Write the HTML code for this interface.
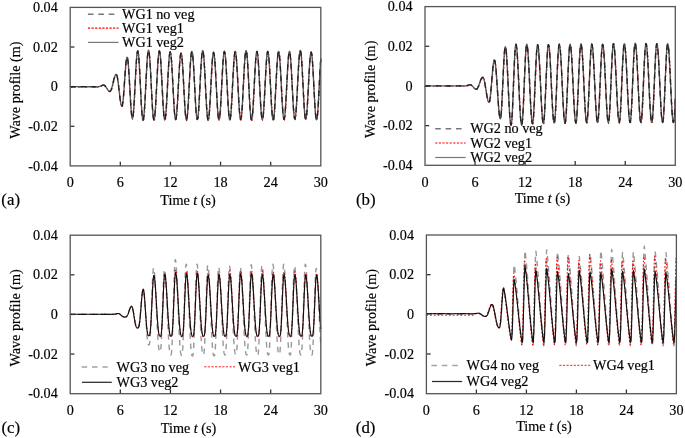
<!DOCTYPE html>
<html><head><meta charset="utf-8"><title>Wave profiles</title>
<style>
html,body{margin:0;padding:0;background:#fff;width:685px;height:438px;overflow:hidden}
svg{display:block;will-change:transform}
.ax{stroke:#333;stroke-width:1.3}
.fr{stroke:#555;stroke-width:1.3;fill:none}
text{font-family:"Liberation Serif", serif;stroke:#000;stroke-width:0.18px;paint-order:stroke}
</style></head><body>
<svg width="685" height="438" viewBox="0 0 685 438">
<rect width="685" height="438" fill="#fff"/>
<g font-family='"Liberation Serif", serif' fill="#000">
<text x="57.80" y="12.00" text-anchor="end" font-size="14.20">0.04</text>
<text x="57.80" y="51.62" text-anchor="end" font-size="14.20">0.02</text>
<line x1="70.20" y1="47.02" x2="74.40" y2="47.02" class="ax"/>
<text x="57.80" y="91.25" text-anchor="end" font-size="14.20">0</text>
<line x1="70.20" y1="86.65" x2="74.40" y2="86.65" class="ax"/>
<text x="57.80" y="130.88" text-anchor="end" font-size="14.20">-0.02</text>
<line x1="70.20" y1="126.28" x2="74.40" y2="126.28" class="ax"/>
<text x="57.80" y="170.50" text-anchor="end" font-size="14.20">-0.04</text>
<text x="70.20" y="186.90" text-anchor="middle" font-size="14.20">0</text>
<text x="120.32" y="186.90" text-anchor="middle" font-size="14.20">6</text>
<line x1="120.32" y1="165.90" x2="120.32" y2="161.70" class="ax"/>
<text x="170.44" y="186.90" text-anchor="middle" font-size="14.20">12</text>
<line x1="170.44" y1="165.90" x2="170.44" y2="161.70" class="ax"/>
<text x="220.56" y="186.90" text-anchor="middle" font-size="14.20">18</text>
<line x1="220.56" y1="165.90" x2="220.56" y2="161.70" class="ax"/>
<text x="270.68" y="186.90" text-anchor="middle" font-size="14.20">24</text>
<line x1="270.68" y1="165.90" x2="270.68" y2="161.70" class="ax"/>
<text x="320.80" y="186.90" text-anchor="middle" font-size="14.20">30</text>
<text x="160.30" y="204.70" font-size="14.20">Time <tspan font-style="italic">t</tspan> (s)</text>
<text transform="translate(1.30 205.00) scale(0.98 1)" font-size="17.2">(a)</text>
<text transform="translate(20.20 90.10) rotate(-90)" text-anchor="middle" font-size="14.20">Wave profile (m)</text>
<text x="412.60" y="11.20" text-anchor="end" font-size="14.20">0.04</text>
<text x="412.60" y="50.88" text-anchor="end" font-size="14.20">0.02</text>
<line x1="425.00" y1="46.28" x2="429.20" y2="46.28" class="ax"/>
<text x="412.60" y="90.55" text-anchor="end" font-size="14.20">0</text>
<line x1="425.00" y1="85.95" x2="429.20" y2="85.95" class="ax"/>
<text x="412.60" y="130.22" text-anchor="end" font-size="14.20">-0.02</text>
<line x1="425.00" y1="125.62" x2="429.20" y2="125.62" class="ax"/>
<text x="412.60" y="169.90" text-anchor="end" font-size="14.20">-0.04</text>
<text x="425.00" y="186.90" text-anchor="middle" font-size="14.20">0</text>
<text x="475.06" y="186.90" text-anchor="middle" font-size="14.20">6</text>
<line x1="475.06" y1="165.30" x2="475.06" y2="161.10" class="ax"/>
<text x="525.12" y="186.90" text-anchor="middle" font-size="14.20">12</text>
<line x1="525.12" y1="165.30" x2="525.12" y2="161.10" class="ax"/>
<text x="575.18" y="186.90" text-anchor="middle" font-size="14.20">18</text>
<line x1="575.18" y1="165.30" x2="575.18" y2="161.10" class="ax"/>
<text x="625.24" y="186.90" text-anchor="middle" font-size="14.20">24</text>
<line x1="625.24" y1="165.30" x2="625.24" y2="161.10" class="ax"/>
<text x="675.30" y="186.90" text-anchor="middle" font-size="14.20">30</text>
<text x="514.70" y="203.40" font-size="14.20">Time <tspan font-style="italic">t</tspan> (s)</text>
<text transform="translate(356.00 205.00) scale(0.98 1)" font-size="17.2">(b)</text>
<text transform="translate(375.00 89.30) rotate(-90)" text-anchor="middle" font-size="14.20">Wave profile (m)</text>
<text x="57.80" y="239.80" text-anchor="end" font-size="14.20">0.04</text>
<text x="57.80" y="279.43" text-anchor="end" font-size="14.20">0.02</text>
<line x1="70.20" y1="274.82" x2="74.40" y2="274.82" class="ax"/>
<text x="57.80" y="319.05" text-anchor="end" font-size="14.20">0</text>
<line x1="70.20" y1="314.45" x2="74.40" y2="314.45" class="ax"/>
<text x="57.80" y="358.68" text-anchor="end" font-size="14.20">-0.02</text>
<line x1="70.20" y1="354.07" x2="74.40" y2="354.07" class="ax"/>
<text x="57.80" y="398.30" text-anchor="end" font-size="14.20">-0.04</text>
<text x="70.20" y="414.70" text-anchor="middle" font-size="14.20">0</text>
<text x="120.32" y="414.70" text-anchor="middle" font-size="14.20">6</text>
<line x1="120.32" y1="393.70" x2="120.32" y2="389.50" class="ax"/>
<text x="170.44" y="414.70" text-anchor="middle" font-size="14.20">12</text>
<line x1="170.44" y1="393.70" x2="170.44" y2="389.50" class="ax"/>
<text x="220.56" y="414.70" text-anchor="middle" font-size="14.20">18</text>
<line x1="220.56" y1="393.70" x2="220.56" y2="389.50" class="ax"/>
<text x="270.68" y="414.70" text-anchor="middle" font-size="14.20">24</text>
<line x1="270.68" y1="393.70" x2="270.68" y2="389.50" class="ax"/>
<text x="320.80" y="414.70" text-anchor="middle" font-size="14.20">30</text>
<text x="160.80" y="432.70" font-size="14.20">Time <tspan font-style="italic">t</tspan> (s)</text>
<text transform="translate(1.40 432.60) scale(0.98 1)" font-size="17.2">(c)</text>
<text transform="translate(20.20 317.90) rotate(-90)" text-anchor="middle" font-size="14.20">Wave profile (m)</text>
<text x="414.00" y="239.60" text-anchor="end" font-size="14.20">0.04</text>
<text x="414.00" y="279.28" text-anchor="end" font-size="14.20">0.02</text>
<line x1="426.40" y1="274.68" x2="430.60" y2="274.68" class="ax"/>
<text x="414.00" y="318.95" text-anchor="end" font-size="14.20">0</text>
<line x1="426.40" y1="314.35" x2="430.60" y2="314.35" class="ax"/>
<text x="414.00" y="358.62" text-anchor="end" font-size="14.20">-0.02</text>
<line x1="426.40" y1="354.02" x2="430.60" y2="354.02" class="ax"/>
<text x="414.00" y="398.30" text-anchor="end" font-size="14.20">-0.04</text>
<text x="426.40" y="414.70" text-anchor="middle" font-size="14.20">0</text>
<text x="476.40" y="414.70" text-anchor="middle" font-size="14.20">6</text>
<line x1="476.40" y1="393.70" x2="476.40" y2="389.50" class="ax"/>
<text x="526.40" y="414.70" text-anchor="middle" font-size="14.20">12</text>
<line x1="526.40" y1="393.70" x2="526.40" y2="389.50" class="ax"/>
<text x="576.40" y="414.70" text-anchor="middle" font-size="14.20">18</text>
<line x1="576.40" y1="393.70" x2="576.40" y2="389.50" class="ax"/>
<text x="626.40" y="414.70" text-anchor="middle" font-size="14.20">24</text>
<line x1="626.40" y1="393.70" x2="626.40" y2="389.50" class="ax"/>
<text x="676.40" y="414.70" text-anchor="middle" font-size="14.20">30</text>
<text x="516.20" y="431.10" font-size="14.20">Time <tspan font-style="italic">t</tspan> (s)</text>
<text transform="translate(355.80 432.60) scale(0.98 1)" font-size="17.2">(d)</text>
<text transform="translate(376.40 317.70) rotate(-90)" text-anchor="middle" font-size="14.20">Wave profile (m)</text>
<line x1="87.90" y1="14.20" x2="118.50" y2="14.20" stroke="#777" stroke-width="1.5" stroke-dasharray="5.6 4.8"/>
<text x="122.00" y="18.90" text-anchor="start" font-size="14.20">WG1 no veg</text>
<line x1="87.90" y1="28.20" x2="118.50" y2="28.20" stroke="#f00" stroke-width="1.2" stroke-dasharray="2.2 1.4"/>
<text x="122.00" y="32.90" text-anchor="start" font-size="14.20">WG1 veg1</text>
<line x1="87.90" y1="42.40" x2="118.50" y2="42.40" stroke="#777" stroke-width="1.2"/>
<text x="122.00" y="47.10" text-anchor="start" font-size="14.20">WG1 veg2</text>
<line x1="435.20" y1="128.70" x2="465.60" y2="128.70" stroke="#777" stroke-width="1.5" stroke-dasharray="5.6 4.8"/>
<text x="470.20" y="133.40" text-anchor="start" font-size="14.20">WG2 no veg</text>
<line x1="435.20" y1="143.00" x2="465.60" y2="143.00" stroke="#f00" stroke-width="1.2" stroke-dasharray="2.2 1.4"/>
<text x="470.20" y="147.70" text-anchor="start" font-size="14.20">WG2 veg1</text>
<line x1="435.20" y1="157.50" x2="465.60" y2="157.50" stroke="#777" stroke-width="1.2"/>
<text x="470.20" y="162.20" text-anchor="start" font-size="14.20">WG2 veg2</text>
<line x1="81.60" y1="367.00" x2="107.80" y2="367.00" stroke="#a3a3a3" stroke-width="1.5" stroke-dasharray="5.6 4.8"/>
<text x="116.60" y="371.70" text-anchor="start" font-size="14.20">WG3 no veg</text>
<line x1="204.20" y1="366.80" x2="235.00" y2="366.80" stroke="#f22" stroke-width="1.0" stroke-dasharray="2.2 1.4"/>
<text x="238.00" y="371.50" text-anchor="start" font-size="14.20">WG3 veg1</text>
<line x1="82.00" y1="382.30" x2="111.80" y2="382.30" stroke="#2a2a2a" stroke-width="1.25"/>
<text x="116.60" y="387.00" text-anchor="start" font-size="14.20">WG3 veg2</text>
<line x1="431.40" y1="365.40" x2="458.10" y2="365.40" stroke="#a3a3a3" stroke-width="1.5" stroke-dasharray="5.6 4.8"/>
<text x="466.50" y="370.10" text-anchor="start" font-size="14.20">WG4 no veg</text>
<line x1="559.30" y1="365.30" x2="590.40" y2="365.30" stroke="#f22" stroke-width="1.0" stroke-dasharray="2.2 1.4"/>
<text x="593.10" y="370.00" text-anchor="start" font-size="14.20">WG4 veg1</text>
<line x1="432.00" y1="381.50" x2="462.20" y2="381.50" stroke="#2a2a2a" stroke-width="1.25"/>
<text x="466.50" y="386.20" text-anchor="start" font-size="14.20">WG4 veg2</text>
</g>
<path d="M70.50 87.10L70.50 87.03L72.00 87.17L73.50 87.15L75.00 87.05L76.50 87.10L78.00 87.09L79.50 87.13L81.00 87.16L82.50 87.02L84.00 87.01L85.50 87.17L87.00 87.09L88.50 87.15L90.00 87.00L91.50 87.09L93.00 87.14L94.50 87.05L96.00 87.19L97.50 87.18L98.48 87.10L98.74 87.09L99.00 87.06L99.25 87.02L99.51 86.96L99.77 86.89L100.03 86.80L100.29 86.70L100.54 86.59L100.80 86.48L101.06 86.36L101.32 86.24L101.58 86.12L101.84 86.01L102.09 85.90L102.35 85.80L102.61 85.71L102.87 85.64L103.13 85.58L103.38 85.54L103.64 85.51L103.90 85.50L104.15 85.52L104.40 85.60L104.66 85.72L104.91 85.89L105.16 86.10L105.41 86.35L105.66 86.64L105.92 86.96L106.17 87.31L106.42 87.68L106.67 88.06L106.92 88.45L107.18 88.85L107.43 89.24L107.68 89.62L107.93 89.99L108.18 90.34L108.44 90.66L108.69 90.95L108.94 91.20L109.19 91.41L109.44 91.58L109.70 91.70L109.95 91.78L110.20 91.80L110.45 91.73L110.70 91.53L110.96 91.20L111.21 90.74L111.46 90.17L111.71 89.48L111.96 88.70L112.22 87.83L112.47 86.89L112.72 85.89L112.97 84.85L113.22 83.79L113.48 82.71L113.73 81.65L113.98 80.61L114.23 79.61L114.48 78.67L114.74 77.80L114.99 77.02L115.24 76.33L115.49 75.76L115.74 75.30L116.00 74.97L116.25 74.77L116.50 74.70L116.76 74.86L117.02 75.35L117.28 76.14L117.54 77.23L117.80 78.60L118.05 80.20L118.31 82.03L118.57 84.02L118.83 86.16L119.09 88.38L119.35 90.65L119.61 92.92L119.87 95.14L120.13 97.28L120.39 99.27L120.65 101.40L120.90 103.00L121.16 104.37L121.42 105.46L121.68 106.25L121.94 106.74L122.20 106.90L122.46 106.60L122.72 105.70L122.98 104.23L123.24 102.22L123.50 99.42L123.76 96.50L124.02 93.22L124.28 89.67L124.54 85.93L124.80 82.10L125.06 78.27L125.32 74.53L125.58 70.98L125.84 67.70L126.10 64.78L126.36 62.28L126.62 60.27L126.88 58.80L127.14 57.90L127.40 57.60L127.65 57.94L127.90 58.96L128.16 60.64L128.41 62.93L128.66 65.78L128.91 69.14L129.17 72.93L129.42 77.05L129.67 81.43L129.92 85.96L130.18 90.54L130.43 95.07L130.68 99.45L130.93 103.88L131.19 107.66L131.44 111.02L131.69 113.87L131.94 116.16L132.20 117.84L132.45 118.86L132.70 119.20L132.95 118.82L133.20 117.70L133.46 115.85L133.71 113.33L133.96 110.18L134.21 106.47L134.47 102.30L134.72 97.45L134.97 92.62L135.22 87.63L135.48 82.57L135.73 77.58L135.98 72.75L136.23 68.20L136.49 64.03L136.74 60.32L136.99 57.17L137.24 54.65L137.50 52.80L137.75 51.68L138.00 51.30L138.25 51.69L138.50 52.84L138.76 54.74L139.01 57.33L139.26 60.56L139.51 64.36L139.77 68.65L140.02 73.32L140.27 78.28L140.52 83.41L140.78 88.59L141.03 93.72L141.28 98.68L141.53 103.65L141.79 107.94L142.04 111.74L142.29 114.97L142.54 117.56L142.80 119.46L143.05 120.61L143.30 121.00L143.55 120.64L143.80 119.58L144.05 117.83L144.30 115.44L144.55 112.44L144.80 108.90L145.05 104.90L145.30 100.21L145.55 95.52L145.80 90.64L146.05 85.65L146.30 80.66L146.55 75.78L146.80 71.09L147.05 66.70L147.30 62.70L147.55 59.16L147.80 56.16L148.05 53.77L148.30 52.02L148.55 50.96L148.80 50.60L149.06 50.99L149.32 52.15L149.57 54.06L149.83 56.66L150.09 59.92L150.35 63.74L150.61 68.05L150.86 72.75L151.12 77.73L151.38 82.89L151.64 88.11L151.90 93.27L152.16 98.25L152.41 103.25L152.67 107.56L152.93 111.38L153.19 114.64L153.45 117.24L153.70 119.15L153.96 120.31L154.22 120.70L154.48 120.31L154.74 119.17L154.99 117.28L155.25 114.70L155.51 111.48L155.77 107.69L156.03 103.43L156.28 98.47L156.54 93.54L156.80 88.43L157.06 83.27L157.32 78.16L157.58 73.23L157.83 68.58L158.09 64.31L158.35 60.52L158.61 57.30L158.87 54.72L159.12 52.83L159.38 51.69L159.64 51.30L159.90 51.69L160.16 52.83L160.41 54.72L160.67 57.30L160.93 60.52L161.19 64.31L161.45 68.58L161.70 73.23L161.96 78.16L162.22 83.27L162.48 88.43L162.74 93.54L163.00 98.47L163.25 103.42L163.51 107.69L163.77 111.48L164.03 114.70L164.29 117.28L164.54 119.17L164.80 120.31L165.06 120.70L165.32 120.32L165.58 119.19L165.83 117.32L166.09 114.77L166.35 111.60L166.61 107.86L166.87 103.65L167.12 98.76L167.38 93.89L167.64 88.85L167.90 83.75L168.16 78.71L168.42 73.84L168.67 69.25L168.93 65.04L169.19 61.30L169.45 58.13L169.71 55.58L169.96 53.71L170.22 52.58L170.48 52.20L170.74 52.58L171.00 53.71L171.25 55.56L171.51 58.09L171.77 61.25L172.03 64.96L172.29 69.15L172.54 73.71L172.80 78.56L173.06 83.57L173.32 88.63L173.58 93.64L173.84 98.49L174.09 103.35L174.35 107.54L174.61 111.25L174.87 114.41L175.13 116.94L175.38 118.79L175.64 119.92L175.90 120.30L176.16 119.93L176.42 118.82L176.67 117.01L176.93 114.52L177.19 111.42L177.45 107.78L177.71 103.67L177.96 98.90L178.22 94.15L178.48 89.23L178.74 84.27L179.00 79.35L179.26 74.60L179.51 70.12L179.77 66.02L180.03 62.38L180.29 59.28L180.55 56.79L180.80 54.98L181.06 53.87L181.32 53.50L181.58 53.87L181.84 54.99L182.09 56.81L182.35 59.31L182.61 62.43L182.87 66.09L183.13 70.22L183.38 74.73L183.64 79.51L183.90 84.45L184.16 89.45L184.42 94.39L184.68 99.17L184.93 103.97L185.19 108.11L185.45 111.77L185.71 114.89L185.97 117.39L186.22 119.21L186.48 120.33L186.74 120.70L187.00 120.32L187.26 119.18L187.51 117.30L187.77 114.74L188.03 111.54L188.29 107.79L188.55 103.55L188.80 98.63L189.06 93.73L189.32 88.66L189.58 83.54L189.84 78.47L190.10 73.57L190.35 68.95L190.61 64.71L190.87 60.96L191.13 57.76L191.39 55.20L191.64 53.32L191.90 52.18L192.16 51.80L192.42 52.18L192.68 53.31L192.93 55.17L193.19 57.72L193.45 60.89L193.71 64.62L193.97 68.83L194.22 73.41L194.48 78.27L194.74 83.31L195.00 88.39L195.26 93.43L195.52 98.29L195.77 103.17L196.03 107.38L196.29 111.11L196.55 114.28L196.81 116.83L197.06 118.69L197.32 119.82L197.58 120.20L197.84 119.81L198.10 118.67L198.35 116.78L198.61 114.21L198.87 110.99L199.13 107.21L199.39 102.95L199.64 98.00L199.90 93.08L200.16 87.98L200.42 82.82L200.68 77.72L200.94 72.80L201.19 68.15L201.45 63.89L201.71 60.11L201.97 56.89L202.23 54.32L202.48 52.43L202.74 51.29L203.00 50.90L203.26 51.29L203.52 52.45L203.77 54.35L204.03 56.96L204.29 60.20L204.55 64.02L204.81 68.33L205.06 73.02L205.32 78.00L205.58 83.15L205.84 88.35L206.10 93.50L206.36 98.48L206.61 103.47L206.87 107.78L207.13 111.60L207.39 114.84L207.65 117.45L207.90 119.35L208.16 120.51L208.42 120.90L208.68 120.52L208.94 119.39L209.19 117.54L209.45 115.00L209.71 111.84L209.97 108.12L210.23 103.93L210.48 99.05L210.74 94.20L211.00 89.19L211.26 84.11L211.52 79.10L211.78 74.25L212.03 69.68L212.29 65.48L212.55 61.76L212.81 58.60L213.07 56.06L213.32 54.21L213.58 53.08L213.84 52.70L214.10 53.08L214.36 54.20L214.61 56.04L214.87 58.56L215.13 61.71L215.39 65.41L215.65 69.58L215.90 74.12L216.16 78.94L216.42 83.93L216.68 88.97L216.94 93.96L217.20 98.78L217.45 103.62L217.71 107.79L217.97 111.49L218.23 114.64L218.49 117.16L218.74 119.00L219.00 120.12L219.26 120.50L219.52 120.12L219.78 118.98L220.03 117.11L220.29 114.56L220.55 111.37L220.81 107.62L221.07 103.40L221.32 98.49L221.58 93.61L221.84 88.56L222.10 83.44L222.36 78.39L222.62 73.51L222.87 68.90L223.13 64.68L223.39 60.93L223.65 57.74L223.91 55.19L224.16 53.32L224.42 52.18L224.68 51.80L224.94 52.18L225.20 53.32L225.45 55.20L225.71 57.76L225.97 60.96L226.23 64.71L226.49 68.95L226.74 73.57L227.00 78.47L227.26 83.54L227.52 88.66L227.78 93.73L228.04 98.63L228.29 103.55L228.55 107.79L228.81 111.54L229.07 114.74L229.33 117.30L229.58 119.18L229.84 120.32L230.10 120.70L230.36 120.32L230.62 119.18L230.87 117.30L231.13 114.74L231.39 111.54L231.65 107.79L231.91 103.55L232.16 98.63L232.42 93.73L232.68 88.66L232.94 83.54L233.20 78.47L233.46 73.57L233.71 68.95L233.97 64.71L234.23 60.96L234.49 57.76L234.75 55.20L235.00 53.32L235.26 52.18L235.52 51.80L235.78 52.18L236.04 53.31L236.29 55.17L236.55 57.72L236.81 60.89L237.07 64.62L237.33 68.83L237.58 73.41L237.84 78.27L238.10 83.31L238.36 88.39L238.62 93.43L238.88 98.29L239.13 103.17L239.39 107.38L239.65 111.11L239.91 114.28L240.17 116.83L240.42 118.69L240.68 119.82L240.94 120.20L241.20 119.81L241.46 118.67L241.71 116.78L241.97 114.21L242.23 110.99L242.49 107.21L242.75 102.95L243.00 98.00L243.26 93.08L243.52 87.98L243.78 82.82L244.04 77.72L244.30 72.80L244.55 68.15L244.81 63.89L245.07 60.11L245.33 56.89L245.59 54.32L245.84 52.43L246.10 51.29L246.36 50.90L246.62 51.29L246.88 52.44L247.13 54.34L247.39 56.94L247.65 60.18L247.91 63.98L248.17 68.28L248.42 72.95L248.68 77.92L248.94 83.05L249.20 88.25L249.46 93.38L249.72 98.35L249.97 103.33L250.23 107.62L250.49 111.42L250.75 114.66L251.01 117.26L251.26 119.16L251.52 120.31L251.78 120.70L252.04 120.32L252.30 119.18L252.55 117.30L252.81 114.74L253.07 111.54L253.33 107.79L253.59 103.55L253.84 98.63L254.10 93.73L254.36 88.66L254.62 83.54L254.88 78.47L255.14 73.57L255.39 68.95L255.65 64.71L255.91 60.96L256.17 57.76L256.43 55.20L256.68 53.32L256.94 52.18L257.20 51.80L257.46 52.18L257.72 53.31L257.97 55.18L258.23 57.73L258.49 60.90L258.75 64.64L259.01 68.85L259.26 73.44L259.52 78.31L259.78 83.35L260.04 88.45L260.30 93.49L260.56 98.36L260.81 103.25L261.07 107.46L261.33 111.20L261.59 114.37L261.85 116.92L262.10 118.79L262.36 119.92L262.62 120.30L262.88 119.92L263.14 118.79L263.39 116.92L263.65 114.37L263.91 111.20L264.17 107.46L264.43 103.25L264.68 98.36L264.94 93.49L265.20 88.45L265.46 83.35L265.72 78.31L265.98 73.44L266.23 68.85L266.49 64.64L266.75 60.90L267.01 57.73L267.27 55.18L267.52 53.31L267.78 52.18L268.04 51.80L268.30 52.18L268.56 53.33L268.81 55.20L269.07 57.77L269.33 60.97L269.59 64.73L269.85 68.98L270.10 73.60L270.36 78.51L270.62 83.58L270.88 88.72L271.14 93.79L271.40 98.70L271.65 103.62L271.91 107.87L272.17 111.63L272.43 114.83L272.69 117.40L272.94 119.27L273.20 120.42L273.46 120.80L273.72 120.42L273.98 119.27L274.23 117.40L274.49 114.83L274.75 111.63L275.01 107.87L275.27 103.63L275.52 98.70L275.78 93.79L276.04 88.72L276.30 83.58L276.56 78.51L276.82 73.60L277.07 68.98L277.33 64.73L277.59 60.97L277.85 57.77L278.11 55.20L278.36 53.33L278.62 52.18L278.88 51.80L279.14 52.18L279.40 53.31L279.65 55.17L279.91 57.71L280.17 60.88L280.43 64.60L280.69 68.80L280.94 73.38L281.20 78.23L281.46 83.26L281.72 88.34L281.98 93.37L282.24 98.22L282.49 103.10L282.75 107.30L283.01 111.02L283.27 114.19L283.53 116.73L283.78 118.59L284.04 119.72L284.30 120.10L284.56 119.72L284.82 118.59L285.07 116.73L285.33 114.19L285.59 111.02L285.85 107.30L286.11 103.10L286.36 98.22L286.62 93.37L286.88 88.34L287.14 83.26L287.40 78.23L287.66 73.38L287.91 68.80L288.17 64.60L288.43 60.88L288.69 57.71L288.95 55.17L289.20 53.31L289.46 52.18L289.72 51.80L289.98 52.18L290.24 53.30L290.49 55.15L290.75 57.67L291.01 60.82L291.27 64.53L291.53 68.70L291.78 73.25L292.04 78.08L292.30 83.07L292.56 88.13L292.82 93.12L293.08 97.95L293.33 102.80L293.59 106.97L293.85 110.68L294.11 113.83L294.37 116.35L294.62 118.20L294.88 119.32L295.14 119.70L295.40 119.32L295.66 118.18L295.91 116.30L296.17 113.74L296.43 110.54L296.69 106.79L296.95 102.55L297.20 97.63L297.46 92.73L297.72 87.66L297.98 82.54L298.24 77.47L298.50 72.57L298.75 67.95L299.01 63.71L299.27 59.96L299.53 56.76L299.79 54.20L300.04 52.32L300.30 51.18L300.56 50.80L300.82 51.19L301.08 52.33L301.33 54.22L301.59 56.79L301.85 60.01L302.11 63.79L302.37 68.05L302.62 72.70L302.88 77.62L303.14 82.72L303.40 87.88L303.66 92.98L303.92 97.90L304.17 102.85L304.43 107.11L304.69 110.89L304.95 114.11L305.21 116.68L305.46 118.57L305.72 119.71L305.98 120.10L306.24 119.72L306.50 118.60L306.75 116.76L307.01 114.24L307.27 111.10L307.53 107.41L307.79 103.25L308.04 98.41L308.30 93.60L308.56 88.62L308.82 83.58L309.08 78.60L309.34 73.79L309.59 69.25L309.85 65.09L310.11 61.40L310.37 58.26L310.63 55.74L310.88 53.90L311.14 52.78L311.40 52.40L311.66 52.78L311.92 53.91L312.17 55.76L312.43 58.29L312.69 61.45L312.95 65.16L313.21 69.35L313.46 73.91L313.72 78.76L313.98 83.77L314.24 88.83L314.50 93.84L314.76 98.69L315.01 103.55L315.27 107.74L315.53 111.45L315.79 114.61L316.05 117.14L316.30 118.99L316.56 120.12L316.82 120.50L317.08 120.12L317.34 118.97L317.59 117.09L317.85 114.52L318.11 111.32L318.37 107.55L318.63 103.30L318.88 98.37L319.14 93.45L319.40 88.37L319.66 83.23L319.92 78.15L320.18 73.23L320.43 68.60L320.69 64.35L320.95 60.58L321.10 58.71" fill="none" stroke="#e00" stroke-width="1.10" stroke-dasharray="1.6 2.2" stroke-linejoin="round"/>
<path d="M70.20 86.70L70.20 86.63L71.70 86.77L73.20 86.75L74.70 86.65L76.20 86.70L77.70 86.69L79.20 86.73L80.70 86.76L82.20 86.62L83.70 86.61L85.20 86.77L86.70 86.69L88.20 86.75L89.70 86.60L91.20 86.69L92.70 86.74L94.20 86.65L95.70 86.79L97.20 86.78L98.18 86.70L98.44 86.69L98.70 86.66L98.95 86.62L99.21 86.56L99.47 86.49L99.73 86.40L99.99 86.30L100.24 86.19L100.50 86.08L100.76 85.96L101.02 85.84L101.28 85.72L101.54 85.61L101.79 85.50L102.05 85.40L102.31 85.31L102.57 85.24L102.83 85.18L103.08 85.14L103.34 85.11L103.60 85.10L103.85 85.12L104.10 85.20L104.36 85.32L104.61 85.49L104.86 85.70L105.11 85.95L105.36 86.24L105.62 86.56L105.87 86.91L106.12 87.28L106.37 87.66L106.62 88.05L106.88 88.45L107.13 88.84L107.38 89.22L107.63 89.59L107.88 89.94L108.14 90.26L108.39 90.55L108.64 90.80L108.89 91.01L109.14 91.18L109.40 91.30L109.65 91.38L109.90 91.40L110.15 91.33L110.40 91.13L110.66 90.80L110.91 90.34L111.16 89.77L111.41 89.08L111.66 88.30L111.92 87.43L112.17 86.49L112.42 85.49L112.67 84.45L112.92 83.39L113.18 82.31L113.43 81.25L113.68 80.21L113.93 79.21L114.18 78.27L114.44 77.40L114.69 76.62L114.94 75.93L115.19 75.36L115.44 74.90L115.70 74.57L115.95 74.37L116.20 74.30L116.46 74.46L116.72 74.95L116.98 75.74L117.24 76.83L117.50 78.20L117.75 79.80L118.01 81.63L118.27 83.62L118.53 85.76L118.79 87.98L119.05 90.25L119.31 92.52L119.57 94.74L119.83 96.88L120.09 98.87L120.35 100.70L120.60 102.30L120.86 103.67L121.12 104.76L121.38 105.55L121.64 106.04L121.90 106.20L122.16 105.90L122.42 105.00L122.68 103.53L122.94 101.52L123.20 99.02L123.46 96.10L123.72 92.82L123.98 89.27L124.24 85.53L124.50 81.70L124.76 77.87L125.02 74.13L125.28 70.58L125.54 67.30L125.80 64.38L126.06 61.88L126.32 59.87L126.58 58.40L126.84 57.50L127.10 57.20L127.35 57.54L127.60 58.56L127.86 60.24L128.11 62.53L128.36 65.38L128.61 68.74L128.87 72.53L129.12 76.65L129.37 81.03L129.62 85.56L129.88 90.14L130.13 94.67L130.38 99.05L130.63 103.17L130.89 106.96L131.14 110.32L131.39 113.17L131.64 115.46L131.90 117.14L132.15 118.16L132.40 118.50L132.65 118.12L132.90 117.00L133.16 115.15L133.41 112.63L133.66 109.48L133.91 105.77L134.17 101.60L134.42 97.05L134.67 92.22L134.92 87.23L135.18 82.17L135.43 77.18L135.68 72.35L135.93 67.80L136.19 63.63L136.44 59.92L136.69 56.77L136.94 54.25L137.20 52.40L137.45 51.28L137.70 50.90L137.95 51.29L138.20 52.44L138.46 54.34L138.71 56.93L138.96 60.16L139.21 63.96L139.47 68.25L139.72 72.92L139.97 77.88L140.22 83.01L140.48 88.19L140.73 93.32L140.98 98.28L141.23 102.95L141.49 107.24L141.74 111.04L141.99 114.27L142.24 116.86L142.50 118.76L142.75 119.91L143.00 120.30L143.25 119.94L143.50 118.88L143.75 117.13L144.00 114.74L144.25 111.74L144.50 108.20L144.75 104.20L145.00 99.81L145.25 95.12L145.50 90.24L145.75 85.25L146.00 80.26L146.25 75.38L146.50 70.69L146.75 66.30L147.00 62.30L147.25 58.76L147.50 55.76L147.75 53.37L148.00 51.62L148.25 50.56L148.50 50.20L148.76 50.59L149.02 51.75L149.27 53.66L149.53 56.26L149.79 59.52L150.05 63.34L150.31 67.65L150.56 72.35L150.82 77.33L151.08 82.49L151.34 87.71L151.60 92.87L151.86 97.85L152.11 102.55L152.37 106.86L152.63 110.68L152.89 113.94L153.15 116.54L153.40 118.45L153.66 119.61L153.92 120.00L154.18 119.61L154.44 118.47L154.69 116.58L154.95 114.00L155.21 110.78L155.47 106.99L155.73 102.73L155.98 98.07L156.24 93.14L156.50 88.03L156.76 82.87L157.02 77.76L157.28 72.83L157.53 68.18L157.79 63.91L158.05 60.12L158.31 56.90L158.57 54.32L158.82 52.43L159.08 51.29L159.34 50.90L159.60 51.29L159.86 52.43L160.11 54.32L160.37 56.90L160.63 60.12L160.89 63.91L161.15 68.18L161.40 72.83L161.66 77.76L161.92 82.87L162.18 88.03L162.44 93.14L162.70 98.07L162.95 102.72L163.21 106.99L163.47 110.78L163.73 114.00L163.99 116.58L164.24 118.47L164.50 119.61L164.76 120.00L165.02 119.62L165.28 118.49L165.53 116.62L165.79 114.07L166.05 110.90L166.31 107.16L166.57 102.95L166.82 98.36L167.08 93.49L167.34 88.45L167.60 83.35L167.86 78.31L168.12 73.44L168.37 68.85L168.63 64.64L168.89 60.90L169.15 57.73L169.41 55.18L169.66 53.31L169.92 52.18L170.18 51.80L170.44 52.18L170.70 53.31L170.95 55.16L171.21 57.69L171.47 60.85L171.73 64.56L171.99 68.75L172.24 73.31L172.50 78.16L172.76 83.17L173.02 88.23L173.28 93.24L173.54 98.09L173.79 102.65L174.05 106.84L174.31 110.55L174.57 113.71L174.83 116.24L175.08 118.09L175.34 119.22L175.60 119.60L175.86 119.23L176.12 118.12L176.37 116.31L176.63 113.82L176.89 110.72L177.15 107.08L177.41 102.97L177.66 98.50L177.92 93.75L178.18 88.83L178.44 83.87L178.70 78.95L178.96 74.20L179.21 69.72L179.47 65.62L179.73 61.98L179.99 58.88L180.25 56.39L180.50 54.58L180.76 53.47L181.02 53.10L181.28 53.47L181.54 54.59L181.79 56.41L182.05 58.91L182.31 62.03L182.57 65.69L182.83 69.82L183.08 74.33L183.34 79.11L183.60 84.05L183.86 89.05L184.12 93.99L184.38 98.77L184.63 103.27L184.89 107.41L185.15 111.07L185.41 114.19L185.67 116.69L185.92 118.51L186.18 119.63L186.44 120.00L186.70 119.62L186.96 118.48L187.21 116.60L187.47 114.04L187.73 110.84L187.99 107.09L188.25 102.85L188.50 98.23L188.76 93.33L189.02 88.26L189.28 83.14L189.54 78.07L189.80 73.17L190.05 68.55L190.31 64.31L190.57 60.56L190.83 57.36L191.09 54.80L191.34 52.92L191.60 51.78L191.86 51.40L192.12 51.78L192.38 52.91L192.63 54.77L192.89 57.32L193.15 60.49L193.41 64.22L193.67 68.43L193.92 73.01L194.18 77.87L194.44 82.91L194.70 87.99L194.96 93.03L195.22 97.89L195.47 102.47L195.73 106.68L195.99 110.41L196.25 113.58L196.51 116.13L196.76 117.99L197.02 119.12L197.28 119.50L197.54 119.11L197.80 117.97L198.05 116.08L198.31 113.51L198.57 110.29L198.83 106.51L199.09 102.25L199.34 97.60L199.60 92.68L199.86 87.58L200.12 82.42L200.38 77.32L200.64 72.40L200.89 67.75L201.15 63.49L201.41 59.71L201.67 56.49L201.93 53.92L202.18 52.03L202.44 50.89L202.70 50.50L202.96 50.89L203.22 52.05L203.47 53.95L203.73 56.56L203.99 59.80L204.25 63.62L204.51 67.92L204.76 72.62L205.02 77.60L205.28 82.75L205.54 87.95L205.80 93.10L206.06 98.08L206.31 102.77L206.57 107.08L206.83 110.90L207.09 114.14L207.35 116.75L207.60 118.65L207.86 119.81L208.12 120.20L208.38 119.82L208.64 118.69L208.89 116.84L209.15 114.30L209.41 111.14L209.67 107.42L209.93 103.23L210.18 98.65L210.44 93.80L210.70 88.79L210.96 83.71L211.22 78.70L211.48 73.85L211.73 69.28L211.99 65.08L212.25 61.36L212.51 58.20L212.77 55.66L213.02 53.81L213.28 52.68L213.54 52.30L213.80 52.68L214.06 53.80L214.31 55.64L214.57 58.16L214.83 61.31L215.09 65.01L215.35 69.17L215.60 73.72L215.86 78.54L216.12 83.53L216.38 88.57L216.64 93.56L216.90 98.38L217.15 102.92L217.41 107.09L217.67 110.79L217.93 113.94L218.19 116.46L218.44 118.30L218.70 119.42L218.96 119.80L219.22 119.42L219.48 118.28L219.73 116.41L219.99 113.86L220.25 110.67L220.51 106.92L220.77 102.70L221.02 98.09L221.28 93.21L221.54 88.16L221.80 83.04L222.06 77.99L222.32 73.11L222.57 68.50L222.83 64.28L223.09 60.53L223.35 57.34L223.61 54.79L223.86 52.92L224.12 51.78L224.38 51.40L224.64 51.78L224.90 52.92L225.15 54.80L225.41 57.36L225.67 60.56L225.93 64.31L226.19 68.55L226.44 73.17L226.70 78.07L226.96 83.14L227.22 88.26L227.48 93.33L227.74 98.23L227.99 102.85L228.25 107.09L228.51 110.84L228.77 114.04L229.03 116.60L229.28 118.48L229.54 119.62L229.80 120.00L230.06 119.62L230.32 118.48L230.57 116.60L230.83 114.04L231.09 110.84L231.35 107.09L231.61 102.85L231.86 98.23L232.12 93.33L232.38 88.26L232.64 83.14L232.90 78.07L233.16 73.17L233.41 68.55L233.67 64.31L233.93 60.56L234.19 57.36L234.45 54.80L234.70 52.92L234.96 51.78L235.22 51.40L235.48 51.78L235.74 52.91L235.99 54.77L236.25 57.32L236.51 60.49L236.77 64.22L237.03 68.43L237.28 73.01L237.54 77.87L237.80 82.91L238.06 87.99L238.32 93.03L238.58 97.89L238.83 102.47L239.09 106.68L239.35 110.41L239.61 113.58L239.87 116.13L240.12 117.99L240.38 119.12L240.64 119.50L240.90 119.11L241.16 117.97L241.41 116.08L241.67 113.51L241.93 110.29L242.19 106.51L242.45 102.25L242.70 97.60L242.96 92.68L243.22 87.58L243.48 82.42L243.74 77.32L244.00 72.40L244.25 67.75L244.51 63.49L244.77 59.71L245.03 56.49L245.29 53.92L245.54 52.03L245.80 50.89L246.06 50.50L246.32 50.89L246.58 52.04L246.83 53.94L247.09 56.54L247.35 59.78L247.61 63.58L247.87 67.88L248.12 72.55L248.38 77.52L248.64 82.65L248.90 87.85L249.16 92.98L249.42 97.95L249.67 102.62L249.93 106.92L250.19 110.72L250.45 113.96L250.71 116.56L250.96 118.46L251.22 119.61L251.48 120.00L251.74 119.62L252.00 118.48L252.25 116.60L252.51 114.04L252.77 110.84L253.03 107.09L253.29 102.85L253.54 98.23L253.80 93.33L254.06 88.26L254.32 83.14L254.58 78.07L254.84 73.17L255.09 68.55L255.35 64.31L255.61 60.56L255.87 57.36L256.13 54.80L256.38 52.92L256.64 51.78L256.90 51.40L257.16 51.78L257.42 52.91L257.67 54.78L257.93 57.33L258.19 60.50L258.45 64.24L258.71 68.45L258.96 73.04L259.22 77.91L259.48 82.95L259.74 88.05L260.00 93.09L260.26 97.96L260.51 102.55L260.77 106.76L261.03 110.50L261.29 113.67L261.55 116.22L261.80 118.09L262.06 119.22L262.32 119.60L262.58 119.22L262.84 118.09L263.09 116.22L263.35 113.67L263.61 110.50L263.87 106.76L264.13 102.55L264.38 97.96L264.64 93.09L264.90 88.05L265.16 82.95L265.42 77.91L265.68 73.04L265.93 68.45L266.19 64.24L266.45 60.50L266.71 57.33L266.97 54.78L267.22 52.91L267.48 51.78L267.74 51.40L268.00 51.78L268.26 52.93L268.51 54.80L268.77 57.37L269.03 60.57L269.29 64.33L269.55 68.58L269.80 73.20L270.06 78.11L270.32 83.18L270.58 88.32L270.84 93.39L271.10 98.30L271.35 102.92L271.61 107.17L271.87 110.93L272.13 114.13L272.39 116.70L272.64 118.57L272.90 119.72L273.16 120.10L273.42 119.72L273.68 118.57L273.93 116.70L274.19 114.13L274.45 110.93L274.71 107.17L274.97 102.93L275.22 98.30L275.48 93.39L275.74 88.32L276.00 83.18L276.26 78.11L276.52 73.20L276.77 68.58L277.03 64.33L277.29 60.57L277.55 57.37L277.81 54.80L278.06 52.93L278.32 51.78L278.58 51.40L278.84 51.78L279.10 52.91L279.35 54.77L279.61 57.31L279.87 60.48L280.13 64.20L280.39 68.40L280.64 72.98L280.90 77.83L281.16 82.86L281.42 87.94L281.68 92.97L281.94 97.82L282.19 102.40L282.45 106.60L282.71 110.32L282.97 113.49L283.23 116.03L283.48 117.89L283.74 119.02L284.00 119.40L284.26 119.02L284.52 117.89L284.77 116.03L285.03 113.49L285.29 110.32L285.55 106.60L285.81 102.40L286.06 97.82L286.32 92.97L286.58 87.94L286.84 82.86L287.10 77.83L287.36 72.98L287.61 68.40L287.87 64.20L288.13 60.48L288.39 57.31L288.65 54.77L288.90 52.91L289.16 51.78L289.42 51.40L289.68 51.78L289.94 52.90L290.19 54.75L290.45 57.27L290.71 60.42L290.97 64.13L291.23 68.30L291.48 72.85L291.74 77.68L292.00 82.67L292.26 87.73L292.52 92.72L292.78 97.55L293.03 102.10L293.29 106.27L293.55 109.98L293.81 113.13L294.07 115.65L294.32 117.50L294.58 118.62L294.84 119.00L295.10 118.62L295.36 117.48L295.61 115.60L295.87 113.04L296.13 109.84L296.39 106.09L296.65 101.85L296.90 97.23L297.16 92.33L297.42 87.26L297.68 82.14L297.94 77.07L298.20 72.17L298.45 67.55L298.71 63.31L298.97 59.56L299.23 56.36L299.49 53.80L299.74 51.92L300.00 50.78L300.26 50.40L300.52 50.79L300.78 51.93L301.03 53.82L301.29 56.39L301.55 59.61L301.81 63.39L302.07 67.65L302.32 72.30L302.58 77.22L302.84 82.32L303.10 87.48L303.36 92.58L303.62 97.50L303.87 102.15L304.13 106.41L304.39 110.19L304.65 113.41L304.91 115.98L305.16 117.87L305.42 119.01L305.68 119.40L305.94 119.02L306.20 117.90L306.45 116.06L306.71 113.54L306.97 110.40L307.23 106.71L307.49 102.55L307.74 98.01L308.00 93.20L308.26 88.22L308.52 83.18L308.78 78.20L309.04 73.39L309.29 68.85L309.55 64.69L309.81 61.00L310.07 57.86L310.33 55.34L310.58 53.50L310.84 52.38L311.10 52.00L311.36 52.38L311.62 53.51L311.87 55.36L312.13 57.89L312.39 61.05L312.65 64.76L312.91 68.95L313.16 73.51L313.42 78.36L313.68 83.37L313.94 88.43L314.20 93.44L314.46 98.29L314.71 102.85L314.97 107.04L315.23 110.75L315.49 113.91L315.75 116.44L316.00 118.29L316.26 119.42L316.52 119.80L316.78 119.42L317.04 118.27L317.29 116.39L317.55 113.82L317.81 110.62L318.07 106.85L318.33 102.60L318.58 97.97L318.84 93.05L319.10 87.97L319.36 82.83L319.62 77.75L319.88 72.83L320.13 68.20L320.39 63.95L320.65 60.18L320.80 58.31" fill="none" stroke="#555" stroke-width="1.30" stroke-linejoin="round"/>
<path d="M70.20 86.70L70.20 86.63L71.70 86.77L73.20 86.75L74.70 86.65L76.20 86.70L77.70 86.69L79.20 86.73L80.70 86.76L82.20 86.62L83.70 86.61L85.20 86.77L86.70 86.69L88.20 86.75L89.70 86.60L91.20 86.69L92.70 86.74L94.20 86.65L95.70 86.79L97.20 86.78L98.18 86.70L98.44 86.69L98.70 86.66L98.95 86.62L99.21 86.56L99.47 86.49L99.73 86.40L99.99 86.30L100.24 86.19L100.50 86.08L100.76 85.96L101.02 85.84L101.28 85.72L101.54 85.61L101.79 85.50L102.05 85.40L102.31 85.31L102.57 85.24L102.83 85.18L103.08 85.14L103.34 85.11L103.60 85.10L103.85 85.12L104.10 85.20L104.36 85.32L104.61 85.49L104.86 85.70L105.11 85.95L105.36 86.24L105.62 86.56L105.87 86.91L106.12 87.28L106.37 87.66L106.62 88.05L106.88 88.45L107.13 88.84L107.38 89.22L107.63 89.59L107.88 89.94L108.14 90.26L108.39 90.55L108.64 90.80L108.89 91.01L109.14 91.18L109.40 91.30L109.65 91.38L109.90 91.40L110.15 91.33L110.40 91.13L110.66 90.80L110.91 90.34L111.16 89.77L111.41 89.08L111.66 88.30L111.92 87.43L112.17 86.49L112.42 85.49L112.67 84.45L112.92 83.39L113.18 82.31L113.43 81.25L113.68 80.21L113.93 79.21L114.18 78.27L114.44 77.40L114.69 76.62L114.94 75.93L115.19 75.36L115.44 74.90L115.70 74.57L115.95 74.37L116.20 74.30L116.46 74.46L116.72 74.95L116.98 75.74L117.24 76.83L117.50 78.20L117.75 79.80L118.01 81.63L118.27 83.62L118.53 85.76L118.79 87.98L119.05 90.25L119.31 92.52L119.57 94.74L119.83 96.88L120.09 98.87L120.35 100.70L120.60 102.30L120.86 103.67L121.12 104.76L121.38 105.55L121.64 106.04L121.90 106.20L122.16 105.90L122.42 105.00L122.68 103.53L122.94 101.52L123.20 99.02L123.46 96.10L123.72 92.82L123.98 89.27L124.24 85.53L124.50 81.70L124.76 77.87L125.02 74.13L125.28 70.58L125.54 67.30L125.80 64.38L126.06 61.88L126.32 59.87L126.58 58.40L126.84 57.50L127.10 57.20L127.35 57.54L127.60 58.56L127.86 60.24L128.11 62.53L128.36 65.38L128.61 68.74L128.87 72.53L129.12 76.65L129.37 81.03L129.62 85.56L129.88 90.14L130.13 94.67L130.38 99.05L130.63 103.17L130.89 106.96L131.14 110.32L131.39 113.17L131.64 115.46L131.90 117.14L132.15 118.16L132.40 118.50L132.65 118.12L132.90 117.00L133.16 115.15L133.41 112.63L133.66 109.48L133.91 105.77L134.17 101.60L134.42 97.05L134.67 92.22L134.92 87.23L135.18 82.17L135.43 77.18L135.68 72.35L135.93 67.80L136.19 63.63L136.44 59.92L136.69 56.77L136.94 54.25L137.20 52.40L137.45 51.28L137.70 50.90L137.95 51.29L138.20 52.44L138.46 54.34L138.71 56.93L138.96 60.16L139.21 63.96L139.47 68.25L139.72 72.92L139.97 77.88L140.22 83.01L140.48 88.19L140.73 93.32L140.98 98.28L141.23 102.95L141.49 107.24L141.74 111.04L141.99 114.27L142.24 116.86L142.50 118.76L142.75 119.91L143.00 120.30L143.25 119.94L143.50 118.88L143.75 117.13L144.00 114.74L144.25 111.74L144.50 108.20L144.75 104.20L145.00 99.81L145.25 95.12L145.50 90.24L145.75 85.25L146.00 80.26L146.25 75.38L146.50 70.69L146.75 66.30L147.00 62.30L147.25 58.76L147.50 55.76L147.75 53.37L148.00 51.62L148.25 50.56L148.50 50.20L148.76 50.59L149.02 51.75L149.27 53.66L149.53 56.26L149.79 59.52L150.05 63.34L150.31 67.65L150.56 72.35L150.82 77.33L151.08 82.49L151.34 87.71L151.60 92.87L151.86 97.85L152.11 102.55L152.37 106.86L152.63 110.68L152.89 113.94L153.15 116.54L153.40 118.45L153.66 119.61L153.92 120.00L154.18 119.61L154.44 118.47L154.69 116.58L154.95 114.00L155.21 110.78L155.47 106.99L155.73 102.73L155.98 98.07L156.24 93.14L156.50 88.03L156.76 82.87L157.02 77.76L157.28 72.83L157.53 68.18L157.79 63.91L158.05 60.12L158.31 56.90L158.57 54.32L158.82 52.43L159.08 51.29L159.34 50.90L159.60 51.29L159.86 52.43L160.11 54.32L160.37 56.90L160.63 60.12L160.89 63.91L161.15 68.18L161.40 72.83L161.66 77.76L161.92 82.87L162.18 88.03L162.44 93.14L162.70 98.07L162.95 102.72L163.21 106.99L163.47 110.78L163.73 114.00L163.99 116.58L164.24 118.47L164.50 119.61L164.76 120.00L165.02 119.62L165.28 118.49L165.53 116.62L165.79 114.07L166.05 110.90L166.31 107.16L166.57 102.95L166.82 98.36L167.08 93.49L167.34 88.45L167.60 83.35L167.86 78.31L168.12 73.44L168.37 68.85L168.63 64.64L168.89 60.90L169.15 57.73L169.41 55.18L169.66 53.31L169.92 52.18L170.18 51.80L170.44 52.18L170.70 53.31L170.95 55.16L171.21 57.69L171.47 60.85L171.73 64.56L171.99 68.75L172.24 73.31L172.50 78.16L172.76 83.17L173.02 88.23L173.28 93.24L173.54 98.09L173.79 102.65L174.05 106.84L174.31 110.55L174.57 113.71L174.83 116.24L175.08 118.09L175.34 119.22L175.60 119.60L175.86 119.23L176.12 118.12L176.37 116.31L176.63 113.82L176.89 110.72L177.15 107.08L177.41 102.97L177.66 98.50L177.92 93.75L178.18 88.83L178.44 83.87L178.70 78.95L178.96 74.20L179.21 69.72L179.47 65.62L179.73 61.98L179.99 58.88L180.25 56.39L180.50 54.58L180.76 53.47L181.02 53.10L181.28 53.47L181.54 54.59L181.79 56.41L182.05 58.91L182.31 62.03L182.57 65.69L182.83 69.82L183.08 74.33L183.34 79.11L183.60 84.05L183.86 89.05L184.12 93.99L184.38 98.77L184.63 103.27L184.89 107.41L185.15 111.07L185.41 114.19L185.67 116.69L185.92 118.51L186.18 119.63L186.44 120.00L186.70 119.62L186.96 118.48L187.21 116.60L187.47 114.04L187.73 110.84L187.99 107.09L188.25 102.85L188.50 98.23L188.76 93.33L189.02 88.26L189.28 83.14L189.54 78.07L189.80 73.17L190.05 68.55L190.31 64.31L190.57 60.56L190.83 57.36L191.09 54.80L191.34 52.92L191.60 51.78L191.86 51.40L192.12 51.78L192.38 52.91L192.63 54.77L192.89 57.32L193.15 60.49L193.41 64.22L193.67 68.43L193.92 73.01L194.18 77.87L194.44 82.91L194.70 87.99L194.96 93.03L195.22 97.89L195.47 102.47L195.73 106.68L195.99 110.41L196.25 113.58L196.51 116.13L196.76 117.99L197.02 119.12L197.28 119.50L197.54 119.11L197.80 117.97L198.05 116.08L198.31 113.51L198.57 110.29L198.83 106.51L199.09 102.25L199.34 97.60L199.60 92.68L199.86 87.58L200.12 82.42L200.38 77.32L200.64 72.40L200.89 67.75L201.15 63.49L201.41 59.71L201.67 56.49L201.93 53.92L202.18 52.03L202.44 50.89L202.70 50.50L202.96 50.89L203.22 52.05L203.47 53.95L203.73 56.56L203.99 59.80L204.25 63.62L204.51 67.92L204.76 72.62L205.02 77.60L205.28 82.75L205.54 87.95L205.80 93.10L206.06 98.08L206.31 102.77L206.57 107.08L206.83 110.90L207.09 114.14L207.35 116.75L207.60 118.65L207.86 119.81L208.12 120.20L208.38 119.82L208.64 118.69L208.89 116.84L209.15 114.30L209.41 111.14L209.67 107.42L209.93 103.23L210.18 98.65L210.44 93.80L210.70 88.79L210.96 83.71L211.22 78.70L211.48 73.85L211.73 69.28L211.99 65.08L212.25 61.36L212.51 58.20L212.77 55.66L213.02 53.81L213.28 52.68L213.54 52.30L213.80 52.68L214.06 53.80L214.31 55.64L214.57 58.16L214.83 61.31L215.09 65.01L215.35 69.17L215.60 73.72L215.86 78.54L216.12 83.53L216.38 88.57L216.64 93.56L216.90 98.38L217.15 102.92L217.41 107.09L217.67 110.79L217.93 113.94L218.19 116.46L218.44 118.30L218.70 119.42L218.96 119.80L219.22 119.42L219.48 118.28L219.73 116.41L219.99 113.86L220.25 110.67L220.51 106.92L220.77 102.70L221.02 98.09L221.28 93.21L221.54 88.16L221.80 83.04L222.06 77.99L222.32 73.11L222.57 68.50L222.83 64.28L223.09 60.53L223.35 57.34L223.61 54.79L223.86 52.92L224.12 51.78L224.38 51.40L224.64 51.78L224.90 52.92L225.15 54.80L225.41 57.36L225.67 60.56L225.93 64.31L226.19 68.55L226.44 73.17L226.70 78.07L226.96 83.14L227.22 88.26L227.48 93.33L227.74 98.23L227.99 102.85L228.25 107.09L228.51 110.84L228.77 114.04L229.03 116.60L229.28 118.48L229.54 119.62L229.80 120.00L230.06 119.62L230.32 118.48L230.57 116.60L230.83 114.04L231.09 110.84L231.35 107.09L231.61 102.85L231.86 98.23L232.12 93.33L232.38 88.26L232.64 83.14L232.90 78.07L233.16 73.17L233.41 68.55L233.67 64.31L233.93 60.56L234.19 57.36L234.45 54.80L234.70 52.92L234.96 51.78L235.22 51.40L235.48 51.78L235.74 52.91L235.99 54.77L236.25 57.32L236.51 60.49L236.77 64.22L237.03 68.43L237.28 73.01L237.54 77.87L237.80 82.91L238.06 87.99L238.32 93.03L238.58 97.89L238.83 102.47L239.09 106.68L239.35 110.41L239.61 113.58L239.87 116.13L240.12 117.99L240.38 119.12L240.64 119.50L240.90 119.11L241.16 117.97L241.41 116.08L241.67 113.51L241.93 110.29L242.19 106.51L242.45 102.25L242.70 97.60L242.96 92.68L243.22 87.58L243.48 82.42L243.74 77.32L244.00 72.40L244.25 67.75L244.51 63.49L244.77 59.71L245.03 56.49L245.29 53.92L245.54 52.03L245.80 50.89L246.06 50.50L246.32 50.89L246.58 52.04L246.83 53.94L247.09 56.54L247.35 59.78L247.61 63.58L247.87 67.88L248.12 72.55L248.38 77.52L248.64 82.65L248.90 87.85L249.16 92.98L249.42 97.95L249.67 102.62L249.93 106.92L250.19 110.72L250.45 113.96L250.71 116.56L250.96 118.46L251.22 119.61L251.48 120.00L251.74 119.62L252.00 118.48L252.25 116.60L252.51 114.04L252.77 110.84L253.03 107.09L253.29 102.85L253.54 98.23L253.80 93.33L254.06 88.26L254.32 83.14L254.58 78.07L254.84 73.17L255.09 68.55L255.35 64.31L255.61 60.56L255.87 57.36L256.13 54.80L256.38 52.92L256.64 51.78L256.90 51.40L257.16 51.78L257.42 52.91L257.67 54.78L257.93 57.33L258.19 60.50L258.45 64.24L258.71 68.45L258.96 73.04L259.22 77.91L259.48 82.95L259.74 88.05L260.00 93.09L260.26 97.96L260.51 102.55L260.77 106.76L261.03 110.50L261.29 113.67L261.55 116.22L261.80 118.09L262.06 119.22L262.32 119.60L262.58 119.22L262.84 118.09L263.09 116.22L263.35 113.67L263.61 110.50L263.87 106.76L264.13 102.55L264.38 97.96L264.64 93.09L264.90 88.05L265.16 82.95L265.42 77.91L265.68 73.04L265.93 68.45L266.19 64.24L266.45 60.50L266.71 57.33L266.97 54.78L267.22 52.91L267.48 51.78L267.74 51.40L268.00 51.78L268.26 52.93L268.51 54.80L268.77 57.37L269.03 60.57L269.29 64.33L269.55 68.58L269.80 73.20L270.06 78.11L270.32 83.18L270.58 88.32L270.84 93.39L271.10 98.30L271.35 102.92L271.61 107.17L271.87 110.93L272.13 114.13L272.39 116.70L272.64 118.57L272.90 119.72L273.16 120.10L273.42 119.72L273.68 118.57L273.93 116.70L274.19 114.13L274.45 110.93L274.71 107.17L274.97 102.93L275.22 98.30L275.48 93.39L275.74 88.32L276.00 83.18L276.26 78.11L276.52 73.20L276.77 68.58L277.03 64.33L277.29 60.57L277.55 57.37L277.81 54.80L278.06 52.93L278.32 51.78L278.58 51.40L278.84 51.78L279.10 52.91L279.35 54.77L279.61 57.31L279.87 60.48L280.13 64.20L280.39 68.40L280.64 72.98L280.90 77.83L281.16 82.86L281.42 87.94L281.68 92.97L281.94 97.82L282.19 102.40L282.45 106.60L282.71 110.32L282.97 113.49L283.23 116.03L283.48 117.89L283.74 119.02L284.00 119.40L284.26 119.02L284.52 117.89L284.77 116.03L285.03 113.49L285.29 110.32L285.55 106.60L285.81 102.40L286.06 97.82L286.32 92.97L286.58 87.94L286.84 82.86L287.10 77.83L287.36 72.98L287.61 68.40L287.87 64.20L288.13 60.48L288.39 57.31L288.65 54.77L288.90 52.91L289.16 51.78L289.42 51.40L289.68 51.78L289.94 52.90L290.19 54.75L290.45 57.27L290.71 60.42L290.97 64.13L291.23 68.30L291.48 72.85L291.74 77.68L292.00 82.67L292.26 87.73L292.52 92.72L292.78 97.55L293.03 102.10L293.29 106.27L293.55 109.98L293.81 113.13L294.07 115.65L294.32 117.50L294.58 118.62L294.84 119.00L295.10 118.62L295.36 117.48L295.61 115.60L295.87 113.04L296.13 109.84L296.39 106.09L296.65 101.85L296.90 97.23L297.16 92.33L297.42 87.26L297.68 82.14L297.94 77.07L298.20 72.17L298.45 67.55L298.71 63.31L298.97 59.56L299.23 56.36L299.49 53.80L299.74 51.92L300.00 50.78L300.26 50.40L300.52 50.79L300.78 51.93L301.03 53.82L301.29 56.39L301.55 59.61L301.81 63.39L302.07 67.65L302.32 72.30L302.58 77.22L302.84 82.32L303.10 87.48L303.36 92.58L303.62 97.50L303.87 102.15L304.13 106.41L304.39 110.19L304.65 113.41L304.91 115.98L305.16 117.87L305.42 119.01L305.68 119.40L305.94 119.02L306.20 117.90L306.45 116.06L306.71 113.54L306.97 110.40L307.23 106.71L307.49 102.55L307.74 98.01L308.00 93.20L308.26 88.22L308.52 83.18L308.78 78.20L309.04 73.39L309.29 68.85L309.55 64.69L309.81 61.00L310.07 57.86L310.33 55.34L310.58 53.50L310.84 52.38L311.10 52.00L311.36 52.38L311.62 53.51L311.87 55.36L312.13 57.89L312.39 61.05L312.65 64.76L312.91 68.95L313.16 73.51L313.42 78.36L313.68 83.37L313.94 88.43L314.20 93.44L314.46 98.29L314.71 102.85L314.97 107.04L315.23 110.75L315.49 113.91L315.75 116.44L316.00 118.29L316.26 119.42L316.52 119.80L316.78 119.42L317.04 118.27L317.29 116.39L317.55 113.82L317.81 110.62L318.07 106.85L318.33 102.60L318.58 97.97L318.84 93.05L319.10 87.97L319.36 82.83L319.62 77.75L319.88 72.83L320.13 68.20L320.39 63.95L320.65 60.18L320.80 58.31" fill="none" stroke="#222" stroke-width="1.30" stroke-dasharray="5.6 4.8" stroke-linejoin="round"/>
<path d="M425.30 86.30L425.30 86.39L426.80 86.39L428.30 86.21L429.80 86.22L431.30 86.37L432.80 86.35L434.30 86.33L435.80 86.26L437.30 86.32L438.80 86.32L440.30 86.32L441.80 86.23L443.30 86.29L444.80 86.28L446.30 86.34L447.80 86.40L449.30 86.39L450.80 86.31L452.30 86.29L453.80 86.25L455.30 86.21L456.80 86.21L458.30 86.29L459.80 86.26L461.30 86.28L462.80 86.38L464.30 86.31L465.18 86.30L465.44 86.29L465.70 86.28L465.95 86.25L466.21 86.20L466.47 86.15L466.73 86.09L466.99 86.03L467.24 85.95L467.50 85.87L467.76 85.79L468.02 85.71L468.28 85.63L468.54 85.55L468.79 85.48L469.05 85.41L469.31 85.35L469.57 85.30L469.83 85.25L470.08 85.22L470.34 85.21L470.60 85.20L470.86 85.22L471.11 85.28L471.37 85.38L471.63 85.52L471.88 85.69L472.14 85.90L472.40 86.13L472.65 86.39L472.91 86.66L473.17 86.95L473.42 87.25L473.68 87.55L473.93 87.85L474.19 88.14L474.45 88.41L474.70 88.67L474.96 88.90L475.22 89.11L475.47 89.28L475.73 89.42L475.99 89.52L476.24 89.58L476.50 89.60L476.75 89.56L477.01 89.43L477.26 89.21L477.52 88.92L477.77 88.55L478.02 88.10L478.28 87.60L478.53 87.03L478.78 86.42L479.04 85.76L479.29 85.07L479.55 84.37L479.80 83.65L480.05 82.93L480.31 82.23L480.56 81.54L480.82 80.88L481.07 80.27L481.32 79.70L481.58 79.20L481.83 78.75L482.08 78.38L482.34 78.09L482.59 77.87L482.85 77.74L483.10 77.70L483.36 77.81L483.62 78.13L483.88 78.65L484.13 79.37L484.39 80.28L484.65 81.36L484.91 82.59L485.17 83.95L485.43 85.42L485.68 86.96L485.94 88.57L486.20 90.20L486.46 91.83L486.72 93.44L486.98 94.98L487.23 96.45L487.49 97.81L487.75 99.04L488.01 100.12L488.27 101.33L488.53 102.05L488.78 102.57L489.04 102.89L489.30 103.00L489.56 102.76L489.81 102.06L490.07 100.91L490.33 99.03L490.59 97.07L490.84 94.76L491.10 92.15L491.36 89.31L491.61 86.30L491.87 83.18L492.13 80.02L492.39 76.90L492.64 73.89L492.90 71.05L493.16 68.44L493.41 66.13L493.67 64.17L493.93 62.59L494.19 61.44L494.44 60.74L494.70 60.50L494.96 60.77L495.21 61.59L495.47 62.93L495.73 64.77L495.98 67.07L496.24 69.80L496.50 72.90L496.75 76.32L497.01 79.99L497.27 83.84L497.52 87.80L497.78 91.80L498.03 95.76L498.29 99.61L498.55 103.58L498.80 107.00L499.06 110.10L499.32 112.83L499.57 115.13L499.83 116.97L500.09 118.31L500.34 119.13L500.60 119.40L500.85 118.96L501.10 117.64L501.35 115.48L501.60 112.52L501.85 108.86L502.10 104.56L502.35 99.44L502.60 94.22L502.85 88.73L503.10 83.10L503.35 77.47L503.60 71.98L503.85 66.76L504.10 61.94L504.35 57.64L504.60 53.98L504.85 51.02L505.10 48.86L505.35 47.54L505.60 47.10L505.86 47.50L506.12 48.69L506.38 50.64L506.64 53.32L506.90 56.67L507.15 60.63L507.41 65.11L507.67 70.02L507.93 75.26L508.19 80.72L508.45 86.30L508.71 91.88L508.97 97.34L509.23 102.88L509.49 107.79L509.75 112.27L510.00 116.23L510.26 119.58L510.52 122.26L510.78 124.21L511.04 125.40L511.30 125.80L511.56 125.25L511.82 123.61L512.07 120.92L512.33 117.27L512.59 112.75L512.85 107.47L513.11 101.60L513.36 94.98L513.62 88.39L513.88 81.71L514.14 75.12L514.39 68.80L514.65 62.93L514.91 57.65L515.17 53.13L515.43 49.48L515.68 46.79L515.94 45.15L516.20 44.60L516.46 45.01L516.72 46.24L516.98 48.26L517.24 51.02L517.51 54.48L517.77 58.56L518.03 63.18L518.29 68.25L518.55 73.65L518.81 79.29L519.07 85.05L519.33 90.81L519.59 96.45L519.86 102.15L520.12 107.22L520.38 111.84L520.64 115.92L520.90 119.38L521.16 122.14L521.42 124.16L521.68 125.39L521.95 125.80L522.20 125.30L522.45 123.82L522.71 121.39L522.96 118.07L523.22 113.95L523.47 109.13L523.73 103.71L523.98 97.55L524.24 91.38L524.49 85.05L524.75 78.72L525.00 72.55L525.26 66.69L525.51 61.27L525.77 56.45L526.02 52.33L526.28 49.01L526.53 46.58L526.79 45.10L527.04 44.60L527.30 45.00L527.56 46.21L527.82 48.19L528.08 50.91L528.35 54.31L528.61 58.32L528.87 62.86L529.13 67.84L529.39 73.15L529.65 78.69L529.91 84.35L530.17 90.01L530.43 95.55L530.70 101.16L530.96 106.14L531.22 110.68L531.48 114.69L531.74 118.09L532.00 120.81L532.26 122.79L532.52 124.00L532.79 124.40L533.04 123.91L533.29 122.46L533.55 120.09L533.80 116.85L534.06 112.82L534.31 108.10L534.57 102.81L534.82 96.77L535.08 90.74L535.33 84.55L535.59 78.36L535.84 72.33L536.10 66.59L536.35 61.30L536.61 56.58L536.86 52.55L537.12 49.31L537.37 46.94L537.63 45.49L537.88 45.00L538.14 45.40L538.40 46.60L538.66 48.57L538.92 51.26L539.19 54.64L539.45 58.62L539.71 63.12L539.97 68.06L540.23 73.34L540.49 78.84L540.75 84.45L541.01 90.06L541.27 95.56L541.54 101.14L541.80 106.08L542.06 110.58L542.32 114.56L542.58 117.94L542.84 120.63L543.10 122.60L543.36 123.80L543.63 124.20L543.88 123.71L544.13 122.27L544.39 119.90L544.64 116.67L544.90 112.65L545.15 107.94L545.41 102.66L545.66 96.64L545.92 90.62L546.17 84.45L546.43 78.28L546.68 72.26L546.94 66.54L547.19 61.26L547.45 56.55L547.70 52.53L547.96 49.30L548.21 46.93L548.47 45.49L548.72 45.00L548.98 45.40L549.24 46.59L549.50 48.54L549.76 51.22L550.03 54.57L550.29 58.53L550.55 63.01L550.81 67.92L551.07 73.16L551.33 78.62L551.59 84.20L551.85 89.78L552.11 95.24L552.38 100.78L552.64 105.69L552.90 110.17L553.16 114.13L553.42 117.48L553.68 120.16L553.94 122.11L554.20 123.30L554.47 123.70L554.72 123.21L554.97 121.77L555.23 119.41L555.48 116.18L555.74 112.16L555.99 107.46L556.25 102.19L556.50 96.18L556.76 90.16L557.01 84.00L557.27 77.84L557.52 71.82L557.78 66.11L558.03 60.84L558.29 56.14L558.54 52.12L558.80 48.89L559.05 46.53L559.31 45.09L559.56 44.60L559.82 45.00L560.08 46.20L560.34 48.17L560.60 50.87L560.87 54.25L561.13 58.23L561.39 62.74L561.65 67.69L561.91 72.97L562.17 78.48L562.43 84.10L562.69 89.72L562.95 95.23L563.22 100.81L563.48 105.76L563.74 110.27L564.00 114.25L564.26 117.63L564.52 120.33L564.78 122.30L565.04 123.50L565.31 123.90L565.56 123.41L565.81 121.97L566.07 119.59L566.32 116.36L566.58 112.33L566.83 107.62L567.09 102.33L567.34 96.31L567.60 90.28L567.85 84.10L568.11 77.92L568.36 71.89L568.62 66.17L568.87 60.88L569.13 56.17L569.38 52.14L569.64 48.91L569.89 46.53L570.15 45.09L570.40 44.60L570.66 45.00L570.92 46.19L571.18 48.15L571.44 50.84L571.71 54.20L571.97 58.16L572.23 62.65L572.49 67.57L572.75 72.83L573.01 78.31L573.27 83.90L573.53 89.49L573.79 94.97L574.06 100.23L574.32 105.45L574.58 109.94L574.84 113.90L575.10 117.26L575.36 119.95L575.62 121.91L575.88 123.10L576.15 123.50L576.40 123.01L576.65 121.57L576.91 119.20L577.16 115.97L577.42 111.95L577.67 107.24L577.93 101.96L578.18 95.94L578.44 89.92L578.69 83.75L578.95 77.58L579.20 71.56L579.46 65.84L579.71 60.56L579.97 55.85L580.22 51.83L580.48 48.60L580.73 46.23L580.99 44.79L581.24 44.30L581.50 44.70L581.76 45.89L582.02 47.85L582.28 50.54L582.55 53.90L582.81 57.86L583.07 62.35L583.33 67.27L583.59 72.53L583.85 78.01L584.11 83.60L584.37 89.19L584.63 94.67L584.90 99.93L585.16 105.15L585.42 109.64L585.68 113.60L585.94 116.96L586.20 119.65L586.46 121.61L586.72 122.80L586.99 123.20L587.24 122.72L587.49 121.28L587.75 118.92L588.00 115.70L588.26 111.70L588.51 107.02L588.77 101.77L589.02 95.78L589.28 89.79L589.53 83.65L589.79 77.51L590.04 71.52L590.30 65.83L590.55 60.58L590.81 55.90L591.06 51.90L591.32 48.68L591.57 46.32L591.83 44.88L592.08 44.40L592.34 44.80L592.60 45.99L592.86 47.95L593.12 50.63L593.39 53.99L593.65 57.95L593.91 62.43L594.17 67.34L594.43 72.59L594.69 78.06L594.95 83.65L595.21 89.24L595.47 94.71L595.74 99.96L596.00 105.17L596.26 109.65L596.52 113.61L596.78 116.97L597.04 119.65L597.30 121.61L597.56 122.80L597.83 123.20L598.08 122.72L598.33 121.29L598.59 118.94L598.84 115.73L599.10 111.75L599.35 107.08L599.61 101.85L599.86 95.88L600.12 89.92L600.37 83.80L600.63 77.68L600.88 71.72L601.14 66.05L601.39 60.82L601.65 56.15L601.90 52.17L602.16 48.96L602.41 46.61L602.67 45.18L602.92 44.70L603.18 45.10L603.44 46.29L603.70 48.24L603.96 50.92L604.23 54.27L604.49 58.23L604.75 62.71L605.01 67.62L605.27 72.86L605.53 78.32L605.79 83.90L606.05 89.48L606.31 94.94L606.58 100.18L606.84 105.39L607.10 109.87L607.36 113.83L607.62 117.18L607.88 119.86L608.14 121.81L608.40 123.00L608.67 123.40L608.92 122.91L609.17 121.46L609.43 119.09L609.68 115.85L609.94 111.82L610.19 107.10L610.45 101.81L610.70 95.77L610.96 89.74L611.21 83.55L611.47 77.36L611.72 71.33L611.98 65.59L612.23 60.30L612.49 55.58L612.74 51.55L613.00 48.31L613.25 45.94L613.51 44.49L613.76 44.00L614.02 44.40L614.28 45.60L614.54 47.57L614.80 50.26L615.07 53.64L615.33 57.62L615.59 62.12L615.85 67.06L616.11 72.34L616.37 77.84L616.63 83.45L616.89 89.06L617.15 94.56L617.42 99.84L617.68 105.08L617.94 109.58L618.20 113.56L618.46 116.94L618.72 119.63L618.98 121.60L619.24 122.80L619.51 123.20L619.76 122.72L620.01 121.27L620.27 118.91L620.52 115.68L620.78 111.67L621.03 106.98L621.29 101.71L621.54 95.71L621.80 89.71L622.05 83.55L622.31 77.39L622.56 71.39L622.82 65.69L623.07 60.42L623.33 55.73L623.58 51.72L623.84 48.49L624.09 46.13L624.35 44.68L624.60 44.20L624.86 44.60L625.12 45.79L625.38 47.76L625.64 50.45L625.91 53.81L626.17 57.78L626.43 62.28L626.69 67.20L626.95 72.46L627.21 77.95L627.47 83.55L627.73 89.15L627.99 94.64L628.26 99.90L628.52 105.12L628.78 109.62L629.04 113.59L629.30 116.95L629.56 119.64L629.82 121.61L630.08 122.80L630.35 123.20L630.60 122.71L630.85 121.26L631.11 118.88L631.36 115.63L631.62 111.59L631.87 106.86L632.13 101.55L632.38 95.50L632.64 89.45L632.89 83.25L633.15 77.05L633.40 71.00L633.66 65.25L633.91 59.94L634.17 55.21L634.42 51.17L634.68 47.92L634.93 45.54L635.19 44.09L635.44 43.60L635.70 44.00L635.96 45.21L636.22 47.18L636.48 49.89L636.75 53.28L637.01 57.28L637.27 61.81L637.53 66.78L637.79 72.08L638.05 77.61L638.31 83.25L638.57 88.89L638.83 94.42L639.10 99.72L639.36 104.99L639.62 109.52L639.88 113.52L640.14 116.91L640.40 119.62L640.66 121.59L640.92 122.80L641.19 123.20L641.44 122.71L641.69 121.27L641.95 118.89L642.20 115.66L642.46 111.63L642.71 106.92L642.97 101.63L643.22 95.61L643.48 89.58L643.73 83.40L643.99 77.22L644.24 71.19L644.50 65.47L644.75 60.18L645.01 55.47L645.26 51.44L645.52 48.21L645.77 45.83L646.03 44.39L646.28 43.90L646.54 44.30L646.80 45.50L647.06 47.47L647.32 50.17L647.59 53.55L647.85 57.53L648.11 62.04L648.37 66.99L648.63 72.27L648.89 77.78L649.15 83.40L649.41 89.02L649.67 94.53L649.94 99.81L650.20 105.06L650.46 109.57L650.72 113.55L650.98 116.93L651.24 119.63L651.50 121.60L651.76 122.80L652.03 123.20L652.28 122.71L652.53 121.27L652.79 118.91L653.04 115.68L653.30 111.66L653.55 106.96L653.81 101.69L654.06 95.68L654.32 89.66L654.57 83.50L654.83 77.34L655.08 71.32L655.34 65.61L655.59 60.34L655.85 55.64L656.10 51.62L656.36 48.39L656.61 46.03L656.87 44.59L657.12 44.10L657.38 44.50L657.64 45.70L657.90 47.66L658.16 50.35L658.43 53.72L658.69 57.70L658.95 62.20L659.21 67.13L659.47 72.40L659.73 77.89L659.99 83.50L660.25 89.11L660.51 94.60L660.78 99.87L661.04 105.10L661.30 109.60L661.56 113.58L661.82 116.95L662.08 119.64L662.34 121.60L662.60 122.80L662.87 123.20L663.12 122.71L663.37 121.27L663.63 118.91L663.88 115.68L664.14 111.66L664.39 106.96L664.65 101.69L664.90 95.68L665.16 89.66L665.41 83.50L665.67 77.34L665.92 71.32L666.18 65.61L666.43 60.34L666.69 55.64L666.94 51.62L667.20 48.39L667.45 46.03L667.71 44.59L667.96 44.10L668.22 44.50L668.48 45.70L668.74 47.66L669.00 50.35L669.27 53.72L669.53 57.70L669.79 62.20L670.05 67.13L670.31 72.40L670.57 77.89L670.83 83.50L671.09 89.11L671.35 94.60L671.62 99.87L671.88 105.10L672.14 109.60L672.40 113.58L672.66 116.95L672.92 119.64L673.18 121.60L673.44 122.80L673.71 123.20L673.96 122.71L674.21 121.25L674.47 118.87L674.72 115.61L674.98 111.56L675.23 106.81L675.49 101.50L675.60 98.67" fill="none" stroke="#e00" stroke-width="1.10" stroke-dasharray="1.6 2.2" stroke-linejoin="round"/>
<path d="M425.00 85.90L425.00 85.99L426.50 85.99L428.00 85.81L429.50 85.82L431.00 85.97L432.50 85.95L434.00 85.93L435.50 85.86L437.00 85.92L438.50 85.92L440.00 85.92L441.50 85.83L443.00 85.89L444.50 85.88L446.00 85.94L447.50 86.00L449.00 85.99L450.50 85.91L452.00 85.89L453.50 85.85L455.00 85.81L456.50 85.81L458.00 85.89L459.50 85.86L461.00 85.88L462.50 85.98L464.00 85.91L464.88 85.90L465.14 85.89L465.40 85.88L465.65 85.85L465.91 85.80L466.17 85.75L466.43 85.69L466.69 85.62L466.94 85.55L467.20 85.47L467.46 85.39L467.72 85.31L467.98 85.23L468.24 85.15L468.49 85.08L468.75 85.01L469.01 84.95L469.27 84.90L469.53 84.85L469.78 84.82L470.04 84.81L470.30 84.80L470.56 84.82L470.81 84.88L471.07 84.98L471.33 85.12L471.58 85.29L471.84 85.50L472.10 85.73L472.35 85.99L472.61 86.26L472.87 86.55L473.12 86.85L473.38 87.15L473.63 87.45L473.89 87.74L474.15 88.01L474.40 88.27L474.66 88.50L474.92 88.71L475.17 88.88L475.43 89.02L475.69 89.12L475.94 89.18L476.20 89.20L476.45 89.16L476.71 89.03L476.96 88.81L477.22 88.52L477.47 88.15L477.72 87.70L477.98 87.20L478.23 86.63L478.48 86.02L478.74 85.36L478.99 84.67L479.25 83.97L479.50 83.25L479.75 82.53L480.01 81.83L480.26 81.14L480.52 80.48L480.77 79.87L481.02 79.30L481.28 78.80L481.53 78.35L481.78 77.98L482.04 77.69L482.29 77.47L482.55 77.34L482.80 77.30L483.06 77.41L483.32 77.73L483.57 78.25L483.83 78.97L484.09 79.88L484.35 80.96L484.61 82.19L484.87 83.55L485.12 85.02L485.38 86.56L485.64 88.17L485.90 89.80L486.16 91.43L486.42 93.04L486.68 94.58L486.93 96.05L487.19 97.41L487.45 98.64L487.71 99.72L487.97 100.63L488.23 101.35L488.48 101.87L488.74 102.19L489.00 102.30L489.26 102.06L489.51 101.36L489.77 100.21L490.03 98.63L490.29 96.67L490.54 94.36L490.80 91.75L491.06 88.91L491.31 85.90L491.57 82.78L491.83 79.62L492.09 76.50L492.34 73.49L492.60 70.65L492.86 68.04L493.11 65.73L493.37 63.77L493.63 62.19L493.89 61.04L494.14 60.34L494.40 60.10L494.66 60.37L494.91 61.19L495.17 62.53L495.43 64.37L495.68 66.67L495.94 69.40L496.20 72.50L496.45 75.92L496.71 79.59L496.97 83.44L497.22 87.40L497.48 91.40L497.73 95.36L497.99 99.21L498.25 102.88L498.50 106.30L498.76 109.40L499.02 112.13L499.27 114.43L499.53 116.27L499.79 117.61L500.04 118.43L500.30 118.70L500.55 118.26L500.80 116.94L501.05 114.78L501.30 111.82L501.55 108.16L501.80 103.86L502.05 99.04L502.30 93.82L502.55 88.33L502.80 82.70L503.05 77.07L503.30 71.58L503.55 66.36L503.80 61.54L504.05 57.24L504.30 53.58L504.55 50.62L504.80 48.46L505.05 47.14L505.30 46.70L505.56 47.10L505.82 48.29L506.08 50.24L506.34 52.92L506.60 56.27L506.85 60.23L507.11 64.71L507.37 69.62L507.63 74.86L507.89 80.32L508.15 85.90L508.41 91.48L508.67 96.94L508.93 102.18L509.19 107.09L509.45 111.57L509.70 115.53L509.96 118.88L510.22 121.56L510.48 123.51L510.74 124.70L511.00 125.10L511.26 124.55L511.52 122.91L511.77 120.22L512.03 116.57L512.29 112.05L512.55 106.77L512.81 100.90L513.06 94.58L513.32 87.99L513.58 81.31L513.84 74.72L514.09 68.40L514.35 62.53L514.61 57.25L514.87 52.73L515.13 49.08L515.38 46.39L515.64 44.75L515.90 44.20L516.16 44.61L516.42 45.84L516.68 47.86L516.94 50.62L517.21 54.08L517.47 58.16L517.73 62.78L517.99 67.85L518.25 73.25L518.51 78.89L518.77 84.65L519.03 90.41L519.29 96.05L519.56 101.45L519.82 106.52L520.08 111.14L520.34 115.22L520.60 118.68L520.86 121.44L521.12 123.46L521.38 124.69L521.65 125.10L521.90 124.60L522.15 123.12L522.41 120.69L522.66 117.37L522.92 113.25L523.17 108.43L523.43 103.01L523.68 97.15L523.94 90.98L524.19 84.65L524.45 78.32L524.70 72.15L524.96 66.29L525.21 60.87L525.47 56.05L525.72 51.93L525.98 48.61L526.23 46.18L526.49 44.70L526.74 44.20L527.00 44.60L527.26 45.81L527.52 47.79L527.78 50.51L528.05 53.91L528.31 57.92L528.57 62.46L528.83 67.44L529.09 72.75L529.35 78.29L529.61 83.95L529.87 89.61L530.13 95.15L530.40 100.46L530.66 105.44L530.92 109.98L531.18 113.99L531.44 117.39L531.70 120.11L531.96 122.09L532.22 123.30L532.49 123.70L532.74 123.21L532.99 121.76L533.25 119.39L533.50 116.15L533.76 112.12L534.01 107.40L534.27 102.11L534.52 96.37L534.78 90.34L535.03 84.15L535.29 77.96L535.54 71.93L535.80 66.19L536.05 60.90L536.31 56.18L536.56 52.15L536.82 48.91L537.07 46.54L537.33 45.09L537.58 44.60L537.84 45.00L538.10 46.20L538.36 48.17L538.62 50.86L538.89 54.24L539.15 58.22L539.41 62.72L539.67 67.66L539.93 72.94L540.19 78.44L540.45 84.05L540.71 89.66L540.97 95.16L541.24 100.44L541.50 105.38L541.76 109.88L542.02 113.86L542.28 117.24L542.54 119.93L542.80 121.90L543.06 123.10L543.33 123.50L543.58 123.01L543.83 121.57L544.09 119.20L544.34 115.97L544.60 111.95L544.85 107.24L545.11 101.96L545.36 96.24L545.62 90.22L545.87 84.05L546.13 77.88L546.38 71.86L546.64 66.14L546.89 60.86L547.15 56.15L547.40 52.13L547.66 48.90L547.91 46.53L548.17 45.09L548.42 44.60L548.68 45.00L548.94 46.19L549.20 48.14L549.46 50.82L549.73 54.17L549.99 58.13L550.25 62.61L550.51 67.52L550.77 72.76L551.03 78.22L551.29 83.80L551.55 89.38L551.81 94.84L552.08 100.08L552.34 104.99L552.60 109.47L552.86 113.43L553.12 116.78L553.38 119.46L553.64 121.41L553.90 122.60L554.17 123.00L554.42 122.51L554.67 121.07L554.93 118.71L555.18 115.48L555.44 111.46L555.69 106.76L555.95 101.49L556.20 95.78L556.46 89.76L556.71 83.60L556.97 77.44L557.22 71.42L557.48 65.71L557.73 60.44L557.99 55.74L558.24 51.72L558.50 48.49L558.75 46.13L559.01 44.69L559.26 44.20L559.52 44.60L559.78 45.80L560.04 47.77L560.30 50.47L560.57 53.85L560.83 57.83L561.09 62.34L561.35 67.29L561.61 72.57L561.87 78.08L562.13 83.70L562.39 89.32L562.65 94.83L562.92 100.11L563.18 105.06L563.44 109.57L563.70 113.55L563.96 116.93L564.22 119.63L564.48 121.60L564.74 122.80L565.01 123.20L565.26 122.71L565.51 121.27L565.77 118.89L566.02 115.66L566.28 111.63L566.53 106.92L566.79 101.63L567.04 95.91L567.30 89.88L567.55 83.70L567.81 77.52L568.06 71.49L568.32 65.77L568.57 60.48L568.83 55.77L569.08 51.74L569.34 48.51L569.59 46.13L569.85 44.69L570.10 44.20L570.36 44.60L570.62 45.79L570.88 47.75L571.14 50.44L571.41 53.80L571.67 57.76L571.93 62.25L572.19 67.17L572.45 72.43L572.71 77.91L572.97 83.50L573.23 89.09L573.49 94.57L573.76 99.83L574.02 104.75L574.28 109.24L574.54 113.20L574.80 116.56L575.06 119.25L575.32 121.21L575.58 122.40L575.85 122.80L576.10 122.31L576.35 120.87L576.61 118.50L576.86 115.27L577.12 111.25L577.37 106.54L577.63 101.26L577.88 95.54L578.14 89.52L578.39 83.35L578.65 77.18L578.90 71.16L579.16 65.44L579.41 60.16L579.67 55.45L579.92 51.43L580.18 48.20L580.43 45.83L580.69 44.39L580.94 43.90L581.20 44.30L581.46 45.49L581.72 47.45L581.98 50.14L582.25 53.50L582.51 57.46L582.77 61.95L583.03 66.87L583.29 72.13L583.55 77.61L583.81 83.20L584.07 88.79L584.33 94.27L584.60 99.53L584.86 104.45L585.12 108.94L585.38 112.90L585.64 116.26L585.90 118.95L586.16 120.91L586.42 122.10L586.69 122.50L586.94 122.02L587.19 120.58L587.45 118.22L587.70 115.00L587.96 111.00L588.21 106.32L588.47 101.07L588.72 95.38L588.98 89.39L589.23 83.25L589.49 77.11L589.74 71.12L590.00 65.43L590.25 60.18L590.51 55.50L590.76 51.50L591.02 48.28L591.27 45.92L591.53 44.48L591.78 44.00L592.04 44.40L592.30 45.59L592.56 47.55L592.82 50.23L593.09 53.59L593.35 57.55L593.61 62.03L593.87 66.94L594.13 72.19L594.39 77.66L594.65 83.25L594.91 88.84L595.17 94.31L595.44 99.56L595.70 104.47L595.96 108.95L596.22 112.91L596.48 116.27L596.74 118.95L597.00 120.91L597.26 122.10L597.53 122.50L597.78 122.02L598.03 120.59L598.29 118.24L598.54 115.03L598.80 111.05L599.05 106.38L599.31 101.15L599.56 95.48L599.82 89.52L600.07 83.40L600.33 77.28L600.58 71.32L600.84 65.65L601.09 60.42L601.35 55.75L601.60 51.77L601.86 48.56L602.11 46.21L602.37 44.78L602.62 44.30L602.88 44.70L603.14 45.89L603.40 47.84L603.66 50.52L603.93 53.87L604.19 57.83L604.45 62.31L604.71 67.22L604.97 72.46L605.23 77.92L605.49 83.50L605.75 89.08L606.01 94.54L606.28 99.78L606.54 104.69L606.80 109.17L607.06 113.13L607.32 116.48L607.58 119.16L607.84 121.11L608.10 122.30L608.37 122.70L608.62 122.21L608.87 120.76L609.13 118.39L609.38 115.15L609.64 111.12L609.89 106.40L610.15 101.11L610.40 95.37L610.66 89.34L610.91 83.15L611.17 76.96L611.42 70.93L611.68 65.19L611.93 59.90L612.19 55.18L612.44 51.15L612.70 47.91L612.95 45.54L613.21 44.09L613.46 43.60L613.72 44.00L613.98 45.20L614.24 47.17L614.50 49.86L614.77 53.24L615.03 57.22L615.29 61.72L615.55 66.66L615.81 71.94L616.07 77.44L616.33 83.05L616.59 88.66L616.85 94.16L617.12 99.44L617.38 104.38L617.64 108.88L617.90 112.86L618.16 116.24L618.42 118.93L618.68 120.90L618.94 122.10L619.21 122.50L619.46 122.02L619.71 120.57L619.97 118.21L620.22 114.98L620.48 110.97L620.73 106.28L620.99 101.01L621.24 95.31L621.50 89.31L621.75 83.15L622.01 76.99L622.26 70.99L622.52 65.29L622.77 60.02L623.03 55.33L623.28 51.32L623.54 48.09L623.79 45.73L624.05 44.28L624.30 43.80L624.56 44.20L624.82 45.39L625.08 47.36L625.34 50.05L625.61 53.41L625.87 57.38L626.13 61.88L626.39 66.80L626.65 72.06L626.91 77.55L627.17 83.15L627.43 88.75L627.69 94.24L627.96 99.50L628.22 104.42L628.48 108.92L628.74 112.89L629.00 116.25L629.26 118.94L629.52 120.91L629.78 122.10L630.05 122.50L630.30 122.01L630.55 120.56L630.81 118.18L631.06 114.93L631.32 110.89L631.57 106.16L631.83 100.85L632.08 95.10L632.34 89.05L632.59 82.85L632.85 76.65L633.10 70.60L633.36 64.85L633.61 59.54L633.87 54.81L634.12 50.77L634.38 47.52L634.63 45.14L634.89 43.69L635.14 43.20L635.40 43.60L635.66 44.81L635.92 46.78L636.18 49.49L636.45 52.88L636.71 56.88L636.97 61.41L637.23 66.38L637.49 71.68L637.75 77.21L638.01 82.85L638.27 88.49L638.53 94.02L638.80 99.32L639.06 104.29L639.32 108.82L639.58 112.82L639.84 116.21L640.10 118.92L640.36 120.89L640.62 122.10L640.89 122.50L641.14 122.01L641.39 120.57L641.65 118.19L641.90 114.96L642.16 110.93L642.41 106.22L642.67 100.93L642.92 95.21L643.18 89.18L643.43 83.00L643.69 76.82L643.94 70.79L644.20 65.07L644.45 59.78L644.71 55.07L644.96 51.04L645.22 47.81L645.47 45.43L645.73 43.99L645.98 43.50L646.24 43.90L646.50 45.10L646.76 47.07L647.02 49.77L647.29 53.15L647.55 57.13L647.81 61.64L648.07 66.59L648.33 71.87L648.59 77.38L648.85 83.00L649.11 88.62L649.37 94.13L649.64 99.41L649.90 104.36L650.16 108.87L650.42 112.85L650.68 116.23L650.94 118.93L651.20 120.90L651.46 122.10L651.73 122.50L651.98 122.01L652.23 120.57L652.49 118.21L652.74 114.98L653.00 110.96L653.25 106.26L653.51 100.99L653.76 95.28L654.02 89.26L654.27 83.10L654.53 76.94L654.78 70.92L655.04 65.21L655.29 59.94L655.55 55.24L655.80 51.22L656.06 47.99L656.31 45.63L656.57 44.19L656.82 43.70L657.08 44.10L657.34 45.30L657.60 47.26L657.86 49.95L658.13 53.32L658.39 57.30L658.65 61.80L658.91 66.73L659.17 72.00L659.43 77.49L659.69 83.10L659.95 88.71L660.21 94.20L660.48 99.47L660.74 104.40L661.00 108.90L661.26 112.88L661.52 116.25L661.78 118.94L662.04 120.90L662.30 122.10L662.57 122.50L662.82 122.01L663.07 120.57L663.33 118.21L663.58 114.98L663.84 110.96L664.09 106.26L664.35 100.99L664.60 95.28L664.86 89.26L665.11 83.10L665.37 76.94L665.62 70.92L665.88 65.21L666.13 59.94L666.39 55.24L666.64 51.22L666.90 47.99L667.15 45.63L667.41 44.19L667.66 43.70L667.92 44.10L668.18 45.30L668.44 47.26L668.70 49.95L668.97 53.32L669.23 57.30L669.49 61.80L669.75 66.73L670.01 72.00L670.27 77.49L670.53 83.10L670.79 88.71L671.05 94.20L671.32 99.47L671.58 104.40L671.84 108.90L672.10 112.88L672.36 116.25L672.62 118.94L672.88 120.90L673.14 122.10L673.41 122.50L673.66 122.01L673.91 120.55L674.17 118.17L674.42 114.91L674.68 110.86L674.93 106.11L675.19 100.80L675.30 98.27" fill="none" stroke="#555" stroke-width="1.30" stroke-linejoin="round"/>
<path d="M425.00 85.90L425.00 85.99L426.50 85.99L428.00 85.81L429.50 85.82L431.00 85.97L432.50 85.95L434.00 85.93L435.50 85.86L437.00 85.92L438.50 85.92L440.00 85.92L441.50 85.83L443.00 85.89L444.50 85.88L446.00 85.94L447.50 86.00L449.00 85.99L450.50 85.91L452.00 85.89L453.50 85.85L455.00 85.81L456.50 85.81L458.00 85.89L459.50 85.86L461.00 85.88L462.50 85.98L464.00 85.91L464.88 85.90L465.14 85.89L465.40 85.88L465.65 85.85L465.91 85.80L466.17 85.75L466.43 85.69L466.69 85.62L466.94 85.55L467.20 85.47L467.46 85.39L467.72 85.31L467.98 85.23L468.24 85.15L468.49 85.08L468.75 85.01L469.01 84.95L469.27 84.90L469.53 84.85L469.78 84.82L470.04 84.81L470.30 84.80L470.56 84.82L470.81 84.88L471.07 84.98L471.33 85.12L471.58 85.29L471.84 85.50L472.10 85.73L472.35 85.99L472.61 86.26L472.87 86.55L473.12 86.85L473.38 87.15L473.63 87.45L473.89 87.74L474.15 88.01L474.40 88.27L474.66 88.50L474.92 88.71L475.17 88.88L475.43 89.02L475.69 89.12L475.94 89.18L476.20 89.20L476.45 89.16L476.71 89.03L476.96 88.81L477.22 88.52L477.47 88.15L477.72 87.70L477.98 87.20L478.23 86.63L478.48 86.02L478.74 85.36L478.99 84.67L479.25 83.97L479.50 83.25L479.75 82.53L480.01 81.83L480.26 81.14L480.52 80.48L480.77 79.87L481.02 79.30L481.28 78.80L481.53 78.35L481.78 77.98L482.04 77.69L482.29 77.47L482.55 77.34L482.80 77.30L483.06 77.41L483.32 77.73L483.57 78.25L483.83 78.97L484.09 79.88L484.35 80.96L484.61 82.19L484.87 83.55L485.12 85.02L485.38 86.56L485.64 88.17L485.90 89.80L486.16 91.43L486.42 93.04L486.68 94.58L486.93 96.05L487.19 97.41L487.45 98.64L487.71 99.72L487.97 100.63L488.23 101.35L488.48 101.87L488.74 102.19L489.00 102.30L489.26 102.06L489.51 101.36L489.77 100.21L490.03 98.63L490.29 96.67L490.54 94.36L490.80 91.75L491.06 88.91L491.31 85.90L491.57 82.78L491.83 79.62L492.09 76.50L492.34 73.49L492.60 70.65L492.86 68.04L493.11 65.73L493.37 63.77L493.63 62.19L493.89 61.04L494.14 60.34L494.40 60.10L494.66 60.37L494.91 61.19L495.17 62.53L495.43 64.37L495.68 66.67L495.94 69.40L496.20 72.50L496.45 75.92L496.71 79.59L496.97 83.44L497.22 87.40L497.48 91.40L497.73 95.36L497.99 99.21L498.25 102.88L498.50 106.30L498.76 109.40L499.02 112.13L499.27 114.43L499.53 116.27L499.79 117.61L500.04 118.43L500.30 118.70L500.55 118.26L500.80 116.94L501.05 114.78L501.30 111.82L501.55 108.16L501.80 103.86L502.05 99.04L502.30 93.82L502.55 88.33L502.80 82.70L503.05 77.07L503.30 71.58L503.55 66.36L503.80 61.54L504.05 57.24L504.30 53.58L504.55 50.62L504.80 48.46L505.05 47.14L505.30 46.70L505.56 47.10L505.82 48.29L506.08 50.24L506.34 52.92L506.60 56.27L506.85 60.23L507.11 64.71L507.37 69.62L507.63 74.86L507.89 80.32L508.15 85.90L508.41 91.48L508.67 96.94L508.93 102.18L509.19 107.09L509.45 111.57L509.70 115.53L509.96 118.88L510.22 121.56L510.48 123.51L510.74 124.70L511.00 125.10L511.26 124.55L511.52 122.91L511.77 120.22L512.03 116.57L512.29 112.05L512.55 106.77L512.81 100.90L513.06 94.58L513.32 87.99L513.58 81.31L513.84 74.72L514.09 68.40L514.35 62.53L514.61 57.25L514.87 52.73L515.13 49.08L515.38 46.39L515.64 44.75L515.90 44.20L516.16 44.61L516.42 45.84L516.68 47.86L516.94 50.62L517.21 54.08L517.47 58.16L517.73 62.78L517.99 67.85L518.25 73.25L518.51 78.89L518.77 84.65L519.03 90.41L519.29 96.05L519.56 101.45L519.82 106.52L520.08 111.14L520.34 115.22L520.60 118.68L520.86 121.44L521.12 123.46L521.38 124.69L521.65 125.10L521.90 124.60L522.15 123.12L522.41 120.69L522.66 117.37L522.92 113.25L523.17 108.43L523.43 103.01L523.68 97.15L523.94 90.98L524.19 84.65L524.45 78.32L524.70 72.15L524.96 66.29L525.21 60.87L525.47 56.05L525.72 51.93L525.98 48.61L526.23 46.18L526.49 44.70L526.74 44.20L527.00 44.60L527.26 45.81L527.52 47.79L527.78 50.51L528.05 53.91L528.31 57.92L528.57 62.46L528.83 67.44L529.09 72.75L529.35 78.29L529.61 83.95L529.87 89.61L530.13 95.15L530.40 100.46L530.66 105.44L530.92 109.98L531.18 113.99L531.44 117.39L531.70 120.11L531.96 122.09L532.22 123.30L532.49 123.70L532.74 123.21L532.99 121.76L533.25 119.39L533.50 116.15L533.76 112.12L534.01 107.40L534.27 102.11L534.52 96.37L534.78 90.34L535.03 84.15L535.29 77.96L535.54 71.93L535.80 66.19L536.05 60.90L536.31 56.18L536.56 52.15L536.82 48.91L537.07 46.54L537.33 45.09L537.58 44.60L537.84 45.00L538.10 46.20L538.36 48.17L538.62 50.86L538.89 54.24L539.15 58.22L539.41 62.72L539.67 67.66L539.93 72.94L540.19 78.44L540.45 84.05L540.71 89.66L540.97 95.16L541.24 100.44L541.50 105.38L541.76 109.88L542.02 113.86L542.28 117.24L542.54 119.93L542.80 121.90L543.06 123.10L543.33 123.50L543.58 123.01L543.83 121.57L544.09 119.20L544.34 115.97L544.60 111.95L544.85 107.24L545.11 101.96L545.36 96.24L545.62 90.22L545.87 84.05L546.13 77.88L546.38 71.86L546.64 66.14L546.89 60.86L547.15 56.15L547.40 52.13L547.66 48.90L547.91 46.53L548.17 45.09L548.42 44.60L548.68 45.00L548.94 46.19L549.20 48.14L549.46 50.82L549.73 54.17L549.99 58.13L550.25 62.61L550.51 67.52L550.77 72.76L551.03 78.22L551.29 83.80L551.55 89.38L551.81 94.84L552.08 100.08L552.34 104.99L552.60 109.47L552.86 113.43L553.12 116.78L553.38 119.46L553.64 121.41L553.90 122.60L554.17 123.00L554.42 122.51L554.67 121.07L554.93 118.71L555.18 115.48L555.44 111.46L555.69 106.76L555.95 101.49L556.20 95.78L556.46 89.76L556.71 83.60L556.97 77.44L557.22 71.42L557.48 65.71L557.73 60.44L557.99 55.74L558.24 51.72L558.50 48.49L558.75 46.13L559.01 44.69L559.26 44.20L559.52 44.60L559.78 45.80L560.04 47.77L560.30 50.47L560.57 53.85L560.83 57.83L561.09 62.34L561.35 67.29L561.61 72.57L561.87 78.08L562.13 83.70L562.39 89.32L562.65 94.83L562.92 100.11L563.18 105.06L563.44 109.57L563.70 113.55L563.96 116.93L564.22 119.63L564.48 121.60L564.74 122.80L565.01 123.20L565.26 122.71L565.51 121.27L565.77 118.89L566.02 115.66L566.28 111.63L566.53 106.92L566.79 101.63L567.04 95.91L567.30 89.88L567.55 83.70L567.81 77.52L568.06 71.49L568.32 65.77L568.57 60.48L568.83 55.77L569.08 51.74L569.34 48.51L569.59 46.13L569.85 44.69L570.10 44.20L570.36 44.60L570.62 45.79L570.88 47.75L571.14 50.44L571.41 53.80L571.67 57.76L571.93 62.25L572.19 67.17L572.45 72.43L572.71 77.91L572.97 83.50L573.23 89.09L573.49 94.57L573.76 99.83L574.02 104.75L574.28 109.24L574.54 113.20L574.80 116.56L575.06 119.25L575.32 121.21L575.58 122.40L575.85 122.80L576.10 122.31L576.35 120.87L576.61 118.50L576.86 115.27L577.12 111.25L577.37 106.54L577.63 101.26L577.88 95.54L578.14 89.52L578.39 83.35L578.65 77.18L578.90 71.16L579.16 65.44L579.41 60.16L579.67 55.45L579.92 51.43L580.18 48.20L580.43 45.83L580.69 44.39L580.94 43.90L581.20 44.30L581.46 45.49L581.72 47.45L581.98 50.14L582.25 53.50L582.51 57.46L582.77 61.95L583.03 66.87L583.29 72.13L583.55 77.61L583.81 83.20L584.07 88.79L584.33 94.27L584.60 99.53L584.86 104.45L585.12 108.94L585.38 112.90L585.64 116.26L585.90 118.95L586.16 120.91L586.42 122.10L586.69 122.50L586.94 122.02L587.19 120.58L587.45 118.22L587.70 115.00L587.96 111.00L588.21 106.32L588.47 101.07L588.72 95.38L588.98 89.39L589.23 83.25L589.49 77.11L589.74 71.12L590.00 65.43L590.25 60.18L590.51 55.50L590.76 51.50L591.02 48.28L591.27 45.92L591.53 44.48L591.78 44.00L592.04 44.40L592.30 45.59L592.56 47.55L592.82 50.23L593.09 53.59L593.35 57.55L593.61 62.03L593.87 66.94L594.13 72.19L594.39 77.66L594.65 83.25L594.91 88.84L595.17 94.31L595.44 99.56L595.70 104.47L595.96 108.95L596.22 112.91L596.48 116.27L596.74 118.95L597.00 120.91L597.26 122.10L597.53 122.50L597.78 122.02L598.03 120.59L598.29 118.24L598.54 115.03L598.80 111.05L599.05 106.38L599.31 101.15L599.56 95.48L599.82 89.52L600.07 83.40L600.33 77.28L600.58 71.32L600.84 65.65L601.09 60.42L601.35 55.75L601.60 51.77L601.86 48.56L602.11 46.21L602.37 44.78L602.62 44.30L602.88 44.70L603.14 45.89L603.40 47.84L603.66 50.52L603.93 53.87L604.19 57.83L604.45 62.31L604.71 67.22L604.97 72.46L605.23 77.92L605.49 83.50L605.75 89.08L606.01 94.54L606.28 99.78L606.54 104.69L606.80 109.17L607.06 113.13L607.32 116.48L607.58 119.16L607.84 121.11L608.10 122.30L608.37 122.70L608.62 122.21L608.87 120.76L609.13 118.39L609.38 115.15L609.64 111.12L609.89 106.40L610.15 101.11L610.40 95.37L610.66 89.34L610.91 83.15L611.17 76.96L611.42 70.93L611.68 65.19L611.93 59.90L612.19 55.18L612.44 51.15L612.70 47.91L612.95 45.54L613.21 44.09L613.46 43.60L613.72 44.00L613.98 45.20L614.24 47.17L614.50 49.86L614.77 53.24L615.03 57.22L615.29 61.72L615.55 66.66L615.81 71.94L616.07 77.44L616.33 83.05L616.59 88.66L616.85 94.16L617.12 99.44L617.38 104.38L617.64 108.88L617.90 112.86L618.16 116.24L618.42 118.93L618.68 120.90L618.94 122.10L619.21 122.50L619.46 122.02L619.71 120.57L619.97 118.21L620.22 114.98L620.48 110.97L620.73 106.28L620.99 101.01L621.24 95.31L621.50 89.31L621.75 83.15L622.01 76.99L622.26 70.99L622.52 65.29L622.77 60.02L623.03 55.33L623.28 51.32L623.54 48.09L623.79 45.73L624.05 44.28L624.30 43.80L624.56 44.20L624.82 45.39L625.08 47.36L625.34 50.05L625.61 53.41L625.87 57.38L626.13 61.88L626.39 66.80L626.65 72.06L626.91 77.55L627.17 83.15L627.43 88.75L627.69 94.24L627.96 99.50L628.22 104.42L628.48 108.92L628.74 112.89L629.00 116.25L629.26 118.94L629.52 120.91L629.78 122.10L630.05 122.50L630.30 122.01L630.55 120.56L630.81 118.18L631.06 114.93L631.32 110.89L631.57 106.16L631.83 100.85L632.08 95.10L632.34 89.05L632.59 82.85L632.85 76.65L633.10 70.60L633.36 64.85L633.61 59.54L633.87 54.81L634.12 50.77L634.38 47.52L634.63 45.14L634.89 43.69L635.14 43.20L635.40 43.60L635.66 44.81L635.92 46.78L636.18 49.49L636.45 52.88L636.71 56.88L636.97 61.41L637.23 66.38L637.49 71.68L637.75 77.21L638.01 82.85L638.27 88.49L638.53 94.02L638.80 99.32L639.06 104.29L639.32 108.82L639.58 112.82L639.84 116.21L640.10 118.92L640.36 120.89L640.62 122.10L640.89 122.50L641.14 122.01L641.39 120.57L641.65 118.19L641.90 114.96L642.16 110.93L642.41 106.22L642.67 100.93L642.92 95.21L643.18 89.18L643.43 83.00L643.69 76.82L643.94 70.79L644.20 65.07L644.45 59.78L644.71 55.07L644.96 51.04L645.22 47.81L645.47 45.43L645.73 43.99L645.98 43.50L646.24 43.90L646.50 45.10L646.76 47.07L647.02 49.77L647.29 53.15L647.55 57.13L647.81 61.64L648.07 66.59L648.33 71.87L648.59 77.38L648.85 83.00L649.11 88.62L649.37 94.13L649.64 99.41L649.90 104.36L650.16 108.87L650.42 112.85L650.68 116.23L650.94 118.93L651.20 120.90L651.46 122.10L651.73 122.50L651.98 122.01L652.23 120.57L652.49 118.21L652.74 114.98L653.00 110.96L653.25 106.26L653.51 100.99L653.76 95.28L654.02 89.26L654.27 83.10L654.53 76.94L654.78 70.92L655.04 65.21L655.29 59.94L655.55 55.24L655.80 51.22L656.06 47.99L656.31 45.63L656.57 44.19L656.82 43.70L657.08 44.10L657.34 45.30L657.60 47.26L657.86 49.95L658.13 53.32L658.39 57.30L658.65 61.80L658.91 66.73L659.17 72.00L659.43 77.49L659.69 83.10L659.95 88.71L660.21 94.20L660.48 99.47L660.74 104.40L661.00 108.90L661.26 112.88L661.52 116.25L661.78 118.94L662.04 120.90L662.30 122.10L662.57 122.50L662.82 122.01L663.07 120.57L663.33 118.21L663.58 114.98L663.84 110.96L664.09 106.26L664.35 100.99L664.60 95.28L664.86 89.26L665.11 83.10L665.37 76.94L665.62 70.92L665.88 65.21L666.13 59.94L666.39 55.24L666.64 51.22L666.90 47.99L667.15 45.63L667.41 44.19L667.66 43.70L667.92 44.10L668.18 45.30L668.44 47.26L668.70 49.95L668.97 53.32L669.23 57.30L669.49 61.80L669.75 66.73L670.01 72.00L670.27 77.49L670.53 83.10L670.79 88.71L671.05 94.20L671.32 99.47L671.58 104.40L671.84 108.90L672.10 112.88L672.36 116.25L672.62 118.94L672.88 120.90L673.14 122.10L673.41 122.50L673.66 122.01L673.91 120.55L674.17 118.17L674.42 114.91L674.68 110.86L674.93 106.11L675.19 100.80L675.30 98.27" fill="none" stroke="#222" stroke-width="1.30" stroke-dasharray="5.6 4.8" stroke-linejoin="round"/>
<path d="M70.20 314.30L70.20 314.25L71.70 314.31L73.20 314.27L74.70 314.32L76.20 314.33L77.70 314.21L79.20 314.20L80.70 314.37L82.20 314.25L83.70 314.25L85.20 314.40L86.70 314.29L88.20 314.37L89.70 314.30L91.20 314.33L92.70 314.23L94.20 314.33L95.70 314.37L97.20 314.30L98.70 314.35L100.20 314.33L101.70 314.21L103.20 314.35L104.70 314.32L106.20 314.26L107.70 314.21L109.20 314.37L110.70 314.29L112.20 314.34L112.88 314.30L113.14 314.30L113.40 314.29L113.65 314.28L113.91 314.27L114.17 314.24L114.43 314.21L114.69 314.17L114.94 314.12L115.20 314.07L115.46 314.01L115.72 313.94L115.98 313.88L116.24 313.81L116.49 313.75L116.75 313.69L117.01 313.64L117.27 313.59L117.53 313.55L117.78 313.52L118.04 313.51L118.30 313.50L118.55 313.52L118.80 313.56L119.06 313.64L119.31 313.74L119.56 313.87L119.81 314.02L120.06 314.20L120.31 314.39L120.57 314.59L120.82 314.81L121.07 315.03L121.32 315.25L121.57 315.47L121.83 315.69L122.08 315.89L122.33 316.08L122.58 316.26L122.83 316.42L123.09 316.56L123.34 316.69L123.59 316.78L123.84 316.86L124.09 316.92L124.34 316.96L124.60 316.99L124.85 317.00L125.10 317.00L125.35 316.99L125.60 316.96L125.85 316.88L126.10 316.74L126.35 316.54L126.60 316.28L126.85 315.94L127.10 315.54L127.35 315.07L127.60 314.54L127.85 313.95L128.10 313.32L128.35 312.65L128.60 311.96L128.85 311.26L129.10 310.55L129.35 309.86L129.60 309.20L129.85 308.58L130.10 308.02L130.35 307.51L130.60 307.09L130.85 306.75L131.10 306.50L131.35 306.35L131.60 306.30L131.85 306.42L132.11 306.78L132.36 307.37L132.62 308.17L132.87 309.17L133.12 310.34L133.38 311.65L133.63 313.07L133.89 314.57L134.14 316.11L134.40 317.66L134.65 319.19L134.90 320.65L135.16 322.03L135.41 323.29L135.67 324.42L135.92 325.40L136.17 326.21L136.43 326.87L136.68 327.35L136.94 327.69L137.19 327.89L137.45 327.98L137.70 328.00L137.95 327.96L138.20 327.76L138.45 327.31L138.70 326.56L138.95 325.48L139.20 324.05L139.45 322.27L139.70 320.16L139.95 317.75L140.20 315.09L140.45 312.24L140.70 309.27L140.95 306.24L141.20 303.25L141.45 300.36L141.70 297.67L141.95 295.24L142.20 293.16L142.45 291.46L142.70 290.22L142.95 289.46L143.20 289.20L143.46 289.57L143.72 290.66L143.98 292.46L144.24 294.89L144.50 297.89L144.75 301.38L145.01 305.25L145.27 309.40L145.53 313.71L145.79 318.06L146.05 322.34L146.31 326.44L146.57 330.26L146.83 333.72L147.09 336.76L147.35 339.32L147.60 341.37L147.86 342.93L148.12 344.00L148.38 344.65L148.64 344.94L148.90 345.00L149.16 344.86L149.42 344.19L149.68 342.70L149.94 340.26L150.21 336.78L150.47 332.27L150.73 326.80L150.99 320.53L151.25 313.65L151.51 306.39L151.77 299.04L152.03 291.89L152.29 285.22L152.56 279.33L152.82 274.45L153.08 270.81L153.34 268.56L153.60 267.80L153.86 268.23L154.11 269.52L154.37 271.62L154.62 274.51L154.88 278.10L155.13 282.32L155.39 287.08L155.65 292.27L155.90 297.77L156.16 303.47L156.41 309.25L156.67 314.99L156.93 320.57L157.18 325.89L157.44 330.85L157.69 335.37L157.95 339.39L158.20 342.85L158.46 345.74L158.72 348.03L158.97 349.74L159.23 350.92L159.48 351.62L159.74 351.94L160.00 352.00L160.26 351.83L160.52 350.99L160.78 349.15L161.04 346.13L161.30 341.87L161.56 336.39L161.83 329.81L162.09 322.35L162.35 314.28L162.61 305.95L162.87 297.70L163.13 289.92L163.39 282.96L163.66 277.17L163.92 272.82L164.18 270.12L164.44 269.20L164.70 269.64L164.95 270.95L165.21 273.10L165.46 276.03L165.72 279.70L165.97 284.00L166.23 288.85L166.49 294.13L166.74 299.74L167.00 305.55L167.25 311.44L167.51 317.28L167.77 322.97L168.02 328.39L168.28 333.45L168.53 338.06L168.79 342.15L169.04 345.68L169.30 348.62L169.56 350.95L169.81 352.70L170.07 353.90L170.32 354.61L170.58 354.94L170.84 355.00L171.10 354.81L171.36 353.83L171.62 351.72L171.88 348.24L172.14 343.33L172.40 337.01L172.67 329.43L172.93 320.84L173.19 311.55L173.45 301.94L173.71 292.44L173.97 283.47L174.23 275.46L174.50 268.78L174.76 263.77L175.02 260.65L175.28 259.60L175.54 260.09L175.79 261.55L176.05 263.95L176.30 267.24L176.56 271.33L176.81 276.14L177.07 281.56L177.33 287.47L177.58 293.73L177.84 300.23L178.09 306.81L178.35 313.34L178.61 319.70L178.86 325.76L179.12 331.41L179.37 336.56L179.63 341.14L179.88 345.08L180.14 348.36L180.40 350.97L180.65 352.93L180.91 354.27L181.16 355.07L181.42 355.43L181.68 355.50L181.94 355.31L182.20 354.38L182.46 352.35L182.72 349.03L182.98 344.32L183.24 338.26L183.51 331.00L183.77 322.77L184.03 313.87L184.29 304.66L184.55 295.56L184.81 286.97L185.07 279.29L185.34 272.90L185.60 268.09L185.86 265.11L186.12 264.10L186.38 264.57L186.63 265.97L186.89 268.27L187.14 271.42L187.40 275.34L187.65 279.95L187.91 285.14L188.17 290.80L188.42 296.81L188.68 303.03L188.93 309.34L189.19 315.60L189.45 321.69L189.70 327.50L189.96 332.92L190.21 337.85L190.47 342.24L190.72 346.02L190.98 349.16L191.24 351.66L191.49 353.53L191.75 354.82L192.00 355.58L192.26 355.93L192.52 356.00L192.78 355.81L193.04 354.88L193.30 352.84L193.56 349.49L193.82 344.76L194.08 338.67L194.35 331.37L194.61 323.09L194.87 314.14L195.13 304.89L195.39 295.73L195.65 287.09L195.91 279.38L196.18 272.94L196.44 268.11L196.70 265.12L196.96 264.10L197.22 264.57L197.47 265.95L197.73 268.23L197.98 271.34L198.24 275.22L198.49 279.78L198.75 284.91L199.01 290.51L199.26 296.45L199.52 302.61L199.77 308.85L200.03 315.04L200.29 321.07L200.54 326.81L200.80 332.17L201.05 337.05L201.31 341.39L201.56 345.13L201.82 348.24L202.08 350.71L202.33 352.56L202.59 353.83L202.84 354.59L203.10 354.93L203.36 355.00L203.62 354.82L203.88 353.90L204.14 351.91L204.40 348.64L204.66 344.01L204.92 338.07L205.19 330.93L205.45 322.84L205.71 314.10L205.97 305.05L206.23 296.11L206.49 287.67L206.75 280.13L207.02 273.84L207.28 269.12L207.54 266.19L207.80 265.20L208.06 265.67L208.31 267.05L208.57 269.32L208.82 272.43L209.08 276.31L209.33 280.86L209.59 285.99L209.85 291.58L210.10 297.52L210.36 303.67L210.61 309.90L210.87 316.09L211.13 322.11L211.38 327.84L211.64 333.19L211.89 338.07L212.15 342.40L212.40 346.14L212.66 349.24L212.92 351.71L213.17 353.56L213.43 354.83L213.68 355.59L213.94 355.93L214.20 356.00L214.46 355.82L214.72 354.91L214.98 352.94L215.24 349.70L215.50 345.12L215.76 339.24L216.03 332.17L216.29 324.16L216.55 315.51L216.81 306.55L217.07 297.70L217.33 289.34L217.59 281.88L217.86 275.66L218.12 270.98L218.38 268.08L218.64 267.10L218.90 267.55L219.15 268.89L219.41 271.09L219.66 274.10L219.92 277.85L220.17 282.26L220.43 287.23L220.69 292.64L220.94 298.39L221.20 304.34L221.45 310.37L221.71 316.36L221.97 322.19L222.22 327.74L222.48 332.92L222.73 337.64L222.99 341.84L223.24 345.45L223.50 348.46L223.76 350.85L224.01 352.64L224.27 353.87L224.52 354.60L224.78 354.93L225.04 355.00L225.30 354.82L225.56 353.91L225.82 351.94L226.08 348.70L226.34 344.12L226.60 338.24L226.87 331.17L227.13 323.16L227.39 314.51L227.65 305.55L227.91 296.70L228.17 288.34L228.43 280.88L228.70 274.66L228.96 269.98L229.22 267.08L229.48 266.10L229.74 266.55L229.99 267.90L230.25 270.11L230.50 273.14L230.76 276.91L231.01 281.35L231.27 286.34L231.53 291.79L231.78 297.56L232.04 303.55L232.29 309.62L232.55 315.64L232.81 321.50L233.06 327.09L233.32 332.30L233.57 337.05L233.83 341.26L234.08 344.90L234.34 347.92L234.60 350.33L234.85 352.13L235.11 353.36L235.36 354.10L235.62 354.43L235.88 354.50L236.14 354.32L236.40 353.44L236.66 351.51L236.92 348.34L237.18 343.87L237.44 338.11L237.71 331.21L237.97 323.38L238.23 314.92L238.49 306.17L238.75 297.51L239.01 289.34L239.27 282.04L239.54 275.96L239.80 271.39L240.06 268.56L240.32 267.60L240.58 268.05L240.83 269.38L241.09 271.57L241.34 274.56L241.60 278.29L241.85 282.67L242.11 287.61L242.37 293.00L242.62 298.71L242.88 304.63L243.13 310.62L243.39 316.58L243.65 322.37L243.90 327.90L244.16 333.05L244.41 337.74L244.67 341.91L244.92 345.51L245.18 348.50L245.44 350.87L245.69 352.65L245.95 353.88L246.20 354.61L246.46 354.93L246.72 355.00L246.98 354.82L247.24 353.90L247.50 351.89L247.76 348.60L248.02 343.95L248.28 337.97L248.55 330.80L248.81 322.66L249.07 313.87L249.33 304.78L249.59 295.78L249.85 287.29L250.11 279.71L250.38 273.39L250.64 268.64L250.90 265.70L251.16 264.70L251.42 265.17L251.67 266.55L251.93 268.82L252.18 271.93L252.44 275.81L252.69 280.36L252.95 285.49L253.21 291.08L253.46 297.02L253.72 303.17L253.97 309.40L254.23 315.59L254.49 321.61L254.74 327.34L255.00 332.69L255.25 337.57L255.51 341.90L255.76 345.64L256.02 348.74L256.28 351.21L256.53 353.06L256.79 354.33L257.04 355.09L257.30 355.43L257.56 355.50L257.82 355.32L258.08 354.40L258.34 352.40L258.60 349.11L258.86 344.46L259.12 338.49L259.39 331.33L259.65 323.20L259.91 314.41L260.17 305.33L260.43 296.35L260.69 287.87L260.95 280.29L261.22 273.98L261.48 269.24L261.74 266.30L262.00 265.30L262.26 265.76L262.51 267.13L262.77 269.37L263.02 272.44L263.28 276.27L263.53 280.77L263.79 285.84L264.05 291.36L264.30 297.23L264.56 303.30L264.81 309.46L265.07 315.57L265.33 321.52L265.58 327.18L265.84 332.47L266.09 337.29L266.35 341.57L266.60 345.26L266.86 348.33L267.12 350.77L267.37 352.59L267.63 353.85L267.88 354.59L268.14 354.93L268.40 355.00L268.66 354.82L268.92 353.89L269.18 351.88L269.44 348.57L269.70 343.90L269.96 337.90L270.23 330.69L270.49 322.52L270.75 313.69L271.01 304.55L271.27 295.52L271.53 286.99L271.79 279.38L272.06 273.03L272.32 268.26L272.58 265.30L272.84 264.30L273.10 264.76L273.35 266.14L273.61 268.40L273.86 271.48L274.12 275.33L274.37 279.86L274.63 284.95L274.89 290.51L275.14 296.41L275.40 302.51L275.65 308.70L275.91 314.85L276.17 320.83L276.42 326.53L276.68 331.84L276.93 336.69L277.19 340.99L277.44 344.70L277.70 347.79L277.96 350.24L278.21 352.08L278.47 353.34L278.72 354.09L278.98 354.43L279.24 354.50L279.50 354.32L279.76 353.40L280.02 351.40L280.28 348.11L280.54 343.46L280.80 337.49L281.07 330.33L281.33 322.20L281.59 313.41L281.85 304.33L282.11 295.35L282.37 286.87L282.63 279.29L282.90 272.98L283.16 268.24L283.42 265.30L283.68 264.30L283.94 264.76L284.19 266.15L284.45 268.42L284.70 271.52L284.96 275.39L285.21 279.94L285.47 285.07L285.73 290.66L285.98 296.58L286.24 302.72L286.49 308.95L286.75 315.13L287.01 321.14L287.26 326.87L287.52 332.22L287.77 337.09L288.03 341.42L288.28 345.15L288.54 348.25L288.80 350.72L289.05 352.57L289.31 353.83L289.56 354.59L289.82 354.93L290.08 355.00L290.34 354.82L290.60 353.91L290.86 351.93L291.12 348.68L291.38 344.09L291.64 338.18L291.91 331.09L292.17 323.06L292.43 314.37L292.69 305.39L292.95 296.50L293.21 288.12L293.47 280.63L293.74 274.39L294.00 269.70L294.26 266.79L294.52 265.80L294.78 266.26L295.03 267.62L295.29 269.85L295.54 272.90L295.80 276.71L296.05 281.18L296.31 286.22L296.57 291.72L296.82 297.55L297.08 303.59L297.33 309.71L297.59 315.79L297.85 321.70L298.10 327.34L298.36 332.60L298.61 337.39L298.87 341.64L299.12 345.31L299.38 348.36L299.64 350.79L299.89 352.61L300.15 353.85L300.40 354.60L300.66 354.93L300.92 355.00L301.18 354.82L301.44 353.89L301.70 351.88L301.96 348.57L302.22 343.90L302.48 337.90L302.75 330.69L303.01 322.52L303.27 313.69L303.53 304.55L303.79 295.52L304.05 286.99L304.31 279.38L304.58 273.03L304.84 268.26L305.10 265.30L305.36 264.30L305.62 264.76L305.87 266.15L306.13 268.42L306.38 271.52L306.64 275.39L306.89 279.94L307.15 285.07L307.41 290.66L307.66 296.58L307.92 302.72L308.17 308.95L308.43 315.13L308.69 321.14L308.94 326.87L309.20 332.22L309.45 337.09L309.71 341.42L309.96 345.15L310.22 348.25L310.48 350.72L310.73 352.57L310.99 353.83L311.24 354.59L311.50 354.93L311.76 355.00L312.02 354.82L312.28 353.94L312.54 352.02L312.80 348.87L313.06 344.40L313.32 338.67L313.59 331.79L313.85 323.99L314.11 315.55L314.37 306.83L314.63 298.21L314.89 290.07L315.15 282.79L315.42 276.73L315.68 272.18L315.94 269.36L316.20 268.40L316.46 268.84L316.71 270.16L316.97 272.33L317.22 275.30L317.48 278.99L317.73 283.34L317.99 288.23L318.25 293.56L318.50 299.22L318.76 305.09L319.01 311.03L319.27 316.93L319.53 322.67L319.78 328.14L320.04 333.25L320.29 337.90L320.55 342.03L320.80 345.53" fill="none" stroke="#999" stroke-width="1.40" stroke-dasharray="5.6 4.8" stroke-linejoin="round"/>
<path d="M70.20 314.30L70.20 314.32L71.70 314.35L73.20 314.36L74.70 314.39L76.20 314.35L77.70 314.38L79.20 314.21L80.70 314.29L82.20 314.39L83.70 314.33L85.20 314.38L86.70 314.22L88.20 314.29L89.70 314.25L91.20 314.31L92.70 314.31L94.20 314.20L95.70 314.24L97.20 314.26L98.70 314.38L100.20 314.35L101.70 314.23L103.20 314.36L104.70 314.23L106.20 314.32L107.70 314.23L109.20 314.20L110.70 314.37L112.20 314.24L112.88 314.30L113.14 314.30L113.40 314.30L113.65 314.29L113.91 314.28L114.17 314.26L114.43 314.23L114.69 314.20L114.94 314.16L115.20 314.11L115.46 314.05L115.72 313.98L115.98 313.92L116.24 313.85L116.49 313.78L116.75 313.71L117.01 313.65L117.27 313.60L117.53 313.56L117.78 313.53L118.04 313.51L118.30 313.50L118.55 313.52L118.80 313.57L119.06 313.66L119.31 313.78L119.56 313.92L119.81 314.10L120.06 314.29L120.31 314.50L120.57 314.73L120.82 314.96L121.07 315.19L121.32 315.43L121.57 315.65L121.83 315.87L122.08 316.07L122.33 316.25L122.58 316.42L122.83 316.56L123.09 316.68L123.34 316.78L123.59 316.86L123.84 316.92L124.09 316.96L124.34 316.98L124.60 316.99L124.85 317.00L125.10 317.00L125.35 317.00L125.60 316.98L125.85 316.94L126.10 316.85L126.35 316.72L126.60 316.52L126.85 316.26L127.10 315.93L127.35 315.52L127.60 315.04L127.85 314.49L128.10 313.88L128.35 313.22L128.60 312.51L128.85 311.78L129.10 311.04L129.35 310.29L129.60 309.57L129.85 308.89L130.10 308.25L130.35 307.69L130.60 307.21L130.85 306.82L131.10 306.53L131.35 306.36L131.60 306.30L131.85 306.44L132.11 306.85L132.36 307.53L132.62 308.44L132.87 309.57L133.12 310.89L133.38 312.35L133.63 313.91L133.89 315.53L134.14 317.16L134.40 318.78L134.65 320.33L134.90 321.78L135.16 323.10L135.41 324.28L135.67 325.29L135.92 326.12L136.17 326.78L136.43 327.28L136.68 327.62L136.94 327.84L137.19 327.95L137.45 327.99L137.70 328.00L137.95 327.99L138.20 327.89L138.45 327.63L138.70 327.13L138.95 326.34L139.20 325.22L139.45 323.73L139.70 321.87L139.95 319.65L140.20 317.10L140.45 314.28L140.70 311.25L140.95 308.09L141.20 304.90L141.45 301.77L141.70 298.80L141.95 296.09L142.20 293.73L142.45 291.80L142.70 290.37L142.95 289.50L143.20 289.20L143.46 289.55L143.72 290.61L143.98 292.32L144.24 294.62L144.50 297.45L144.75 300.70L145.01 304.26L145.27 308.02L145.53 311.84L145.79 315.63L146.05 319.26L146.31 322.64L146.57 325.69L146.83 328.35L147.09 330.58L147.35 332.37L147.60 333.72L147.86 334.66L148.12 335.25L148.38 335.57L148.64 335.68L148.90 335.70L149.15 335.67L149.40 335.47L149.65 334.93L149.90 333.91L150.15 332.30L150.40 330.02L150.65 327.04L150.90 323.37L151.15 319.07L151.40 314.24L151.65 309.01L151.90 303.56L152.15 298.07L152.40 292.76L152.65 287.83L152.90 283.48L153.15 279.89L153.40 277.21L153.65 275.56L153.90 275.00L154.16 275.37L154.41 276.45L154.67 278.23L154.92 280.64L155.18 283.64L155.43 287.13L155.69 291.02L155.95 295.21L156.20 299.60L156.46 304.08L156.71 308.53L156.97 312.86L157.23 316.98L157.48 320.79L157.74 324.25L157.99 327.29L158.25 329.89L158.50 332.03L158.76 333.72L159.02 334.98L159.27 335.85L159.53 336.39L159.78 336.68L160.04 336.78L160.30 336.80L160.56 336.75L160.82 336.41L161.08 335.50L161.34 333.82L161.60 331.19L161.86 327.57L162.13 322.95L162.39 317.44L162.65 311.25L162.91 304.63L163.17 297.90L163.43 291.39L163.69 285.48L163.96 280.48L164.22 276.68L164.48 274.31L164.74 273.50L165.00 273.87L165.25 274.99L165.51 276.80L165.76 279.28L166.02 282.35L166.27 285.92L166.53 289.91L166.79 294.20L167.04 298.70L167.30 303.28L167.55 307.84L167.81 312.28L168.07 316.49L168.32 320.41L168.58 323.95L168.83 327.06L169.09 329.72L169.34 331.91L169.60 333.64L169.86 334.93L170.11 335.83L170.37 336.38L170.62 336.68L170.88 336.78L171.14 336.80L171.40 336.75L171.66 336.38L171.92 335.42L172.18 333.63L172.44 330.85L172.70 327.00L172.97 322.09L173.23 316.25L173.49 309.68L173.75 302.65L174.01 295.50L174.27 288.60L174.53 282.31L174.80 277.01L175.06 272.97L175.32 270.46L175.58 269.60L175.84 270.00L176.09 271.18L176.35 273.11L176.60 275.74L176.86 278.99L177.11 282.79L177.37 287.02L177.63 291.58L177.88 296.35L178.14 301.22L178.39 306.06L178.65 310.77L178.91 315.24L179.16 319.40L179.42 323.15L179.67 326.46L179.93 329.29L180.18 331.61L180.44 333.45L180.70 334.82L180.95 335.77L181.21 336.36L181.46 336.67L181.72 336.78L181.98 336.80L182.24 336.75L182.50 336.39L182.76 335.45L183.02 333.70L183.28 330.97L183.54 327.20L183.81 322.40L184.07 316.68L184.33 310.24L184.59 303.36L184.85 296.36L185.11 289.60L185.37 283.45L185.64 278.25L185.90 274.30L186.16 271.84L186.42 271.00L186.68 271.39L186.93 272.54L187.19 274.43L187.44 277.01L187.70 280.20L187.95 283.91L188.21 288.06L188.47 292.52L188.72 297.19L188.98 301.96L189.23 306.70L189.49 311.31L189.75 315.69L190.00 319.76L190.26 323.44L190.51 326.68L190.77 329.44L191.02 331.72L191.28 333.52L191.54 334.86L191.79 335.79L192.05 336.37L192.30 336.67L192.56 336.78L192.82 336.80L193.08 336.75L193.34 336.39L193.60 335.45L193.86 333.68L194.12 330.95L194.38 327.16L194.65 322.33L194.91 316.59L195.17 310.12L195.43 303.21L195.69 296.18L195.95 289.39L196.21 283.21L196.48 277.98L196.74 274.02L197.00 271.54L197.26 270.70L197.52 271.09L197.77 272.25L198.03 274.15L198.28 276.74L198.54 279.94L198.79 283.67L199.05 287.83L199.31 292.32L199.56 297.01L199.82 301.80L200.07 306.56L200.33 311.19L200.59 315.60L200.84 319.68L201.10 323.38L201.35 326.63L201.61 329.41L201.86 331.70L202.12 333.50L202.38 334.85L202.63 335.78L202.89 336.37L203.14 336.67L203.40 336.78L203.66 336.80L203.92 336.75L204.18 336.40L204.44 335.49L204.70 333.78L204.96 331.13L205.22 327.46L205.49 322.79L205.75 317.23L206.01 310.97L206.27 304.28L206.53 297.47L206.79 290.89L207.05 284.91L207.32 279.85L207.58 276.01L207.84 273.62L208.10 272.80L208.36 273.18L208.61 274.30L208.87 276.14L209.12 278.64L209.38 281.74L209.63 285.36L209.89 289.39L210.15 293.73L210.40 298.28L210.66 302.91L210.91 307.52L211.17 312.01L211.43 316.27L211.68 320.22L211.94 323.80L212.19 326.95L212.45 329.64L212.70 331.86L212.96 333.61L213.22 334.91L213.47 335.82L213.73 336.38L213.98 336.67L214.24 336.78L214.50 336.80L214.76 336.75L215.02 336.40L215.28 335.49L215.54 333.78L215.80 331.13L216.06 327.46L216.33 322.79L216.59 317.23L216.85 310.97L217.11 304.28L217.37 297.47L217.63 290.89L217.89 284.91L218.16 279.85L218.42 276.01L218.68 273.62L218.94 272.80L219.20 273.18L219.45 274.30L219.71 276.14L219.96 278.64L220.22 281.74L220.47 285.36L220.73 289.39L220.99 293.73L221.24 298.28L221.50 302.91L221.75 307.52L222.01 312.01L222.27 316.27L222.52 320.22L222.78 323.80L223.03 326.95L223.29 329.64L223.54 331.86L223.80 333.61L224.06 334.91L224.31 335.82L224.57 336.38L224.82 336.67L225.08 336.78L225.34 336.80L225.60 336.75L225.86 336.39L226.12 335.44L226.38 333.67L226.64 330.92L226.90 327.11L227.17 322.27L227.43 316.50L227.69 310.00L227.95 303.06L228.21 295.99L228.47 289.17L228.73 282.96L229.00 277.72L229.26 273.73L229.52 271.25L229.78 270.40L230.04 270.79L230.29 271.96L230.55 273.87L230.80 276.46L231.06 279.68L231.31 283.43L231.57 287.61L231.83 292.12L232.08 296.83L232.34 301.64L232.59 306.43L232.85 311.08L233.11 315.50L233.36 319.60L233.62 323.32L233.87 326.58L234.13 329.38L234.38 331.67L234.64 333.49L234.90 334.84L235.15 335.78L235.41 336.36L235.66 336.67L235.92 336.78L236.18 336.80L236.44 336.75L236.70 336.39L236.96 335.44L237.22 333.67L237.48 330.92L237.74 327.11L238.01 322.27L238.27 316.50L238.53 310.00L238.79 303.06L239.05 295.99L239.31 289.17L239.57 282.96L239.84 277.72L240.10 273.73L240.36 271.25L240.62 270.40L240.88 270.79L241.13 271.96L241.39 273.87L241.64 276.46L241.90 279.68L242.15 283.43L242.41 287.61L242.67 292.12L242.92 296.83L243.18 301.64L243.43 306.43L243.69 311.08L243.95 315.50L244.20 319.60L244.46 323.32L244.71 326.58L244.97 329.38L245.22 331.67L245.48 333.49L245.74 334.84L245.99 335.78L246.25 336.36L246.50 336.67L246.76 336.78L247.02 336.80L247.28 336.75L247.54 336.39L247.80 335.44L248.06 333.67L248.32 330.92L248.58 327.11L248.85 322.27L249.11 316.50L249.37 310.00L249.63 303.06L249.89 295.99L250.15 289.17L250.41 282.96L250.68 277.72L250.94 273.73L251.20 271.25L251.46 270.40L251.72 270.79L251.97 271.96L252.23 273.87L252.48 276.46L252.74 279.68L252.99 283.43L253.25 287.61L253.51 292.12L253.76 296.83L254.02 301.64L254.27 306.43L254.53 311.08L254.79 315.50L255.04 319.60L255.30 323.32L255.55 326.58L255.81 329.38L256.06 331.67L256.32 333.49L256.58 334.84L256.83 335.78L257.09 336.36L257.34 336.67L257.60 336.78L257.86 336.80L258.12 336.75L258.38 336.39L258.64 335.45L258.90 333.69L259.16 330.96L259.42 327.19L259.69 322.38L259.95 316.65L260.21 310.20L260.47 303.31L260.73 296.30L260.99 289.53L261.25 283.37L261.52 278.16L261.78 274.21L262.04 271.74L262.30 270.90L262.56 271.29L262.81 272.45L263.07 274.34L263.32 276.92L263.58 280.11L263.83 283.83L264.09 287.98L264.35 292.45L264.60 297.13L264.86 301.91L265.11 306.65L265.37 311.27L265.63 315.66L265.88 319.73L266.14 323.42L266.39 326.66L266.65 329.43L266.90 331.71L267.16 333.51L267.42 334.86L267.67 335.79L267.93 336.37L268.18 336.67L268.44 336.78L268.70 336.80L268.96 336.75L269.22 336.39L269.48 335.46L269.74 333.72L270.00 331.02L270.26 327.27L270.53 322.51L270.79 316.83L271.05 310.45L271.31 303.61L271.57 296.67L271.83 289.96L272.09 283.86L272.36 278.70L272.62 274.78L272.88 272.33L273.14 271.50L273.40 271.89L273.65 273.03L273.91 274.91L274.16 277.46L274.42 280.63L274.67 284.31L274.93 288.43L275.19 292.86L275.44 297.50L275.70 302.22L275.95 306.93L276.21 311.50L276.47 315.85L276.72 319.89L276.98 323.54L277.23 326.75L277.49 329.50L277.74 331.76L278.00 333.54L278.26 334.87L278.51 335.80L278.77 336.37L279.02 336.67L279.28 336.78L279.54 336.80L279.80 336.75L280.06 336.39L280.32 335.46L280.58 333.72L280.84 331.02L281.10 327.27L281.37 322.51L281.63 316.83L281.89 310.45L282.15 303.61L282.41 296.67L282.67 289.96L282.93 283.86L283.20 278.70L283.46 274.78L283.72 272.33L283.98 271.50L284.24 271.89L284.49 273.03L284.75 274.91L285.00 277.46L285.26 280.63L285.51 284.31L285.77 288.43L286.03 292.86L286.28 297.50L286.54 302.22L286.79 306.93L287.05 311.50L287.31 315.85L287.56 319.89L287.82 323.54L288.07 326.75L288.33 329.50L288.58 331.76L288.84 333.54L289.10 334.87L289.35 335.80L289.61 336.37L289.86 336.67L290.12 336.78L290.38 336.80L290.64 336.75L290.90 336.39L291.16 335.46L291.42 333.72L291.68 331.02L291.94 327.27L292.21 322.51L292.47 316.83L292.73 310.45L292.99 303.61L293.25 296.67L293.51 289.96L293.77 283.86L294.04 278.70L294.30 274.78L294.56 272.33L294.82 271.50L295.08 271.89L295.33 273.03L295.59 274.91L295.84 277.46L296.10 280.63L296.35 284.31L296.61 288.43L296.87 292.86L297.12 297.50L297.38 302.22L297.63 306.93L297.89 311.50L298.15 315.85L298.40 319.89L298.66 323.54L298.91 326.75L299.17 329.50L299.42 331.76L299.68 333.54L299.94 334.87L300.19 335.80L300.45 336.37L300.70 336.67L300.96 336.78L301.22 336.80L301.48 336.75L301.74 336.40L302.00 335.49L302.26 333.79L302.52 331.15L302.78 327.49L303.05 322.84L303.31 317.29L303.57 311.05L303.83 304.38L304.09 297.59L304.35 291.04L304.61 285.07L304.88 280.03L305.14 276.20L305.40 273.81L305.66 273.00L305.92 273.38L306.17 274.50L306.43 276.33L306.68 278.83L306.94 281.92L307.19 285.52L307.45 289.54L307.71 293.87L307.96 298.40L308.22 303.02L308.47 307.61L308.73 312.09L308.99 316.33L309.24 320.28L309.50 323.84L309.75 326.98L310.01 329.67L310.26 331.88L310.52 333.62L310.78 334.92L311.03 335.82L311.29 336.38L311.54 336.67L311.80 336.78L312.06 336.80L312.32 336.75L312.58 336.40L312.84 335.49L313.10 333.79L313.36 331.15L313.62 327.49L313.89 322.84L314.15 317.29L314.41 311.05L314.67 304.38L314.93 297.59L315.19 291.04L315.45 285.07L315.72 280.03L315.98 276.20L316.24 273.81L316.50 273.00L316.76 273.38L317.01 274.50L317.27 276.33L317.52 278.83L317.78 281.92L318.03 285.52L318.29 289.54L318.55 293.87L318.80 298.40L319.06 303.02L319.31 307.61L319.57 312.09L319.83 316.33L320.08 320.28L320.34 323.84L320.59 326.98L320.80 329.15" fill="none" stroke="#f00" stroke-width="1.10" stroke-dasharray="1.6 2.2" stroke-linejoin="round"/>
<path d="M70.20 314.30L70.20 314.25L71.70 314.22L73.20 314.28L74.70 314.23L76.20 314.21L77.70 314.28L79.20 314.38L80.70 314.36L82.20 314.35L83.70 314.24L85.20 314.31L86.70 314.26L88.20 314.23L89.70 314.22L91.20 314.24L92.70 314.39L94.20 314.37L95.70 314.36L97.20 314.36L98.70 314.24L100.20 314.26L101.70 314.33L103.20 314.35L104.70 314.37L106.20 314.38L107.70 314.22L109.20 314.32L110.70 314.33L112.20 314.30L112.88 314.30L113.14 314.30L113.40 314.30L113.65 314.29L113.91 314.28L114.17 314.26L114.43 314.23L114.69 314.20L114.94 314.16L115.20 314.11L115.46 314.05L115.72 313.98L115.98 313.92L116.24 313.85L116.49 313.78L116.75 313.71L117.01 313.65L117.27 313.60L117.53 313.56L117.78 313.53L118.04 313.51L118.30 313.50L118.55 313.52L118.80 313.57L119.06 313.66L119.31 313.78L119.56 313.92L119.81 314.10L120.06 314.29L120.31 314.50L120.57 314.73L120.82 314.96L121.07 315.19L121.32 315.43L121.57 315.65L121.83 315.87L122.08 316.07L122.33 316.25L122.58 316.42L122.83 316.56L123.09 316.68L123.34 316.78L123.59 316.86L123.84 316.92L124.09 316.96L124.34 316.98L124.60 316.99L124.85 317.00L125.10 317.00L125.35 317.00L125.60 316.98L125.85 316.94L126.10 316.85L126.35 316.72L126.60 316.52L126.85 316.26L127.10 315.93L127.35 315.52L127.60 315.04L127.85 314.49L128.10 313.88L128.35 313.22L128.60 312.51L128.85 311.78L129.10 311.04L129.35 310.29L129.60 309.57L129.85 308.89L130.10 308.25L130.35 307.69L130.60 307.21L130.85 306.82L131.10 306.53L131.35 306.36L131.60 306.30L131.85 306.44L132.11 306.85L132.36 307.53L132.62 308.44L132.87 309.57L133.12 310.89L133.38 312.35L133.63 313.91L133.89 315.53L134.14 317.16L134.40 318.78L134.65 320.33L134.90 321.78L135.16 323.10L135.41 324.28L135.67 325.29L135.92 326.12L136.17 326.78L136.43 327.28L136.68 327.62L136.94 327.84L137.19 327.95L137.45 327.99L137.70 328.00L137.95 327.99L138.20 327.89L138.45 327.63L138.70 327.13L138.95 326.34L139.20 325.22L139.45 323.73L139.70 321.87L139.95 319.65L140.20 317.10L140.45 314.28L140.70 311.25L140.95 308.09L141.20 304.90L141.45 301.77L141.70 298.80L141.95 296.09L142.20 293.73L142.45 291.80L142.70 290.37L142.95 289.50L143.20 289.20L143.46 289.55L143.72 290.61L143.98 292.32L144.24 294.62L144.50 297.45L144.75 300.70L145.01 304.26L145.27 308.02L145.53 311.84L145.79 315.63L146.05 319.26L146.31 322.64L146.57 325.69L146.83 328.35L147.09 330.58L147.35 332.37L147.60 333.72L147.86 334.66L148.12 335.25L148.38 335.57L148.64 335.68L148.90 335.70L149.15 335.67L149.40 335.47L149.65 334.93L149.90 333.92L150.15 332.33L150.40 330.07L150.65 327.11L150.90 323.47L151.15 319.21L151.40 314.42L151.65 309.23L151.90 303.82L152.15 298.38L152.40 293.12L152.65 288.23L152.90 283.91L153.15 280.35L153.40 277.70L153.65 276.06L153.90 275.50L154.16 275.86L154.41 276.92L154.67 278.67L154.92 281.04L155.18 283.98L155.43 287.41L155.69 291.23L155.95 295.35L156.20 299.66L156.46 304.06L156.71 308.43L156.97 312.69L157.23 316.73L157.48 320.48L157.74 323.87L157.99 326.86L158.25 329.41L158.50 331.51L158.76 333.17L159.02 334.41L159.27 335.27L159.53 335.80L159.78 336.08L160.04 336.18L160.30 336.20L160.56 336.15L160.82 335.82L161.08 334.93L161.34 333.28L161.60 330.71L161.86 327.15L162.13 322.63L162.39 317.24L162.65 311.18L162.91 304.69L163.17 298.10L163.43 291.73L163.69 285.93L163.96 281.03L164.22 277.31L164.48 274.99L164.74 274.20L165.00 274.57L165.25 275.66L165.51 277.44L165.76 279.86L166.02 282.87L166.27 286.37L166.53 290.27L166.79 294.48L167.04 298.88L167.30 303.37L167.55 307.84L167.81 312.18L168.07 316.31L168.32 320.14L168.58 323.61L168.83 326.66L169.09 329.27L169.34 331.41L169.60 333.11L169.86 334.37L170.11 335.25L170.37 335.79L170.62 336.08L170.88 336.18L171.14 336.20L171.40 336.15L171.66 335.80L171.92 334.89L172.18 333.19L172.44 330.55L172.70 326.89L172.97 322.24L173.23 316.69L173.49 310.45L173.75 303.78L174.01 296.99L174.27 290.44L174.53 284.47L174.80 279.43L175.06 275.60L175.32 273.21L175.58 272.40L175.84 272.78L176.09 273.90L176.35 275.73L176.60 278.23L176.86 281.32L177.11 284.92L177.37 288.94L177.63 293.27L177.88 297.80L178.14 302.42L178.39 307.01L178.65 311.49L178.91 315.73L179.16 319.68L179.42 323.24L179.67 326.38L179.93 329.07L180.18 331.28L180.44 333.02L180.70 334.32L180.95 335.22L181.21 335.78L181.46 336.07L181.72 336.18L181.98 336.20L182.24 336.15L182.50 335.81L182.76 334.92L183.02 333.25L183.28 330.66L183.54 327.08L183.81 322.52L184.07 317.09L184.33 310.98L184.59 304.44L184.85 297.79L185.11 291.37L185.37 285.53L185.64 280.59L185.90 276.84L186.16 274.50L186.42 273.70L186.68 274.07L186.93 275.17L187.19 276.96L187.44 279.41L187.70 282.44L187.95 285.96L188.21 289.90L188.47 294.14L188.72 298.58L188.98 303.11L189.23 307.61L189.49 311.99L189.75 316.15L190.00 320.01L190.26 323.51L190.51 326.58L190.77 329.21L191.02 331.38L191.28 333.08L191.54 334.36L191.79 335.24L192.05 335.79L192.30 336.08L192.56 336.18L192.82 336.20L193.08 336.15L193.34 335.81L193.60 334.91L193.86 333.23L194.12 330.63L194.38 327.02L194.65 322.43L194.91 316.97L195.17 310.81L195.43 304.23L195.69 297.54L195.95 291.08L196.21 285.20L196.48 280.23L196.74 276.46L197.00 274.10L197.26 273.30L197.52 273.67L197.77 274.78L198.03 276.58L198.28 279.04L198.54 282.09L198.79 285.64L199.05 289.60L199.31 293.87L199.56 298.34L199.82 302.89L200.07 307.43L200.33 311.83L200.59 316.02L200.84 319.91L201.10 323.43L201.35 326.52L201.61 329.17L201.86 331.34L202.12 333.06L202.38 334.34L202.63 335.23L202.89 335.79L203.14 336.08L203.40 336.18L203.66 336.20L203.92 336.15L204.18 335.82L204.44 334.95L204.70 333.32L204.96 330.79L205.22 327.29L205.49 322.83L205.75 317.52L206.01 311.54L206.27 305.15L206.53 298.65L206.79 292.37L207.05 286.66L207.32 281.83L207.58 278.17L207.84 275.88L208.10 275.10L208.36 275.46L208.61 276.53L208.87 278.29L209.12 280.68L209.38 283.64L209.63 287.09L209.89 290.94L210.15 295.08L210.40 299.42L210.66 303.85L210.91 308.25L211.17 312.53L211.43 316.60L211.68 320.38L211.94 323.79L212.19 326.80L212.45 329.37L212.70 331.48L212.96 333.15L213.22 334.40L213.47 335.26L213.73 335.80L213.98 336.08L214.24 336.18L214.50 336.20L214.76 336.15L215.02 335.82L215.28 334.94L215.54 333.30L215.80 330.75L216.06 327.23L216.33 322.74L216.59 317.40L216.85 311.38L217.11 304.95L217.37 298.40L217.63 292.09L217.89 286.34L218.16 281.48L218.42 277.79L218.68 275.48L218.94 274.70L219.20 275.06L219.45 276.14L219.71 277.91L219.96 280.32L220.22 283.30L220.47 286.77L220.73 290.64L220.99 294.81L221.24 299.18L221.50 303.64L221.75 308.07L222.01 312.38L222.27 316.47L222.52 320.27L222.78 323.71L223.03 326.74L223.29 329.32L223.54 331.45L223.80 333.13L224.06 334.39L224.31 335.25L224.57 335.80L224.82 336.08L225.08 336.18L225.34 336.20L225.60 336.15L225.86 335.82L226.12 334.94L226.38 333.30L226.64 330.75L226.90 327.23L227.17 322.74L227.43 317.40L227.69 311.38L227.95 304.95L228.21 298.40L228.47 292.09L228.73 286.34L229.00 281.48L229.26 277.79L229.52 275.48L229.78 274.70L230.04 275.06L230.29 276.14L230.55 277.91L230.80 280.32L231.06 283.30L231.31 286.77L231.57 290.64L231.83 294.81L232.08 299.18L232.34 303.64L232.59 308.07L232.85 312.38L233.11 316.47L233.36 320.27L233.62 323.71L233.87 326.74L234.13 329.32L234.38 331.45L234.64 333.13L234.90 334.39L235.15 335.25L235.41 335.80L235.66 336.08L235.92 336.18L236.18 336.20L236.44 336.15L236.70 335.81L236.96 334.92L237.22 333.25L237.48 330.66L237.74 327.08L238.01 322.52L238.27 317.09L238.53 310.98L238.79 304.44L239.05 297.79L239.31 291.37L239.57 285.53L239.84 280.59L240.10 276.84L240.36 274.50L240.62 273.70L240.88 274.07L241.13 275.17L241.39 276.96L241.64 279.41L241.90 282.44L242.15 285.96L242.41 289.90L242.67 294.14L242.92 298.58L243.18 303.11L243.43 307.61L243.69 311.99L243.95 316.15L244.20 320.01L244.46 323.51L244.71 326.58L244.97 329.21L245.22 331.38L245.48 333.08L245.74 334.36L245.99 335.24L246.25 335.79L246.50 336.08L246.76 336.18L247.02 336.20L247.28 336.15L247.54 335.81L247.80 334.92L248.06 333.25L248.32 330.66L248.58 327.08L248.85 322.52L249.11 317.09L249.37 310.98L249.63 304.44L249.89 297.79L250.15 291.37L250.41 285.53L250.68 280.59L250.94 276.84L251.20 274.50L251.46 273.70L251.72 274.07L251.97 275.17L252.23 276.96L252.48 279.41L252.74 282.44L252.99 285.96L253.25 289.90L253.51 294.14L253.76 298.58L254.02 303.11L254.27 307.61L254.53 311.99L254.79 316.15L255.04 320.01L255.30 323.51L255.55 326.58L255.81 329.21L256.06 331.38L256.32 333.08L256.58 334.36L256.83 335.24L257.09 335.79L257.34 336.08L257.60 336.18L257.86 336.20L258.12 336.15L258.38 335.82L258.64 334.94L258.90 333.29L259.16 330.74L259.42 327.20L259.69 322.70L259.95 317.33L260.21 311.30L260.47 304.84L260.73 298.28L260.99 291.94L261.25 286.17L261.52 281.30L261.78 277.60L262.04 275.29L262.30 274.50L262.56 274.86L262.81 275.95L263.07 277.72L263.32 280.13L263.58 283.12L263.83 286.61L264.09 290.49L264.35 294.68L264.60 299.06L264.86 303.53L265.11 307.98L265.37 312.30L265.63 316.41L265.88 320.22L266.14 323.67L266.39 326.71L266.65 329.30L266.90 331.44L267.16 333.12L267.42 334.38L267.67 335.25L267.93 335.79L268.18 336.08L268.44 336.18L268.70 336.20L268.96 336.15L269.22 335.82L269.48 334.94L269.74 333.29L270.00 330.74L270.26 327.20L270.53 322.70L270.79 317.33L271.05 311.30L271.31 304.84L271.57 298.28L271.83 291.94L272.09 286.17L272.36 281.30L272.62 277.60L272.88 275.29L273.14 274.50L273.40 274.86L273.65 275.95L273.91 277.72L274.16 280.13L274.42 283.12L274.67 286.61L274.93 290.49L275.19 294.68L275.44 299.06L275.70 303.53L275.95 307.98L276.21 312.30L276.47 316.41L276.72 320.22L276.98 323.67L277.23 326.71L277.49 329.30L277.74 331.44L278.00 333.12L278.26 334.38L278.51 335.25L278.77 335.79L279.02 336.08L279.28 336.18L279.54 336.20L279.80 336.15L280.06 335.82L280.32 334.94L280.58 333.29L280.84 330.74L281.10 327.20L281.37 322.70L281.63 317.33L281.89 311.30L282.15 304.84L282.41 298.28L282.67 291.94L282.93 286.17L283.20 281.30L283.46 277.60L283.72 275.29L283.98 274.50L284.24 274.86L284.49 275.95L284.75 277.72L285.00 280.13L285.26 283.12L285.51 286.61L285.77 290.49L286.03 294.68L286.28 299.06L286.54 303.53L286.79 307.98L287.05 312.30L287.31 316.41L287.56 320.22L287.82 323.67L288.07 326.71L288.33 329.30L288.58 331.44L288.84 333.12L289.10 334.38L289.35 335.25L289.61 335.79L289.86 336.08L290.12 336.18L290.38 336.20L290.64 336.15L290.90 335.82L291.16 334.94L291.42 333.29L291.68 330.74L291.94 327.20L292.21 322.70L292.47 317.33L292.73 311.30L292.99 304.84L293.25 298.28L293.51 291.94L293.77 286.17L294.04 281.30L294.30 277.60L294.56 275.29L294.82 274.50L295.08 274.86L295.33 275.95L295.59 277.72L295.84 280.13L296.10 283.12L296.35 286.61L296.61 290.49L296.87 294.68L297.12 299.06L297.38 303.53L297.63 307.98L297.89 312.30L298.15 316.41L298.40 320.22L298.66 323.67L298.91 326.71L299.17 329.30L299.42 331.44L299.68 333.12L299.94 334.38L300.19 335.25L300.45 335.79L300.70 336.08L300.96 336.18L301.22 336.20L301.48 336.15L301.74 335.82L302.00 334.95L302.26 333.32L302.52 330.78L302.78 327.27L303.05 322.81L303.31 317.49L303.57 311.50L303.83 305.10L304.09 298.59L304.35 292.30L304.61 286.58L304.88 281.74L305.14 278.07L305.40 275.78L305.66 275.00L305.92 275.36L306.17 276.44L306.43 278.19L306.68 280.59L306.94 283.55L307.19 287.01L307.45 290.86L307.71 295.02L307.96 299.36L308.22 303.79L308.47 308.20L308.73 312.49L308.99 316.57L309.24 320.35L309.50 323.77L309.75 326.78L310.01 329.36L310.26 331.48L310.52 333.15L310.78 334.39L311.03 335.26L311.29 335.80L311.54 336.08L311.80 336.18L312.06 336.20L312.32 336.15L312.58 335.82L312.84 334.95L313.10 333.32L313.36 330.78L313.62 327.27L313.89 322.81L314.15 317.49L314.41 311.50L314.67 305.10L314.93 298.59L315.19 292.30L315.45 286.58L315.72 281.74L315.98 278.07L316.24 275.78L316.50 275.00L316.76 275.36L317.01 276.44L317.27 278.19L317.52 280.59L317.78 283.55L318.03 287.01L318.29 290.86L318.55 295.02L318.80 299.36L319.06 303.79L319.31 308.20L319.57 312.49L319.83 316.57L320.08 320.35L320.34 323.77L320.59 326.78L320.80 328.86" fill="none" stroke="#111" stroke-width="1.15" stroke-linejoin="round"/>
<path d="M426.40 314.30L426.40 314.36L427.90 314.36L429.40 314.30L430.90 314.25L432.40 314.20L433.90 314.33L435.40 314.29L436.90 314.35L438.40 314.27L439.90 314.35L441.40 314.25L442.90 314.36L444.40 314.35L445.90 314.28L447.40 314.31L448.90 314.34L450.40 314.24L451.90 314.31L453.40 314.36L454.90 314.25L456.40 314.36L457.90 314.34L459.40 314.37L460.90 314.27L462.40 314.22L463.90 314.36L465.40 314.36L466.90 314.29L468.40 314.22L469.90 314.24L471.40 314.33L472.88 314.30L473.14 314.30L473.40 314.29L473.65 314.27L473.91 314.24L474.17 314.20L474.43 314.15L474.69 314.09L474.94 314.02L475.20 313.95L475.46 313.86L475.72 313.78L475.98 313.69L476.24 313.60L476.49 313.52L476.75 313.44L477.01 313.37L477.27 313.31L477.53 313.27L477.78 313.23L478.04 313.21L478.30 313.20L478.55 313.21L478.80 313.24L479.06 313.30L479.31 313.38L479.56 313.47L479.81 313.59L480.06 313.72L480.31 313.86L480.57 314.02L480.82 314.19L481.07 314.37L481.32 314.55L481.57 314.73L481.82 314.92L482.08 315.10L482.33 315.27L482.58 315.44L482.83 315.60L483.08 315.75L483.33 315.88L483.59 316.00L483.84 316.11L484.09 316.19L484.34 316.26L484.59 316.32L484.84 316.36L485.10 316.38L485.35 316.40L485.60 316.40L485.86 316.38L486.11 316.32L486.37 316.19L486.62 315.98L486.88 315.69L487.14 315.32L487.39 314.87L487.65 314.34L487.90 313.74L488.16 313.08L488.42 312.36L488.67 311.61L488.93 310.83L489.18 310.03L489.44 309.24L489.70 308.47L489.95 307.73L490.21 307.04L490.46 306.41L490.72 305.85L490.98 305.38L491.23 305.00L491.49 304.72L491.74 304.56L492.00 304.50L492.25 304.58L492.50 304.83L492.76 305.23L493.01 305.79L493.26 306.49L493.51 307.32L493.76 308.28L494.01 309.34L494.27 310.49L494.52 311.72L494.77 313.00L495.02 314.32L495.27 315.66L495.52 317.00L495.78 318.31L496.03 319.59L496.28 320.82L496.53 321.98L496.78 323.05L497.03 324.03L497.29 324.90L497.54 325.65L497.79 326.30L498.04 326.82L498.29 327.22L498.54 327.51L498.80 327.69L499.05 327.78L499.30 327.80L499.56 327.67L499.82 327.12L500.08 326.02L500.34 324.34L500.59 322.08L500.85 319.27L501.11 316.00L501.37 312.38L501.63 308.54L501.89 304.64L502.15 300.84L502.41 297.29L502.66 294.15L502.92 291.55L503.18 289.61L503.44 288.41L503.70 288.00L503.96 289.18L504.21 290.45L504.47 291.83L504.73 293.29L504.98 294.85L505.24 296.50L505.50 298.22L505.75 300.02L506.01 301.89L506.27 303.82L506.52 305.79L506.78 307.81L507.04 309.85L507.29 311.92L507.55 314.00L507.81 316.08L508.06 318.15L508.32 320.19L508.58 322.21L508.83 324.18L509.09 326.11L509.35 327.98L509.60 329.78L509.86 331.50L510.12 333.15L510.37 334.71L510.63 336.17L510.89 337.55L511.14 338.82L511.40 340.00L511.65 339.30L511.91 336.39L512.16 330.84L512.42 322.77L512.67 312.70L512.93 301.50L513.18 290.20L513.44 279.93L513.69 271.72L513.95 266.43L514.20 264.60L514.46 266.38L514.71 268.30L514.97 270.36L515.22 272.56L515.48 274.90L515.73 277.36L515.99 279.95L516.24 282.64L516.50 285.44L516.75 288.32L517.01 291.28L517.26 294.31L517.52 297.38L517.77 300.49L518.03 303.63L518.28 306.77L518.54 309.91L518.79 313.02L519.05 316.09L519.31 319.12L519.56 322.08L519.82 324.96L520.07 327.76L520.33 330.45L520.58 333.04L520.84 335.50L521.09 337.84L521.35 340.04L521.60 342.10L521.86 344.02L522.11 345.80L522.38 344.92L522.65 341.24L522.91 334.23L523.18 324.02L523.44 311.30L523.71 297.14L523.98 282.86L524.24 269.88L524.51 259.50L524.77 252.81L525.04 250.50L525.30 252.58L525.55 254.84L525.81 257.26L526.06 259.84L526.32 262.59L526.57 265.48L526.83 268.51L527.08 271.67L527.34 274.95L527.59 278.34L527.85 281.81L528.10 285.36L528.36 288.97L528.61 292.63L528.87 296.31L529.12 299.99L529.38 303.67L529.63 307.33L529.89 310.94L530.15 314.49L530.40 317.96L530.66 321.35L530.91 324.63L531.17 327.79L531.42 330.82L531.68 333.71L531.93 336.46L532.19 339.04L532.44 341.46L532.70 343.72L532.95 345.80L533.22 344.92L533.49 341.28L533.75 334.31L534.02 324.18L534.28 311.55L534.55 297.49L534.82 283.32L535.08 270.44L535.35 260.14L535.61 253.49L535.88 251.20L536.14 253.27L536.39 255.51L536.65 257.91L536.90 260.48L537.16 263.20L537.41 266.07L537.67 269.08L537.92 272.22L538.18 275.47L538.43 278.83L538.69 282.28L538.94 285.81L539.20 289.39L539.45 293.02L539.71 296.67L539.96 300.33L540.22 303.98L540.47 307.61L540.73 311.19L540.99 314.72L541.24 318.17L541.50 321.53L541.75 324.78L542.01 327.92L542.26 330.93L542.52 333.80L542.77 336.52L543.03 339.09L543.28 341.49L543.54 343.73L543.79 345.80L544.06 344.91L544.33 341.21L544.59 334.15L544.86 323.88L545.12 311.08L545.39 296.83L545.66 282.47L545.92 269.40L546.19 258.96L546.45 252.23L546.72 249.90L546.98 252.00L547.23 254.27L547.49 256.70L547.74 259.30L548.00 262.06L548.25 264.97L548.51 268.02L548.76 271.21L549.02 274.51L549.27 277.91L549.53 281.41L549.78 284.98L550.04 288.62L550.29 292.29L550.55 295.99L550.80 299.71L551.06 303.41L551.31 307.08L551.57 310.72L551.83 314.29L552.08 317.79L552.34 321.19L552.59 324.49L552.85 327.68L553.10 330.73L553.36 333.64L553.61 336.40L553.87 339.00L554.12 341.43L554.38 343.70L554.63 345.80L554.90 344.93L555.17 341.30L555.43 334.38L555.70 324.32L555.96 311.77L556.23 297.80L556.50 283.72L556.76 270.91L557.03 260.68L557.29 254.08L557.56 251.80L557.82 253.86L558.07 256.08L558.33 258.47L558.58 261.02L558.84 263.72L559.09 266.57L559.35 269.57L559.60 272.68L559.86 275.92L560.11 279.26L560.37 282.69L560.62 286.19L560.88 289.75L561.13 293.35L561.39 296.98L561.64 300.62L561.90 304.25L562.15 307.85L562.41 311.41L562.67 314.91L562.92 318.34L563.18 321.68L563.43 324.92L563.69 328.03L563.94 331.03L564.20 333.88L564.45 336.58L564.71 339.13L564.96 341.52L565.22 343.74L565.47 345.80L565.74 344.95L566.01 341.41L566.27 334.65L566.54 324.82L566.80 312.56L567.07 298.92L567.34 285.17L567.60 272.67L567.87 262.67L568.13 256.23L568.40 254.00L568.66 256.01L568.91 258.18L569.17 260.51L569.42 263.00L569.68 265.64L569.93 268.43L570.19 271.35L570.44 274.40L570.70 277.56L570.95 280.82L571.21 284.16L571.46 287.58L571.72 291.06L571.97 294.58L572.23 298.12L572.48 301.68L572.74 305.22L572.99 308.74L573.25 312.22L573.51 315.64L573.76 318.98L574.02 322.24L574.27 325.40L574.53 328.45L574.78 331.37L575.04 334.16L575.29 336.80L575.55 339.29L575.80 341.62L576.06 343.79L576.31 345.80L576.58 344.97L576.85 341.52L577.11 334.94L577.38 325.37L577.64 313.43L577.91 300.15L578.18 286.76L578.44 274.58L578.71 264.85L578.97 258.57L579.24 256.40L579.50 258.35L579.75 260.47L580.01 262.74L580.26 265.17L580.52 267.74L580.77 270.45L581.03 273.30L581.28 276.26L581.54 279.34L581.79 282.51L582.05 285.77L582.30 289.11L582.56 292.49L582.81 295.92L583.07 299.37L583.32 302.83L583.58 306.28L583.83 309.71L584.09 313.09L584.35 316.43L584.60 319.69L584.86 322.86L585.11 325.94L585.37 328.90L585.62 331.75L585.88 334.46L586.13 337.03L586.39 339.46L586.64 341.73L586.90 343.85L587.15 345.80L587.42 344.94L587.69 341.37L587.95 334.55L588.22 324.64L588.48 312.28L588.75 298.52L589.02 284.64L589.28 272.03L589.55 261.95L589.81 255.45L590.08 253.20L590.34 255.22L590.59 257.41L590.85 259.77L591.10 262.28L591.36 264.94L591.61 267.75L591.87 270.70L592.12 273.77L592.38 276.96L592.63 280.25L592.89 283.63L593.14 287.08L593.40 290.58L593.65 294.13L593.91 297.71L594.16 301.29L594.42 304.87L594.67 308.42L594.93 311.92L595.19 315.37L595.44 318.75L595.70 322.04L595.95 325.23L596.21 328.30L596.46 331.25L596.72 334.06L596.97 336.72L597.23 339.23L597.48 341.59L597.74 343.78L597.99 345.80L598.26 344.91L598.53 341.24L598.79 334.21L599.06 324.00L599.32 311.26L599.59 297.09L599.86 282.80L600.12 269.80L600.39 259.41L600.65 252.71L600.92 250.40L601.18 252.49L601.43 254.74L601.69 257.17L601.94 259.75L602.20 262.50L602.45 265.39L602.71 268.43L602.96 271.60L603.22 274.88L603.47 278.27L603.73 281.75L603.98 285.30L604.24 288.91L604.49 292.57L604.75 296.25L605.00 299.95L605.26 303.63L605.51 307.29L605.77 310.90L606.03 314.45L606.28 317.93L606.54 321.32L606.79 324.60L607.05 327.77L607.30 330.81L607.56 333.70L607.81 336.45L608.07 339.03L608.32 341.46L608.58 343.71L608.83 345.80L609.10 344.90L609.37 341.19L609.63 334.09L609.90 323.77L610.16 310.90L610.43 296.58L610.70 282.13L610.96 269.00L611.23 258.51L611.49 251.74L611.76 249.40L612.02 251.51L612.27 253.79L612.53 256.24L612.78 258.85L613.04 261.63L613.29 264.55L613.55 267.62L613.80 270.82L614.06 274.14L614.31 277.56L614.57 281.07L614.82 284.67L615.08 288.32L615.33 292.01L615.59 295.73L615.84 299.47L616.10 303.19L616.35 306.88L616.61 310.53L616.87 314.13L617.12 317.64L617.38 321.06L617.63 324.38L617.89 327.58L618.14 330.65L618.40 333.57L618.65 336.35L618.91 338.96L619.16 341.41L619.42 343.69L619.67 345.80L619.94 344.93L620.21 341.34L620.47 334.47L620.74 324.48L621.00 312.02L621.27 298.16L621.54 284.18L621.80 271.47L622.07 261.31L622.33 254.76L622.60 252.50L622.86 254.54L623.11 256.75L623.37 259.12L623.62 261.65L623.88 264.33L624.13 267.16L624.39 270.13L624.64 273.23L624.90 276.44L625.15 279.75L625.41 283.16L625.66 286.63L625.92 290.17L626.17 293.74L626.43 297.34L626.68 300.96L626.94 304.56L627.19 308.13L627.45 311.67L627.71 315.14L627.96 318.55L628.22 321.86L628.47 325.07L628.73 328.17L628.98 331.14L629.24 333.97L629.49 336.65L629.75 339.18L630.00 341.55L630.26 343.76L630.51 345.80L630.78 344.93L631.05 341.30L631.31 334.38L631.58 324.32L631.84 311.77L632.11 297.80L632.38 283.72L632.64 270.91L632.91 260.68L633.17 254.08L633.44 251.80L633.70 253.86L633.95 256.08L634.21 258.47L634.46 261.02L634.72 263.72L634.97 266.57L635.23 269.57L635.48 272.68L635.74 275.92L635.99 279.26L636.25 282.69L636.50 286.19L636.76 289.75L637.01 293.35L637.27 296.98L637.52 300.62L637.78 304.25L638.03 307.85L638.29 311.41L638.55 314.91L638.80 318.34L639.06 321.68L639.31 324.92L639.57 328.03L639.82 331.03L640.08 333.88L640.33 336.58L640.59 339.13L640.84 341.52L641.10 343.74L641.35 345.80L641.62 344.88L641.89 341.04L642.15 333.70L642.42 323.04L642.68 309.74L642.95 294.94L643.22 280.02L643.48 266.45L643.75 255.61L644.01 248.62L644.28 246.20L644.54 248.38L644.79 250.73L645.05 253.26L645.30 255.97L645.56 258.83L645.81 261.85L646.07 265.02L646.32 268.33L646.58 271.76L646.83 275.29L647.09 278.93L647.34 282.64L647.60 286.41L647.85 290.23L648.11 294.07L648.36 297.93L648.62 301.77L648.87 305.59L649.13 309.36L649.39 313.07L649.64 316.71L649.90 320.24L650.15 323.67L650.41 326.98L650.66 330.15L650.92 333.17L651.17 336.03L651.43 338.74L651.68 341.27L651.94 343.62L652.19 345.80L652.46 344.92L652.73 341.27L652.99 334.30L653.26 324.16L653.52 311.51L653.79 297.44L654.06 283.26L654.32 270.36L654.59 260.05L654.85 253.40L655.12 251.10L655.38 253.17L655.63 255.41L655.89 257.82L656.14 260.39L656.40 263.11L656.65 265.98L656.91 269.00L657.16 272.14L657.42 275.40L657.67 278.76L657.93 282.22L658.18 285.74L658.44 289.33L658.69 292.96L658.95 296.62L659.20 300.28L659.46 303.94L659.71 307.57L659.97 311.16L660.23 314.68L660.48 318.14L660.74 321.50L660.99 324.76L661.25 327.90L661.50 330.92L661.76 333.79L662.01 336.51L662.27 339.08L662.52 341.49L662.78 343.73L663.03 345.80L663.30 344.93L663.57 341.34L663.83 334.47L664.10 324.48L664.36 312.02L664.63 298.16L664.90 284.18L665.16 271.47L665.43 261.31L665.69 254.76L665.96 252.50L666.22 254.54L666.47 256.75L666.73 259.12L666.98 261.65L667.24 264.33L667.49 267.16L667.75 270.13L668.00 273.23L668.26 276.44L668.51 279.75L668.77 283.16L669.02 286.63L669.28 290.17L669.53 293.74L669.79 297.34L670.04 300.96L670.30 304.56L670.55 308.13L670.81 311.67L671.07 315.14L671.32 318.55L671.58 321.86L671.83 325.07L672.09 328.17L672.34 331.14L672.60 333.97L672.85 336.65L673.11 339.18L673.36 341.55L673.62 343.76L673.87 345.80L674.14 344.92L674.41 341.27L674.67 334.29L674.94 324.13L675.20 311.48L675.47 297.39L675.74 283.19L676.00 270.28L676.27 259.96L676.40 256.65" fill="none" stroke="#999" stroke-width="1.40" stroke-dasharray="5.6 4.8" stroke-linejoin="round"/>
<path d="M426.40 315.20L426.40 315.15L427.90 315.29L429.40 315.13L430.90 315.24L432.40 315.12L433.90 315.15L435.40 315.30L436.90 315.14L438.40 315.23L439.90 315.19L441.40 315.19L442.90 315.20L444.40 315.14L445.90 315.27L447.40 315.12L448.90 315.15L450.40 315.10L451.90 315.15L453.40 315.18L454.90 315.28L456.40 315.18L457.90 315.12L459.40 315.15L460.90 315.30L462.40 315.11L463.90 315.22L465.40 315.18L466.90 315.23L468.40 315.17L469.90 315.24L471.40 315.20L472.48 315.20L472.74 315.20L473.00 315.18L473.25 315.15L473.51 315.09L473.77 315.02L474.03 314.93L474.29 314.82L474.54 314.70L474.80 314.56L475.06 314.41L475.32 314.25L475.58 314.09L475.84 313.94L476.09 313.78L476.35 313.64L476.61 313.52L476.87 313.41L477.13 313.32L477.38 313.25L477.64 313.21L477.90 313.20L478.15 313.21L478.40 313.24L478.66 313.30L478.91 313.38L479.16 313.47L479.41 313.59L479.66 313.72L479.91 313.86L480.17 314.02L480.42 314.19L480.67 314.37L480.92 314.55L481.17 314.73L481.42 314.92L481.68 315.10L481.93 315.27L482.18 315.44L482.43 315.60L482.68 315.75L482.93 315.88L483.19 316.00L483.44 316.11L483.69 316.19L483.94 316.26L484.19 316.32L484.44 316.36L484.70 316.38L484.95 316.40L485.20 316.40L485.46 316.38L485.71 316.32L485.97 316.19L486.22 315.98L486.48 315.69L486.74 315.32L486.99 314.87L487.25 314.34L487.50 313.74L487.76 313.08L488.02 312.36L488.27 311.61L488.53 310.83L488.78 310.03L489.04 309.24L489.30 308.47L489.55 307.73L489.81 307.04L490.06 306.41L490.32 305.85L490.58 305.38L490.83 305.00L491.09 304.72L491.34 304.56L491.60 304.50L491.85 304.58L492.10 304.83L492.36 305.23L492.61 305.79L492.86 306.49L493.11 307.32L493.36 308.28L493.61 309.34L493.87 310.49L494.12 311.72L494.37 313.00L494.62 314.32L494.87 315.66L495.12 317.00L495.38 318.31L495.63 319.59L495.88 320.82L496.13 321.98L496.38 323.05L496.63 324.03L496.89 324.90L497.14 325.65L497.39 326.30L497.64 326.82L497.89 327.22L498.14 327.51L498.40 327.69L498.65 327.78L498.90 327.80L499.16 327.67L499.42 327.12L499.68 326.02L499.94 324.34L500.19 322.08L500.45 319.27L500.71 316.00L500.97 312.38L501.23 308.54L501.49 304.64L501.75 300.84L502.01 297.29L502.26 294.15L502.52 291.55L502.78 289.61L503.04 288.41L503.30 288.00L503.56 289.18L503.81 290.45L504.07 291.83L504.33 293.29L504.58 294.85L504.84 296.50L505.10 298.22L505.35 300.02L505.61 301.89L505.87 303.82L506.12 305.79L506.38 307.81L506.64 309.85L506.89 311.92L507.15 314.00L507.41 316.08L507.66 318.15L507.92 320.19L508.18 322.21L508.43 324.18L508.69 326.11L508.95 327.98L509.20 329.78L509.46 331.50L509.72 333.15L509.97 334.71L510.23 336.17L510.49 337.55L510.74 338.82L511.00 340.00L511.25 339.38L511.51 336.79L511.76 331.85L512.02 324.66L512.27 315.71L512.53 305.74L512.78 295.69L513.04 286.54L513.29 279.24L513.55 274.53L513.80 272.90L514.06 274.47L514.31 276.17L514.57 278.00L514.82 279.95L515.08 282.02L515.33 284.20L515.59 286.49L515.84 288.87L516.10 291.35L516.35 293.90L516.61 296.52L516.86 299.20L517.12 301.93L517.37 304.68L517.63 307.46L517.88 310.24L518.14 313.02L518.39 315.77L518.65 318.50L518.91 321.18L519.16 323.80L519.42 326.35L519.67 328.83L519.93 331.21L520.18 333.50L520.44 335.68L520.69 337.75L520.95 339.70L521.20 341.53L521.46 343.23L521.71 344.80L521.98 344.01L522.25 340.73L522.51 334.47L522.78 325.35L523.04 313.99L523.31 301.35L523.58 288.60L523.84 277.00L524.11 267.74L524.37 261.76L524.64 259.70L524.90 261.56L525.15 263.57L525.41 265.74L525.66 268.04L525.92 270.49L526.17 273.08L526.43 275.78L526.68 278.61L526.94 281.54L527.19 284.56L527.45 287.66L527.70 290.83L527.96 294.06L528.21 297.32L528.47 300.60L528.72 303.90L528.98 307.18L529.23 310.44L529.49 313.67L529.75 316.84L530.00 319.94L530.26 322.96L530.51 325.89L530.77 328.72L531.02 331.42L531.28 334.01L531.53 336.46L531.79 338.76L532.04 340.93L532.30 342.94L532.55 344.80L532.82 344.04L533.09 340.89L533.35 334.87L533.62 326.10L533.88 315.19L534.15 303.03L534.42 290.78L534.68 279.63L534.95 270.73L535.21 264.98L535.48 263.00L535.74 264.79L535.99 266.72L536.25 268.80L536.50 271.02L536.76 273.37L537.01 275.86L537.27 278.46L537.52 281.17L537.78 283.99L538.03 286.89L538.29 289.88L538.54 292.93L538.80 296.02L539.05 299.16L539.31 302.32L539.56 305.48L539.82 308.64L540.07 311.78L540.33 314.87L540.59 317.92L540.84 320.91L541.10 323.81L541.35 326.63L541.61 329.34L541.86 331.94L542.12 334.43L542.37 336.78L542.63 339.00L542.88 341.08L543.14 343.01L543.39 344.80L543.66 344.00L543.93 340.67L544.19 334.31L544.46 325.05L544.72 313.52L544.99 300.68L545.26 287.74L545.52 275.97L545.79 266.56L546.05 260.50L546.32 258.40L546.58 260.29L546.83 262.33L547.09 264.53L547.34 266.87L547.60 269.36L547.85 271.98L548.11 274.73L548.36 277.60L548.62 280.57L548.87 283.64L549.13 286.79L549.38 290.01L549.64 293.28L549.89 296.59L550.15 299.93L550.40 303.27L550.66 306.61L550.91 309.92L551.17 313.19L551.43 316.41L551.68 319.56L551.94 322.63L552.19 325.60L552.45 328.47L552.70 331.22L552.96 333.84L553.21 336.33L553.47 338.67L553.72 340.87L553.98 342.91L554.23 344.80L554.50 343.99L554.77 340.61L555.03 334.15L555.30 324.76L555.56 313.05L555.83 300.02L556.10 286.88L556.36 274.93L556.63 265.39L556.89 259.23L557.16 257.10L557.42 259.02L557.67 261.09L557.93 263.32L558.18 265.70L558.44 268.22L558.69 270.88L558.95 273.67L559.20 276.58L559.46 279.60L559.71 282.72L559.97 285.92L560.22 289.18L560.48 292.51L560.73 295.87L560.99 299.25L561.24 302.65L561.50 306.03L561.75 309.39L562.01 312.72L562.27 315.98L562.52 319.18L562.78 322.30L563.03 325.32L563.29 328.23L563.54 331.02L563.80 333.68L564.05 336.20L564.31 338.58L564.56 340.81L564.82 342.88L565.07 344.80L565.34 343.98L565.61 340.57L565.87 334.06L566.14 324.60L566.40 312.80L566.67 299.66L566.94 286.42L567.20 274.37L567.47 264.75L567.73 258.54L568.00 256.40L568.26 258.33L568.51 260.42L568.77 262.67L569.02 265.07L569.28 267.61L569.53 270.29L569.79 273.11L570.04 276.04L570.30 279.08L570.55 282.22L570.81 285.45L571.06 288.74L571.32 292.09L571.57 295.48L571.83 298.89L572.08 302.31L572.34 305.72L572.59 309.11L572.85 312.46L573.11 315.75L573.36 318.98L573.62 322.12L573.87 325.16L574.13 328.09L574.38 330.91L574.64 333.59L574.89 336.13L575.15 338.53L575.40 340.78L575.66 342.87L575.91 344.80L576.18 344.02L576.45 340.76L576.71 334.55L576.98 325.51L577.24 314.24L577.51 301.70L577.78 289.06L578.04 277.56L578.31 268.37L578.57 262.45L578.84 260.40L579.10 262.25L579.35 264.24L579.61 266.39L579.86 268.68L580.12 271.10L580.37 273.67L580.63 276.35L580.88 279.15L581.14 282.06L581.39 285.05L581.65 288.13L581.90 291.28L582.16 294.47L582.41 297.71L582.67 300.97L582.92 304.23L583.18 307.49L583.43 310.73L583.69 313.92L583.95 317.07L584.20 320.15L584.46 323.14L584.71 326.05L584.97 328.85L585.22 331.53L585.48 334.10L585.73 336.52L585.99 338.81L586.24 340.96L586.50 342.95L586.75 344.80L587.02 343.96L587.29 340.49L587.55 333.85L587.82 324.18L588.08 312.14L588.35 298.74L588.62 285.23L588.88 272.94L589.15 263.12L589.41 256.79L589.68 254.60L589.94 256.57L590.19 258.71L590.45 261.00L590.70 263.44L590.96 266.04L591.21 268.78L591.47 271.65L591.72 274.64L591.98 277.74L592.23 280.95L592.49 284.24L592.74 287.60L593.00 291.02L593.25 294.47L593.51 297.95L593.76 301.45L594.02 304.93L594.27 308.38L594.53 311.80L594.79 315.16L595.04 318.45L595.30 321.66L595.55 324.76L595.81 327.75L596.06 330.62L596.32 333.36L596.57 335.96L596.83 338.40L597.08 340.69L597.34 342.83L597.59 344.80L597.86 344.02L598.13 340.78L598.39 334.60L598.66 325.60L598.92 314.39L599.19 301.91L599.46 289.32L599.72 277.88L599.99 268.74L600.25 262.84L600.52 260.80L600.78 262.64L601.03 264.62L601.29 266.76L601.54 269.04L601.80 271.45L602.05 274.00L602.31 276.68L602.56 279.46L602.82 282.35L603.07 285.34L603.33 288.40L603.58 291.53L603.84 294.71L604.09 297.93L604.35 301.17L604.60 304.43L604.86 307.67L605.11 310.89L605.37 314.07L605.63 317.20L605.88 320.26L606.14 323.25L606.39 326.14L606.65 328.92L606.90 331.60L607.16 334.15L607.41 336.56L607.67 338.84L607.92 340.98L608.18 342.96L608.43 344.80L608.70 344.01L608.97 340.72L609.23 334.43L609.50 325.28L609.76 313.88L610.03 301.19L610.30 288.40L610.56 276.76L610.83 267.47L611.09 261.47L611.36 259.40L611.62 261.27L611.87 263.29L612.13 265.46L612.38 267.77L612.64 270.23L612.89 272.82L613.15 275.54L613.40 278.37L613.66 281.31L613.91 284.35L614.17 287.46L614.42 290.64L614.68 293.88L614.93 297.15L615.19 300.45L615.44 303.75L615.70 307.05L615.95 310.32L616.21 313.56L616.47 316.74L616.72 319.85L616.98 322.89L617.23 325.83L617.49 328.66L617.74 331.38L618.00 333.97L618.25 336.43L618.51 338.74L618.76 340.91L619.02 342.93L619.27 344.80L619.54 344.01L619.81 340.75L620.07 334.51L620.34 325.44L620.60 314.14L620.87 301.55L621.14 288.86L621.40 277.32L621.67 268.10L621.93 262.15L622.20 260.10L622.46 261.95L622.71 263.96L622.97 266.11L623.22 268.41L623.48 270.84L623.73 273.41L623.99 276.11L624.24 278.92L624.50 281.83L624.75 284.84L625.01 287.93L625.26 291.09L625.52 294.29L625.77 297.54L626.03 300.81L626.28 304.09L626.54 307.36L626.79 310.61L627.05 313.81L627.31 316.97L627.56 320.06L627.82 323.07L628.07 325.98L628.33 328.79L628.58 331.49L628.84 334.06L629.09 336.49L629.35 338.79L629.60 340.94L629.86 342.95L630.11 344.80L630.38 344.01L630.65 340.72L630.91 334.43L631.18 325.28L631.44 313.88L631.71 301.19L631.98 288.40L632.24 276.76L632.51 267.47L632.77 261.47L633.04 259.40L633.30 261.27L633.55 263.29L633.81 265.46L634.06 267.77L634.32 270.23L634.57 272.82L634.83 275.54L635.08 278.37L635.34 281.31L635.59 284.35L635.85 287.46L636.10 290.64L636.36 293.88L636.61 297.15L636.87 300.45L637.12 303.75L637.38 307.05L637.63 310.32L637.89 313.56L638.15 316.74L638.40 319.85L638.66 322.89L638.91 325.83L639.17 328.66L639.42 331.38L639.68 333.97L639.93 336.43L640.19 338.74L640.44 340.91L640.70 342.93L640.95 344.80L641.22 343.98L641.49 340.58L641.75 334.09L642.02 324.64L642.28 312.87L642.55 299.76L642.82 286.55L643.08 274.53L643.35 264.93L643.61 258.74L643.88 256.60L644.14 258.53L644.39 260.61L644.65 262.86L644.90 265.25L645.16 267.79L645.41 270.46L645.67 273.27L645.92 276.20L646.18 279.23L646.43 282.36L646.69 285.58L646.94 288.87L647.20 292.21L647.45 295.59L647.71 298.99L647.96 302.41L648.22 305.81L648.47 309.19L648.73 312.53L648.99 315.82L649.24 319.04L649.50 322.17L649.75 325.20L650.01 328.13L650.26 330.94L650.52 333.61L650.77 336.15L651.03 338.54L651.28 340.79L651.54 342.87L651.79 344.80L652.06 343.98L652.33 340.55L652.59 334.02L652.86 324.50L653.12 312.65L653.39 299.46L653.66 286.15L653.92 274.06L654.19 264.39L654.45 258.15L654.72 256.00L654.98 257.94L655.23 260.04L655.49 262.30L655.74 264.71L656.00 267.26L656.25 269.96L656.51 272.78L656.76 275.73L657.02 278.79L657.27 281.94L657.53 285.18L657.78 288.49L658.04 291.85L658.29 295.25L658.55 298.68L658.80 302.12L659.06 305.55L659.31 308.95L659.57 312.31L659.83 315.62L660.08 318.86L660.34 322.01L660.59 325.07L660.85 328.02L661.10 330.84L661.36 333.54L661.61 336.09L661.87 338.50L662.12 340.76L662.38 342.86L662.63 344.80L662.90 343.99L663.17 340.65L663.43 334.26L663.70 324.96L663.96 313.37L664.23 300.48L664.50 287.47L664.76 275.65L665.03 266.20L665.29 260.11L665.56 258.00L665.82 259.90L666.07 261.95L666.33 264.16L666.58 266.51L666.84 269.01L667.09 271.64L667.35 274.40L667.60 277.28L667.86 280.27L668.11 283.36L668.37 286.52L668.62 289.75L668.88 293.04L669.13 296.37L669.39 299.72L669.64 303.08L669.90 306.43L670.15 309.76L670.41 313.05L670.67 316.28L670.92 319.44L671.18 322.53L671.43 325.52L671.69 328.40L671.94 331.16L672.20 333.79L672.45 336.29L672.71 338.64L672.96 340.85L673.22 342.90L673.47 344.80L673.74 343.98L674.01 340.55L674.27 334.02L674.54 324.50L674.80 312.65L675.07 299.46L675.34 286.15L675.60 274.06L675.87 264.39L676.13 258.15L676.40 256.00" fill="none" stroke="#f00" stroke-width="1.10" stroke-dasharray="1.6 2.2" stroke-linejoin="round"/>
<path d="M426.40 313.70L426.40 313.66L427.90 313.63L429.40 313.73L430.90 313.61L432.40 313.71L433.90 313.67L435.40 313.61L436.90 313.70L438.40 313.61L439.90 313.69L441.40 313.61L442.90 313.62L444.40 313.68L445.90 313.77L447.40 313.62L448.90 313.64L450.40 313.73L451.90 313.79L453.40 313.72L454.90 313.68L456.40 313.80L457.90 313.61L459.40 313.77L460.90 313.66L462.40 313.63L463.90 313.62L465.40 313.66L466.90 313.76L468.40 313.64L469.90 313.72L471.40 313.73L472.88 313.70L473.14 313.70L473.40 313.69L473.65 313.69L473.91 313.67L474.17 313.66L474.43 313.63L474.69 313.61L474.94 313.57L475.20 313.54L475.46 313.50L475.72 313.46L475.98 313.42L476.24 313.38L476.49 313.35L476.75 313.31L477.01 313.28L477.27 313.25L477.53 313.23L477.78 313.21L478.04 313.20L478.30 313.20L478.55 313.21L478.80 313.24L479.06 313.30L479.31 313.38L479.56 313.47L479.81 313.59L480.06 313.72L480.31 313.86L480.57 314.02L480.82 314.19L481.07 314.37L481.32 314.55L481.57 314.73L481.82 314.92L482.08 315.10L482.33 315.27L482.58 315.44L482.83 315.60L483.08 315.75L483.33 315.88L483.59 316.00L483.84 316.11L484.09 316.19L484.34 316.26L484.59 316.32L484.84 316.36L485.10 316.38L485.35 316.40L485.60 316.40L485.86 316.38L486.11 316.32L486.37 316.19L486.62 315.98L486.88 315.69L487.14 315.32L487.39 314.87L487.65 314.34L487.90 313.74L488.16 313.08L488.42 312.36L488.67 311.61L488.93 310.83L489.18 310.03L489.44 309.24L489.70 308.47L489.95 307.73L490.21 307.04L490.46 306.41L490.72 305.85L490.98 305.38L491.23 305.00L491.49 304.72L491.74 304.56L492.00 304.50L492.25 304.58L492.50 304.83L492.76 305.23L493.01 305.79L493.26 306.49L493.51 307.32L493.76 308.28L494.01 309.34L494.27 310.49L494.52 311.72L494.77 313.00L495.02 314.32L495.27 315.66L495.52 317.00L495.78 318.31L496.03 319.59L496.28 320.82L496.53 321.98L496.78 323.05L497.03 324.03L497.29 324.90L497.54 325.65L497.79 326.30L498.04 326.82L498.29 327.22L498.54 327.51L498.80 327.69L499.05 327.78L499.30 327.80L499.56 327.67L499.82 327.12L500.08 326.02L500.34 324.34L500.59 322.08L500.85 319.27L501.11 316.00L501.37 312.38L501.63 308.54L501.89 304.64L502.15 300.84L502.41 297.29L502.66 294.15L502.92 291.55L503.18 289.61L503.44 288.41L503.70 288.00L503.96 289.18L504.21 290.45L504.47 291.83L504.73 293.29L504.98 294.85L505.24 296.50L505.50 298.22L505.75 300.02L506.01 301.89L506.27 303.82L506.52 305.79L506.78 307.81L507.04 309.85L507.29 311.92L507.55 314.00L507.81 316.08L508.06 318.15L508.32 320.19L508.58 322.21L508.83 324.18L509.09 326.11L509.35 327.98L509.60 329.78L509.86 331.50L510.12 333.15L510.37 334.71L510.63 336.17L510.89 337.55L511.14 338.82L511.40 340.00L511.65 339.44L511.91 337.11L512.16 332.65L512.42 326.17L512.67 318.10L512.93 309.11L513.18 300.04L513.44 291.80L513.69 285.22L513.95 280.97L514.20 279.50L514.46 280.88L514.71 282.37L514.97 283.97L515.22 285.68L515.48 287.49L515.73 289.40L515.99 291.41L516.24 293.50L516.50 295.67L516.75 297.90L517.01 300.20L517.26 302.55L517.52 304.93L517.77 307.35L518.03 309.78L518.28 312.22L518.54 314.65L518.79 317.07L519.05 319.45L519.31 321.80L519.56 324.10L519.82 326.33L520.07 328.50L520.33 330.59L520.58 332.60L520.84 334.51L521.09 336.32L521.35 338.03L521.60 339.63L521.86 341.12L522.11 342.50L522.38 341.79L522.65 338.84L522.91 333.21L523.18 325.02L523.44 314.80L523.71 303.44L523.98 291.98L524.24 281.55L524.51 273.23L524.77 267.86L525.04 266.00L525.30 267.67L525.55 269.48L525.81 271.43L526.06 273.50L526.32 275.70L526.57 278.02L526.83 280.46L527.08 283.00L527.34 285.63L527.59 288.35L527.85 291.14L528.10 293.99L528.36 296.88L528.61 299.82L528.87 302.77L529.12 305.73L529.38 308.68L529.63 311.62L529.89 314.51L530.15 317.36L530.40 320.15L530.66 322.87L530.91 325.50L531.17 328.04L531.42 330.48L531.68 332.80L531.93 335.00L532.19 337.07L532.44 339.02L532.70 340.83L532.95 342.50L533.22 341.83L533.49 339.03L533.75 333.70L534.02 325.93L534.28 316.25L534.55 305.48L534.82 294.62L535.08 284.74L535.35 276.85L535.61 271.76L535.88 270.00L536.14 271.59L536.39 273.30L536.65 275.14L536.90 277.11L537.16 279.20L537.41 281.40L537.67 283.70L537.92 286.11L538.18 288.60L538.43 291.18L538.69 293.82L538.94 296.52L539.20 299.27L539.45 302.05L539.71 304.85L539.96 307.65L540.22 310.45L540.47 313.23L540.73 315.98L540.99 318.68L541.24 321.32L541.50 323.90L541.75 326.39L542.01 328.80L542.26 331.10L542.52 333.30L542.77 335.39L543.03 337.36L543.28 339.20L543.54 340.91L543.79 342.50L544.06 341.81L544.33 338.95L544.59 333.49L544.86 325.54L545.12 315.64L545.39 304.61L545.66 293.50L545.92 283.39L546.19 275.31L546.45 270.10L546.72 268.30L546.98 269.92L547.23 271.68L547.49 273.56L547.74 275.58L548.00 277.71L548.25 279.96L548.51 282.32L548.76 284.79L549.02 287.34L549.27 289.97L549.53 292.68L549.78 295.44L550.04 298.26L550.29 301.10L550.55 303.96L550.80 306.84L551.06 309.70L551.31 312.54L551.57 315.36L551.83 318.12L552.08 320.83L552.34 323.46L552.59 326.01L552.85 328.48L553.10 330.84L553.36 333.09L553.61 335.22L553.87 337.24L554.12 339.12L554.38 340.88L554.63 342.50L554.90 341.84L555.17 339.10L555.43 333.88L555.70 326.27L555.96 316.80L556.23 306.25L556.50 295.61L556.76 285.94L557.03 278.21L557.29 273.22L557.56 271.50L557.82 273.05L558.07 274.73L558.33 276.54L558.58 278.46L558.84 280.50L559.09 282.66L559.35 284.92L559.60 287.27L559.86 289.72L560.11 292.24L560.37 294.83L560.62 297.47L560.88 300.16L561.13 302.89L561.39 305.63L561.64 308.37L561.90 311.11L562.15 313.84L562.41 316.53L562.67 319.17L562.92 321.76L563.18 324.28L563.43 326.73L563.69 329.08L563.94 331.34L564.20 333.50L564.45 335.54L564.71 337.46L564.96 339.27L565.22 340.95L565.47 342.50L565.74 341.86L566.01 339.20L566.27 334.12L566.54 326.73L566.80 317.52L567.07 307.27L567.34 296.93L567.60 287.53L567.87 280.02L568.13 275.17L568.40 273.50L568.66 275.01L568.91 276.64L569.17 278.39L569.42 280.27L569.68 282.25L569.93 284.34L570.19 286.54L570.44 288.83L570.70 291.20L570.95 293.66L571.21 296.17L571.46 298.74L571.72 301.36L571.97 304.00L572.23 306.67L572.48 309.33L572.74 312.00L572.99 314.64L573.25 317.26L573.51 319.83L573.76 322.34L574.02 324.80L574.27 327.17L574.53 329.46L574.78 331.66L575.04 333.75L575.29 335.73L575.55 337.61L575.80 339.36L576.06 340.99L576.31 342.50L576.58 341.83L576.85 339.04L577.11 333.72L577.38 325.98L577.64 316.32L577.91 305.58L578.18 294.75L578.44 284.90L578.71 277.03L578.97 271.95L579.24 270.20L579.50 271.78L579.75 273.49L580.01 275.33L580.26 277.29L580.52 279.37L580.77 281.56L581.03 283.86L581.28 286.26L581.54 288.75L581.79 291.32L582.05 293.96L582.30 296.65L582.56 299.39L582.81 302.16L583.07 304.95L583.32 307.75L583.58 310.54L583.83 313.31L584.09 316.05L584.35 318.74L584.60 321.38L584.86 323.95L585.11 326.44L585.37 328.84L585.62 331.14L585.88 333.33L586.13 335.41L586.39 337.37L586.64 339.21L586.90 340.92L587.15 342.50L587.42 341.84L587.69 339.12L587.95 333.93L588.22 326.36L588.48 316.94L588.75 306.45L589.02 295.87L589.28 286.26L589.55 278.57L589.81 273.61L590.08 271.90L590.34 273.44L590.59 275.11L590.85 276.91L591.10 278.82L591.36 280.85L591.61 283.00L591.87 285.24L592.12 287.59L592.38 290.02L592.63 292.52L592.89 295.10L593.14 297.73L593.40 300.40L593.65 303.11L593.91 305.83L594.16 308.57L594.42 311.29L594.67 314.00L594.93 316.67L595.19 319.30L595.44 321.88L595.70 324.38L595.95 326.81L596.21 329.16L596.46 331.40L596.72 333.55L596.97 335.58L597.23 337.49L597.48 339.29L597.74 340.96L597.99 342.50L598.26 341.85L598.53 339.16L598.79 334.01L599.06 326.52L599.32 317.19L599.59 306.81L599.86 296.34L600.12 286.81L600.39 279.20L600.65 274.30L600.92 272.60L601.18 274.13L601.43 275.78L601.69 277.56L601.94 279.45L602.20 281.47L602.45 283.59L602.71 285.81L602.96 288.13L603.22 290.54L603.47 293.02L603.73 295.57L603.98 298.17L604.24 300.82L604.49 303.50L604.75 306.20L605.00 308.90L605.26 311.60L605.51 314.28L605.77 316.93L606.03 319.53L606.28 322.08L606.54 324.56L606.79 326.97L607.05 329.29L607.30 331.51L607.56 333.63L607.81 335.65L608.07 337.54L608.32 339.32L608.58 340.97L608.83 342.50L609.10 341.82L609.37 338.99L609.63 333.59L609.90 325.72L610.16 315.93L610.43 305.02L610.70 294.02L610.96 284.02L611.23 276.03L611.49 270.88L611.76 269.10L612.02 270.70L612.27 272.44L612.53 274.31L612.78 276.30L613.04 278.41L613.29 280.64L613.55 282.97L613.80 285.41L614.06 287.93L614.31 290.54L614.57 293.22L614.82 295.95L615.08 298.73L615.33 301.55L615.59 304.38L615.84 307.22L616.10 310.05L616.35 312.87L616.61 315.65L616.87 318.38L617.12 321.06L617.38 323.67L617.63 326.19L617.89 328.63L618.14 330.96L618.40 333.19L618.65 335.30L618.91 337.29L619.16 339.16L619.42 340.90L619.67 342.50L619.94 341.84L620.21 339.09L620.47 333.84L620.74 326.20L621.00 316.69L621.27 306.09L621.54 295.41L621.80 285.70L622.07 277.94L622.33 272.93L622.60 271.20L622.86 272.76L623.11 274.45L623.37 276.26L623.62 278.19L623.88 280.24L624.13 282.41L624.39 284.68L624.64 287.04L624.90 289.49L625.15 292.03L625.41 294.63L625.66 297.28L625.92 299.98L626.17 302.72L626.43 305.47L626.68 308.23L626.94 310.98L627.19 313.72L627.45 316.42L627.71 319.07L627.96 321.67L628.22 324.21L628.47 326.66L628.73 329.02L628.98 331.29L629.24 333.46L629.49 335.51L629.75 337.44L630.00 339.25L630.26 340.94L630.51 342.50L630.78 341.83L631.05 339.06L631.31 333.76L631.58 326.04L631.84 316.43L632.11 305.73L632.38 294.95L632.64 285.14L632.91 277.30L633.17 272.25L633.44 270.50L633.70 272.07L633.95 273.78L634.21 275.61L634.46 277.56L634.72 279.63L634.97 281.82L635.23 284.11L635.48 286.50L635.74 288.97L635.99 291.53L636.25 294.16L636.50 296.84L636.76 299.57L637.01 302.33L637.27 305.11L637.52 307.89L637.78 310.67L638.03 313.43L638.29 316.16L638.55 318.84L638.80 321.47L639.06 324.03L639.31 326.50L639.57 328.89L639.82 331.18L640.08 333.37L640.33 335.44L640.59 337.39L640.84 339.22L641.10 340.93L641.35 342.50L641.62 341.82L641.89 338.99L642.15 333.59L642.42 325.72L642.68 315.93L642.95 305.02L643.22 294.02L643.48 284.02L643.75 276.03L644.01 270.88L644.28 269.10L644.54 270.70L644.79 272.44L645.05 274.31L645.30 276.30L645.56 278.41L645.81 280.64L646.07 282.97L646.32 285.41L646.58 287.93L646.83 290.54L647.09 293.22L647.34 295.95L647.60 298.73L647.85 301.55L648.11 304.38L648.36 307.22L648.62 310.05L648.87 312.87L649.13 315.65L649.39 318.38L649.64 321.06L649.90 323.67L650.15 326.19L650.41 328.63L650.66 330.96L650.92 333.19L651.17 335.30L651.43 337.29L651.68 339.16L651.94 340.90L652.19 342.50L652.46 341.84L652.73 339.09L652.99 333.84L653.26 326.20L653.52 316.69L653.79 306.09L654.06 295.41L654.32 285.70L654.59 277.94L654.85 272.93L655.12 271.20L655.38 272.76L655.63 274.45L655.89 276.26L656.14 278.19L656.40 280.24L656.65 282.41L656.91 284.68L657.16 287.04L657.42 289.49L657.67 292.03L657.93 294.63L658.18 297.28L658.44 299.98L658.69 302.72L658.95 305.47L659.20 308.23L659.46 310.98L659.71 313.72L659.97 316.42L660.23 319.07L660.48 321.67L660.74 324.21L660.99 326.66L661.25 329.02L661.50 331.29L661.76 333.46L662.01 335.51L662.27 337.44L662.52 339.25L662.78 340.94L663.03 342.50L663.30 341.85L663.57 339.16L663.83 334.01L664.10 326.52L664.36 317.19L664.63 306.81L664.90 296.34L665.16 286.81L665.43 279.20L665.69 274.30L665.96 272.60L666.22 274.13L666.47 275.78L666.73 277.56L666.98 279.45L667.24 281.47L667.49 283.59L667.75 285.81L668.00 288.13L668.26 290.54L668.51 293.02L668.77 295.57L669.02 298.17L669.28 300.82L669.53 303.50L669.79 306.20L670.04 308.90L670.30 311.60L670.55 314.28L670.81 316.93L671.07 319.53L671.32 322.08L671.58 324.56L671.83 326.97L672.09 329.29L672.34 331.51L672.60 333.63L672.85 335.65L673.11 337.54L673.36 339.32L673.62 340.97L673.87 342.50L674.14 341.85L674.41 339.13L674.67 333.94L674.94 326.39L675.20 316.98L675.47 306.50L675.74 295.94L676.00 286.33L676.27 278.66L676.40 276.20" fill="none" stroke="#111" stroke-width="1.15" stroke-linejoin="round"/>
<g fill="none">
<rect x="70.20" y="7.40" width="250.60" height="158.50" class="fr"/>
<rect x="425.00" y="6.60" width="250.30" height="158.70" class="fr"/>
<rect x="70.20" y="235.20" width="250.60" height="158.50" class="fr"/>
<rect x="426.40" y="235.00" width="250.00" height="158.70" class="fr"/>
</g>
</svg>
</body></html>
